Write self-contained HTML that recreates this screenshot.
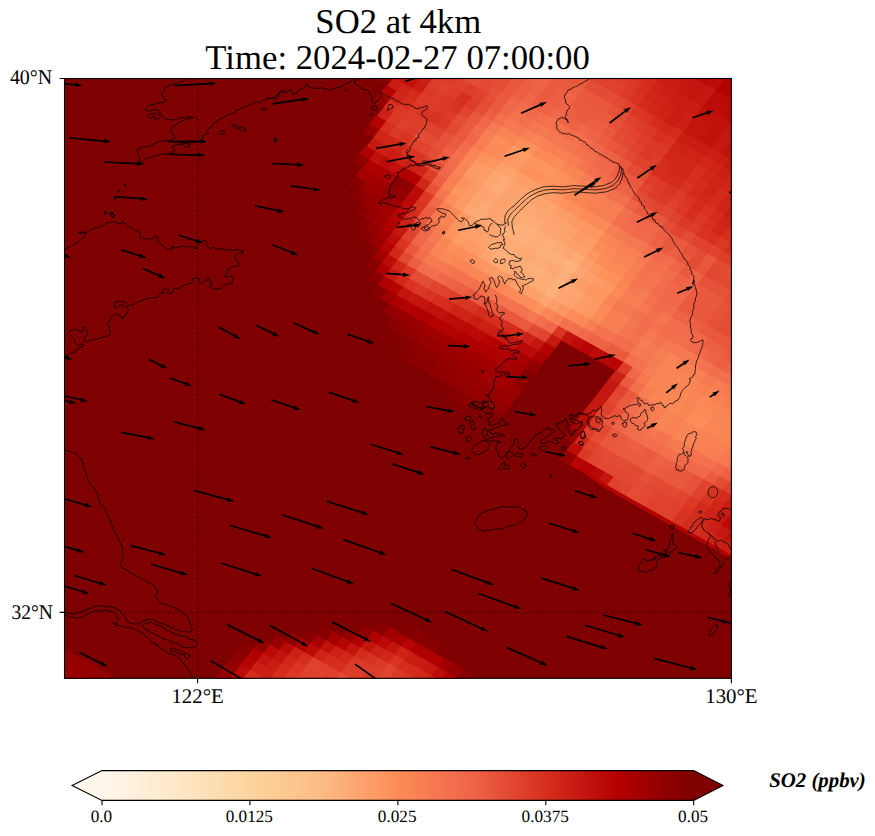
<!DOCTYPE html>
<html><head><meta charset="utf-8"><title>SO2 at 4km</title>
<style>
html,body{margin:0;padding:0;background:#fff;}
body{width:875px;height:836px;overflow:hidden;font-family:"Liberation Serif",serif;}
svg{display:block;}
text{font-family:"Liberation Serif",serif;fill:#000;text-rendering:geometricPrecision;}
</style></head><body>
<svg width="875" height="836" viewBox="0 0 875 836">
<rect width="875" height="836" fill="#fff"/>
<text x="398.3" y="33.2" font-size="34.72" text-anchor="middle">SO2 at 4km</text>
<text x="397.6" y="69.1" font-size="34.72" text-anchor="middle">Time: 2024-02-27 07:00:00</text>
<defs><clipPath id="axclip"><rect x="64.5" y="78.5" width="666.9" height="599.8"/></clipPath></defs>
<rect x="64.5" y="78.5" width="666.9" height="599.8" fill="#7f0000"/>
<g clip-path="url(#axclip)">
<path fill="#fdb27b" stroke="#fdb27b" stroke-width="1.6" d="M543.7 293.6L552.9 298.8L559.5 290.5L550.2 285.3ZM550.2 285.3L559.5 290.5L566.0 282.1L556.7 276.9ZM563.3 268.6L572.5 273.7L579.0 265.4L569.8 260.2Z"/>
<path fill="#fdaf79" stroke="#fdaf79" stroke-width="1.6" d="M498.5 232.3L507.8 237.5L514.3 229.1L505.1 223.9ZM494.7 254.2L504.0 259.4L510.5 251.0L501.3 245.8ZM507.8 237.5L517.0 242.7L523.6 234.3L514.3 229.1ZM514.3 229.1L523.6 234.3L530.1 226.0L520.8 220.8ZM504.0 259.4L513.2 264.5L519.8 256.2L510.5 251.0ZM517.0 242.7L526.3 247.8L532.8 239.5L523.6 234.3ZM523.6 234.3L532.8 239.5L539.3 231.1L530.1 226.0ZM522.5 269.7L531.7 274.9L538.3 266.6L529.0 261.4ZM535.5 253.0L544.8 258.2L551.3 249.8L542.1 244.7ZM542.1 244.7L551.3 249.8L557.8 241.5L548.6 236.3ZM531.7 274.9L541.0 280.1L547.5 271.7L538.3 266.6ZM544.8 258.2L554.0 263.4L560.6 255.0L551.3 249.8ZM554.0 263.4L563.3 268.6L569.8 260.2L560.6 255.0ZM556.7 276.9L566.0 282.1L572.5 273.7L563.3 268.6Z"/>
<path fill="#fdab75" stroke="#fdab75" stroke-width="1.6" d="M470.8 216.8L480.0 221.9L486.6 213.6L477.3 208.4ZM477.3 208.4L486.6 213.6L493.1 205.2L483.8 200.0ZM490.4 191.7L499.6 196.9L506.1 188.5L496.9 183.3ZM496.9 183.3L506.1 188.5L512.7 180.2L503.4 175.0ZM485.5 249.0L494.7 254.2L501.3 245.8L492.0 240.7ZM505.1 223.9L514.3 229.1L520.8 220.8L511.6 215.6ZM511.6 215.6L520.8 220.8L527.4 212.4L518.1 207.2ZM488.2 262.5L497.5 267.7L504.0 259.4L494.7 254.2ZM501.3 245.8L510.5 251.0L517.0 242.7L507.8 237.5ZM520.8 220.8L530.1 226.0L536.6 217.6L527.4 212.4ZM497.5 267.7L506.7 272.9L513.2 264.5L504.0 259.4ZM510.5 251.0L519.8 256.2L526.3 247.8L517.0 242.7ZM530.1 226.0L539.3 231.1L545.9 222.8L536.6 217.6ZM513.2 264.5L522.5 269.7L529.0 261.4L519.8 256.2ZM526.3 247.8L535.5 253.0L542.1 244.7L532.8 239.5ZM532.8 239.5L542.1 244.7L548.6 236.3L539.3 231.1ZM516.0 278.1L525.2 283.3L531.7 274.9L522.5 269.7ZM529.0 261.4L538.3 266.6L544.8 258.2L535.5 253.0ZM525.2 283.3L534.4 288.4L541.0 280.1L531.7 274.9ZM538.3 266.6L547.5 271.7L554.0 263.4L544.8 258.2ZM551.3 249.8L560.6 255.0L567.1 246.7L557.8 241.5ZM534.4 288.4L543.7 293.6L550.2 285.3L541.0 280.1ZM541.0 280.1L550.2 285.3L556.7 276.9L547.5 271.7ZM569.8 260.2L579.0 265.4L585.6 257.0L576.3 251.9Z"/>
<path fill="#fda671" stroke="#fda671" stroke-width="1.6" d="M461.5 211.6L470.8 216.8L477.3 208.4L468.1 203.2ZM481.1 186.5L490.4 191.7L496.9 183.3L487.7 178.2ZM487.7 178.2L496.9 183.3L503.4 175.0L494.2 169.8ZM483.8 200.0L493.1 205.2L499.6 196.9L490.4 191.7ZM480.0 221.9L489.3 227.1L495.8 218.8L486.6 213.6ZM489.3 227.1L498.5 232.3L505.1 223.9L495.8 218.8ZM495.8 218.8L505.1 223.9L511.6 215.6L502.3 210.4ZM492.0 240.7L501.3 245.8L507.8 237.5L498.5 232.3ZM518.1 207.2L527.4 212.4L533.9 204.1L524.6 198.9ZM524.6 198.9L533.9 204.1L540.4 195.7L531.2 190.5ZM527.4 212.4L536.6 217.6L543.1 209.2L533.9 204.1ZM536.6 217.6L545.9 222.8L552.4 214.4L543.1 209.2ZM506.7 272.9L516.0 278.1L522.5 269.7L513.2 264.5ZM519.8 256.2L529.0 261.4L535.5 253.0L526.3 247.8ZM539.3 231.1L548.6 236.3L555.1 228.0L545.9 222.8ZM548.6 236.3L557.8 241.5L564.4 233.1L555.1 228.0ZM547.5 271.7L556.7 276.9L563.3 268.6L554.0 263.4ZM560.6 255.0L569.8 260.2L576.3 251.9L567.1 246.7ZM537.2 302.0L546.4 307.2L552.9 298.8L543.7 293.6ZM552.9 298.8L562.2 304.0L568.7 295.6L559.5 290.5ZM559.5 290.5L568.7 295.6L575.2 287.3L566.0 282.1ZM572.5 273.7L581.8 278.9L588.3 270.6L579.0 265.4Z"/>
<path fill="#fca36e" stroke="#fca36e" stroke-width="1.6" d="M468.1 203.2L477.3 208.4L483.8 200.0L474.6 194.9ZM474.6 194.9L483.8 200.0L490.4 191.7L481.1 186.5ZM464.3 225.1L473.5 230.3L480.0 221.9L470.8 216.8ZM503.4 175.0L512.7 180.2L519.2 171.8L510.0 166.6ZM486.6 213.6L495.8 218.8L502.3 210.4L493.1 205.2ZM493.1 205.2L502.3 210.4L508.9 202.1L499.6 196.9ZM499.6 196.9L508.9 202.1L515.4 193.7L506.1 188.5ZM506.1 188.5L515.4 193.7L521.9 185.4L512.7 180.2ZM476.2 243.8L485.5 249.0L492.0 240.7L482.8 235.5ZM482.8 235.5L492.0 240.7L498.5 232.3L489.3 227.1ZM502.3 210.4L511.6 215.6L518.1 207.2L508.9 202.1ZM508.9 202.1L518.1 207.2L524.6 198.9L515.4 193.7ZM515.4 193.7L524.6 198.9L531.2 190.5L521.9 185.4ZM479.0 257.4L488.2 262.5L494.7 254.2L485.5 249.0ZM533.9 204.1L543.1 209.2L549.7 200.9L540.4 195.7ZM543.1 209.2L552.4 214.4L558.9 206.1L549.7 200.9ZM545.9 222.8L555.1 228.0L561.6 219.6L552.4 214.4ZM555.1 228.0L564.4 233.1L570.9 224.8L561.6 219.6ZM557.8 241.5L567.1 246.7L573.6 238.3L564.4 233.1ZM566.0 282.1L575.2 287.3L581.8 278.9L572.5 273.7ZM562.2 304.0L571.4 309.2L578.0 300.8L568.7 295.6ZM568.7 295.6L578.0 300.8L584.5 292.5L575.2 287.3Z"/>
<path fill="#fc9f6a" stroke="#fc9f6a" stroke-width="1.6" d="M494.2 169.8L503.4 175.0L510.0 166.6L500.7 161.5ZM457.7 233.5L467.0 238.6L473.5 230.3L464.3 225.1ZM467.0 238.6L476.2 243.8L482.8 235.5L473.5 230.3ZM473.5 230.3L482.8 235.5L489.3 227.1L480.0 221.9ZM509.4 286.4L518.7 291.6L525.2 283.3L516.0 278.1ZM518.7 291.6L527.9 296.8L534.4 288.4L525.2 283.3ZM564.4 233.1L573.6 238.3L580.1 230.0L570.9 224.8ZM527.9 296.8L537.2 302.0L543.7 293.6L534.4 288.4ZM567.1 246.7L576.3 251.9L582.9 243.5L573.6 238.3ZM576.3 251.9L585.6 257.0L592.1 248.7L582.9 243.5ZM579.0 265.4L588.3 270.6L594.8 262.2L585.6 257.0ZM581.8 278.9L591.0 284.1L597.5 275.8L588.3 270.6Z"/>
<path fill="#fc9c67" stroke="#fc9c67" stroke-width="1.6" d="M471.9 181.3L481.1 186.5L487.7 178.2L478.4 173.0ZM478.4 173.0L487.7 178.2L494.2 169.8L484.9 164.6ZM451.2 241.8L460.5 247.0L467.0 238.6L457.7 233.5ZM516.5 158.3L525.7 163.5L532.3 155.1L523.0 149.9ZM512.7 180.2L521.9 185.4L528.4 177.0L519.2 171.8ZM469.7 252.2L479.0 257.4L485.5 249.0L476.2 243.8ZM521.9 185.4L531.2 190.5L537.7 182.2L528.4 177.0ZM531.2 190.5L540.4 195.7L546.9 187.4L537.7 182.2ZM540.4 195.7L549.7 200.9L556.2 192.5L546.9 187.4ZM490.9 276.1L500.2 281.3L506.7 272.9L497.5 267.7ZM552.4 214.4L561.6 219.6L568.2 211.3L558.9 206.1ZM561.6 219.6L570.9 224.8L577.4 216.4L568.2 211.3ZM582.9 243.5L592.1 248.7L598.6 240.3L589.4 235.2ZM546.4 307.2L555.7 312.3L562.2 304.0L552.9 298.8ZM575.2 287.3L584.5 292.5L591.0 284.1L581.8 278.9ZM571.4 309.2L580.7 314.3L587.2 306.0L578.0 300.8ZM578.0 300.8L587.2 306.0L593.7 297.6L584.5 292.5ZM591.0 284.1L600.3 289.3L606.8 280.9L597.5 275.8Z"/>
<path fill="#fc9863" stroke="#fc9863" stroke-width="1.6" d="M462.6 176.2L471.9 181.3L478.4 173.0L469.2 167.8ZM469.2 167.8L478.4 173.0L484.9 164.6L475.7 159.4ZM452.3 206.4L461.5 211.6L468.1 203.2L458.8 198.0ZM458.8 198.0L468.1 203.2L474.6 194.9L465.4 189.7ZM465.4 189.7L474.6 194.9L481.1 186.5L471.9 181.3ZM455.0 219.9L464.3 225.1L470.8 216.8L461.5 211.6ZM507.2 153.1L516.5 158.3L523.0 149.9L513.8 144.8ZM510.0 166.6L519.2 171.8L525.7 163.5L516.5 158.3ZM460.5 247.0L469.7 252.2L476.2 243.8L467.0 238.6ZM481.7 270.9L490.9 276.1L497.5 267.7L488.2 262.5ZM549.7 200.9L558.9 206.1L565.4 197.7L556.2 192.5ZM500.2 281.3L509.4 286.4L516.0 278.1L506.7 272.9ZM570.9 224.8L580.1 230.0L586.7 221.6L577.4 216.4ZM573.6 238.3L582.9 243.5L589.4 235.2L580.1 230.0ZM588.3 270.6L597.5 275.8L604.1 267.4L594.8 262.2ZM580.7 314.3L589.9 319.5L596.5 311.2L587.2 306.0ZM587.2 306.0L596.5 311.2L603.0 302.8L593.7 297.6ZM600.3 289.3L609.5 294.5L616.0 286.1L606.8 280.9Z"/>
<path fill="#fc9560" stroke="#fc9560" stroke-width="1.6" d="M449.6 192.9L458.8 198.0L465.4 189.7L456.1 184.5ZM484.9 164.6L494.2 169.8L500.7 161.5L491.5 156.3ZM448.5 228.3L457.7 233.5L464.3 225.1L455.0 219.9ZM500.7 161.5L510.0 166.6L516.5 158.3L507.2 153.1ZM525.7 163.5L535.0 168.6L541.5 160.3L532.3 155.1ZM535.0 168.6L544.2 173.8L550.7 165.5L541.5 160.3ZM472.4 265.7L481.7 270.9L488.2 262.5L479.0 257.4ZM537.7 182.2L546.9 187.4L553.5 179.0L544.2 173.8ZM544.2 173.8L553.5 179.0L560.0 170.7L550.7 165.5ZM580.1 230.0L589.4 235.2L595.9 226.8L586.7 221.6ZM589.4 235.2L598.6 240.3L605.2 232.0L595.9 226.8ZM585.6 257.0L594.8 262.2L601.3 253.9L592.1 248.7ZM555.7 312.3L564.9 317.5L571.4 309.2L562.2 304.0ZM584.5 292.5L593.7 297.6L600.3 289.3L591.0 284.1ZM593.7 297.6L603.0 302.8L609.5 294.5L600.3 289.3Z"/>
<path fill="#fc915c" stroke="#fc915c" stroke-width="1.6" d="M456.1 184.5L465.4 189.7L471.9 181.3L462.6 176.2ZM475.7 159.4L484.9 164.6L491.5 156.3L482.2 151.1ZM442.0 236.6L451.2 241.8L457.7 233.5L448.5 228.3ZM444.7 250.2L453.9 255.3L460.5 247.0L451.2 241.8ZM523.0 149.9L532.3 155.1L538.8 146.8L529.5 141.6ZM519.2 171.8L528.4 177.0L535.0 168.6L525.7 163.5ZM463.2 260.5L472.4 265.7L479.0 257.4L469.7 252.2ZM528.4 177.0L537.7 182.2L544.2 173.8L535.0 168.6ZM546.9 187.4L556.2 192.5L562.7 184.2L553.5 179.0ZM553.5 179.0L562.7 184.2L569.2 175.8L560.0 170.7ZM558.9 206.1L568.2 211.3L574.7 202.9L565.4 197.7ZM568.2 211.3L577.4 216.4L583.9 208.1L574.7 202.9ZM530.6 310.3L539.9 315.5L546.4 307.2L537.2 302.0ZM597.5 275.8L606.8 280.9L613.3 272.6L604.1 267.4ZM606.8 280.9L616.0 286.1L622.6 277.8L613.3 272.6Z"/>
<path fill="#fc8c59" stroke="#fc8c59" stroke-width="1.6" d="M443.1 201.2L452.3 206.4L458.8 198.0L449.6 192.9ZM488.7 142.7L498.0 147.9L504.5 139.6L495.3 134.4ZM491.5 156.3L500.7 161.5L507.2 153.1L498.0 147.9ZM498.0 147.9L507.2 153.1L513.8 144.8L504.5 139.6ZM513.8 144.8L523.0 149.9L529.5 141.6L520.3 136.4ZM453.9 255.3L463.2 260.5L469.7 252.2L460.5 247.0ZM550.7 165.5L560.0 170.7L566.5 162.3L557.3 157.1ZM556.2 192.5L565.4 197.7L572.0 189.4L562.7 184.2ZM562.7 184.2L572.0 189.4L578.5 181.0L569.2 175.8ZM512.1 300.0L521.4 305.1L527.9 296.8L518.7 291.6ZM577.4 216.4L586.7 221.6L593.2 213.3L583.9 208.1ZM521.4 305.1L530.6 310.3L537.2 302.0L527.9 296.8ZM592.1 248.7L601.3 253.9L607.9 245.5L598.6 240.3ZM594.8 262.2L604.1 267.4L610.6 259.0L601.3 253.9ZM564.9 317.5L574.2 322.7L580.7 314.3L571.4 309.2ZM684.0 420.3L693.3 425.5L699.8 417.1L690.6 411.9ZM693.3 425.5L702.5 430.7L709.1 422.3L699.8 417.1Z"/>
<path fill="#fb8a58" stroke="#fb8a58" stroke-width="1.6" d="M482.2 151.1L491.5 156.3L498.0 147.9L488.7 142.7ZM445.8 214.7L455.0 219.9L461.5 211.6L452.3 206.4ZM438.2 258.5L447.4 263.7L453.9 255.3L444.7 250.2ZM532.3 155.1L541.5 160.3L548.0 151.9L538.8 146.8ZM541.5 160.3L550.7 165.5L557.3 157.1L548.0 151.9ZM484.4 284.4L493.7 289.6L500.2 281.3L490.9 276.1ZM502.9 294.8L512.1 300.0L518.7 291.6L509.4 286.4ZM586.7 221.6L595.9 226.8L602.4 218.4L593.2 213.3ZM595.9 226.8L605.2 232.0L611.7 223.6L602.4 218.4ZM601.3 253.9L610.6 259.0L617.1 250.7L607.9 245.5ZM604.1 267.4L613.3 272.6L619.8 264.2L610.6 259.0ZM574.2 322.7L583.4 327.9L589.9 319.5L580.7 314.3ZM613.3 272.6L622.6 277.8L629.1 269.4L619.8 264.2ZM589.9 319.5L599.2 324.7L605.7 316.4L596.5 311.2ZM596.5 311.2L605.7 316.4L612.2 308.0L603.0 302.8ZM609.5 294.5L618.8 299.7L625.3 291.3L616.0 286.1ZM656.3 404.8L665.6 409.9L672.1 401.6L662.8 396.4ZM665.6 409.9L674.8 415.1L681.3 406.8L672.1 401.6ZM690.6 411.9L699.8 417.1L706.3 408.8L697.1 403.6ZM697.1 403.6L706.3 408.8L712.9 400.4L703.6 395.2ZM699.8 417.1L709.1 422.3L715.6 413.9L706.3 408.8Z"/>
<path fill="#fa8656" stroke="#fa8656" stroke-width="1.6" d="M459.9 162.6L469.2 167.8L475.7 159.4L466.4 154.3ZM435.4 245.0L444.7 250.2L451.2 241.8L442.0 236.6ZM465.9 274.1L475.2 279.2L481.7 270.9L472.4 265.7ZM475.2 279.2L484.4 284.4L490.9 276.1L481.7 270.9ZM560.0 170.7L569.2 175.8L575.8 167.5L566.5 162.3ZM493.7 289.6L502.9 294.8L509.4 286.4L500.2 281.3ZM565.4 197.7L574.7 202.9L581.2 194.6L572.0 189.4ZM572.0 189.4L581.2 194.6L587.7 186.2L578.5 181.0ZM574.7 202.9L583.9 208.1L590.5 199.7L581.2 194.6ZM539.9 315.5L549.1 320.7L555.7 312.3L546.4 307.2ZM598.6 240.3L607.9 245.5L614.4 237.2L605.2 232.0ZM603.0 302.8L612.2 308.0L618.8 299.7L609.5 294.5ZM616.0 286.1L625.3 291.3L631.8 282.9L622.6 277.8ZM647.1 399.6L656.3 404.8L662.8 396.4L653.6 391.2ZM662.8 396.4L672.1 401.6L678.6 393.2L669.4 388.0ZM669.4 388.0L678.6 393.2L685.1 384.9L675.9 379.7ZM672.1 401.6L681.3 406.8L687.9 398.4L678.6 393.2ZM678.6 393.2L687.9 398.4L694.4 390.1L685.1 384.9ZM674.8 415.1L684.0 420.3L690.6 411.9L681.3 406.8ZM677.5 428.6L686.8 433.8L693.3 425.5L684.0 420.3ZM706.3 408.8L715.6 413.9L722.1 405.6L712.9 400.4ZM702.5 430.7L711.8 435.8L718.3 427.5L709.1 422.3ZM711.8 435.8L721.0 441.0L727.6 432.7L718.3 427.5ZM721.0 441.0L730.3 446.2L736.8 437.8L727.6 432.7Z"/>
<path fill="#f98455" stroke="#f98455" stroke-width="1.6" d="M453.4 171.0L462.6 176.2L469.2 167.8L459.9 162.6ZM466.4 154.3L475.7 159.4L482.2 151.1L473.0 145.9ZM495.3 134.4L504.5 139.6L511.0 131.2L501.8 126.0ZM439.2 223.1L448.5 228.3L455.0 219.9L445.8 214.7ZM504.5 139.6L513.8 144.8L520.3 136.4L511.0 131.2ZM428.9 253.3L438.2 258.5L444.7 250.2L435.4 245.0ZM529.5 141.6L538.8 146.8L545.3 138.4L536.1 133.2ZM447.4 263.7L456.7 268.9L463.2 260.5L453.9 255.3ZM456.7 268.9L465.9 274.1L472.4 265.7L463.2 260.5ZM569.2 175.8L578.5 181.0L585.0 172.7L575.8 167.5ZM581.2 194.6L590.5 199.7L597.0 191.4L587.7 186.2ZM607.9 245.5L617.1 250.7L623.6 242.3L614.4 237.2ZM610.6 259.0L619.8 264.2L626.4 255.9L617.1 250.7ZM619.8 264.2L629.1 269.4L635.6 261.1L626.4 255.9ZM644.3 386.0L653.6 391.2L660.1 382.9L650.9 377.7ZM650.9 377.7L660.1 382.9L666.6 374.5L657.4 369.3ZM657.4 369.3L666.6 374.5L673.2 366.2L663.9 361.0ZM663.9 361.0L673.2 366.2L679.7 357.8L670.4 352.6ZM653.6 391.2L662.8 396.4L669.4 388.0L660.1 382.9ZM660.1 382.9L669.4 388.0L675.9 379.7L666.6 374.5ZM666.6 374.5L675.9 379.7L682.4 371.3L673.2 366.2ZM675.9 379.7L685.1 384.9L691.7 376.5L682.4 371.3ZM652.5 426.6L661.7 431.8L668.3 423.5L659.0 418.3ZM659.0 418.3L668.3 423.5L674.8 415.1L665.6 409.9ZM685.1 384.9L694.4 390.1L700.9 381.7L691.7 376.5ZM681.3 406.8L690.6 411.9L697.1 403.6L687.9 398.4ZM687.9 398.4L697.1 403.6L703.6 395.2L694.4 390.1ZM671.0 437.0L680.2 442.2L686.8 433.8L677.5 428.6ZM703.6 395.2L712.9 400.4L719.4 392.1L710.2 386.9ZM680.2 442.2L689.5 447.4L696.0 439.0L686.8 433.8ZM686.8 433.8L696.0 439.0L702.5 430.7L693.3 425.5ZM709.1 422.3L718.3 427.5L724.8 419.1L715.6 413.9ZM715.6 413.9L724.8 419.1L731.4 410.8L722.1 405.6ZM718.3 427.5L727.6 432.7L734.1 424.3L724.8 419.1ZM724.8 419.1L734.1 424.3L740.6 416.0L731.4 410.8ZM727.6 432.7L736.8 437.8L743.3 429.5L734.1 424.3ZM734.1 424.3L743.3 429.5L749.9 421.1L740.6 416.0Z"/>
<path fill="#f88053" stroke="#f88053" stroke-width="1.6" d="M440.3 187.7L449.6 192.9L456.1 184.5L446.9 179.3ZM446.9 179.3L456.1 184.5L462.6 176.2L453.4 171.0ZM479.5 137.6L488.7 142.7L495.3 134.4L486.0 129.2ZM436.5 209.6L445.8 214.7L452.3 206.4L443.1 201.2ZM520.3 136.4L529.5 141.6L536.1 133.2L526.8 128.0ZM538.8 146.8L548.0 151.9L554.6 143.6L545.3 138.4ZM548.0 151.9L557.3 157.1L563.8 148.8L554.6 143.6ZM557.3 157.1L566.5 162.3L573.0 153.9L563.8 148.8ZM583.9 208.1L593.2 213.3L599.7 204.9L590.5 199.7ZM590.5 199.7L599.7 204.9L606.2 196.6L597.0 191.4ZM549.1 320.7L558.4 325.9L564.9 317.5L555.7 312.3ZM617.1 250.7L626.4 255.9L632.9 247.5L623.6 242.3ZM626.4 255.9L635.6 261.1L642.1 252.7L632.9 247.5ZM622.6 277.8L631.8 282.9L638.3 274.6L629.1 269.4ZM605.7 316.4L615.0 321.5L621.5 313.2L612.2 308.0ZM618.8 299.7L628.0 304.8L634.5 296.5L625.3 291.3ZM615.0 321.5L624.2 326.7L630.7 318.4L621.5 313.2ZM628.0 304.8L637.3 310.0L643.8 301.7L634.5 296.5ZM673.2 366.2L682.4 371.3L688.9 363.0L679.7 357.8ZM682.4 371.3L691.7 376.5L698.2 368.2L688.9 363.0ZM691.7 376.5L700.9 381.7L707.4 373.3L698.2 368.2ZM661.7 431.8L671.0 437.0L677.5 428.6L668.3 423.5ZM668.3 423.5L677.5 428.6L684.0 420.3L674.8 415.1ZM694.4 390.1L703.6 395.2L710.2 386.9L700.9 381.7ZM712.9 400.4L722.1 405.6L728.6 397.2L719.4 392.1ZM689.5 447.4L698.7 452.5L705.3 444.2L696.0 439.0ZM696.0 439.0L705.3 444.2L711.8 435.8L702.5 430.7ZM698.7 452.5L708.0 457.7L714.5 449.4L705.3 444.2ZM705.3 444.2L714.5 449.4L721.0 441.0L711.8 435.8ZM714.5 449.4L723.8 454.6L730.3 446.2L721.0 441.0ZM730.3 446.2L739.5 451.4L746.1 443.0L736.8 437.8Z"/>
<path fill="#f77d52" stroke="#f77d52" stroke-width="1.6" d="M473.0 145.9L482.2 151.1L488.7 142.7L479.5 137.6ZM432.7 231.5L442.0 236.6L448.5 228.3L439.2 223.1ZM566.5 162.3L575.8 167.5L582.3 159.1L573.0 153.9ZM578.5 181.0L587.7 186.2L594.3 177.8L585.0 172.7ZM593.2 213.3L602.4 218.4L609.0 210.1L599.7 204.9ZM599.7 204.9L609.0 210.1L615.5 201.7L606.2 196.6ZM602.4 218.4L611.7 223.6L618.2 215.3L609.0 210.1ZM609.0 210.1L618.2 215.3L624.7 206.9L615.5 201.7ZM605.2 232.0L614.4 237.2L620.9 228.8L611.7 223.6ZM583.4 327.9L592.7 333.1L599.2 324.7L589.9 319.5ZM629.1 269.4L638.3 274.6L644.9 266.2L635.6 261.1ZM599.2 324.7L608.4 329.9L615.0 321.5L605.7 316.4ZM608.4 329.9L617.7 335.1L624.2 326.7L615.0 321.5ZM634.5 296.5L643.8 301.7L650.3 293.3L641.1 288.1ZM636.2 345.4L645.4 350.6L651.9 342.3L642.7 337.1ZM641.6 372.5L650.9 377.7L657.4 369.3L648.1 364.1ZM648.1 364.1L657.4 369.3L663.9 361.0L654.7 355.8ZM654.7 355.8L663.9 361.0L670.4 352.6L661.2 347.4ZM637.8 394.4L647.1 399.6L653.6 391.2L644.3 386.0ZM643.3 421.5L652.5 426.6L659.0 418.3L649.8 413.1ZM649.8 413.1L659.0 418.3L665.6 409.9L656.3 404.8ZM710.2 386.9L719.4 392.1L725.9 383.7L716.7 378.5ZM722.1 405.6L731.4 410.8L737.9 402.4L728.6 397.2ZM731.4 410.8L740.6 416.0L747.1 407.6L737.9 402.4ZM708.0 457.7L717.2 462.9L723.8 454.6L714.5 449.4Z"/>
<path fill="#f67a51" stroke="#f67a51" stroke-width="1.6" d="M486.0 129.2L495.3 134.4L501.8 126.0L492.5 120.9ZM430.0 217.9L439.2 223.1L445.8 214.7L436.5 209.6ZM501.8 126.0L511.0 131.2L517.6 122.9L508.3 117.7ZM426.2 239.8L435.4 245.0L442.0 236.6L432.7 231.5ZM511.0 131.2L520.3 136.4L526.8 128.0L517.6 122.9ZM422.4 261.7L431.6 266.9L438.2 258.5L428.9 253.3ZM431.6 266.9L440.9 272.1L447.4 263.7L438.2 258.5ZM536.1 133.2L545.3 138.4L551.8 130.1L542.6 124.9ZM587.7 186.2L597.0 191.4L603.5 183.0L594.3 177.8ZM614.4 237.2L623.6 242.3L630.2 234.0L620.9 228.8ZM635.6 261.1L644.9 266.2L651.4 257.9L642.1 252.7ZM612.2 308.0L621.5 313.2L628.0 304.8L618.8 299.7ZM625.3 291.3L634.5 296.5L641.1 288.1L631.8 282.9ZM621.5 313.2L630.7 318.4L637.3 310.0L628.0 304.8ZM629.6 353.8L638.9 359.0L645.4 350.6L636.2 345.4ZM642.7 337.1L651.9 342.3L658.5 333.9L649.2 328.7ZM661.2 347.4L670.4 352.6L677.0 344.3L667.7 339.1ZM670.4 352.6L679.7 357.8L686.2 349.5L677.0 344.3ZM679.7 357.8L688.9 363.0L695.5 354.6L686.2 349.5ZM700.9 381.7L710.2 386.9L716.7 378.5L707.4 373.3ZM664.5 445.4L673.7 450.5L680.2 442.2L671.0 437.0ZM673.7 450.5L683.0 455.7L689.5 447.4L680.2 442.2ZM719.4 392.1L728.6 397.2L735.2 388.9L725.9 383.7ZM723.8 454.6L733.0 459.7L739.5 451.4L730.3 446.2Z"/>
<path fill="#f57750" stroke="#f57750" stroke-width="1.6" d="M433.8 196.0L443.1 201.2L449.6 192.9L440.3 187.7ZM526.8 128.0L536.1 133.2L542.6 124.9L533.3 119.7ZM440.9 272.1L450.1 277.2L456.7 268.9L447.4 263.7ZM545.3 138.4L554.6 143.6L561.1 135.2L551.8 130.1ZM554.6 143.6L563.8 148.8L570.3 140.4L561.1 135.2ZM563.8 148.8L573.0 153.9L579.6 145.6L570.3 140.4ZM575.8 167.5L585.0 172.7L591.5 164.3L582.3 159.1ZM597.0 191.4L606.2 196.6L612.8 188.2L603.5 183.0ZM524.1 318.7L533.4 323.9L539.9 315.5L530.6 310.3ZM623.6 242.3L632.9 247.5L639.4 239.2L630.2 234.0ZM632.9 247.5L642.1 252.7L648.7 244.4L639.4 239.2ZM631.8 282.9L641.1 288.1L647.6 279.8L638.3 274.6ZM641.1 288.1L650.3 293.3L656.8 285.0L647.6 279.8ZM647.6 279.8L656.8 285.0L663.4 276.6L654.1 271.4ZM617.7 335.1L626.9 340.3L633.4 331.9L624.2 326.7ZM624.2 326.7L633.4 331.9L640.0 323.5L630.7 318.4ZM637.3 310.0L646.5 315.2L653.0 306.8L643.8 301.7ZM655.7 320.4L665.0 325.6L671.5 317.2L662.3 312.0ZM638.9 359.0L648.1 364.1L654.7 355.8L645.4 350.6ZM645.4 350.6L654.7 355.8L661.2 347.4L651.9 342.3ZM635.1 380.9L644.3 386.0L650.9 377.7L641.6 372.5ZM634.0 416.3L643.3 421.5L649.8 413.1L640.5 407.9ZM640.5 407.9L649.8 413.1L656.3 404.8L647.1 399.6ZM688.9 363.0L698.2 368.2L704.7 359.8L695.5 354.6ZM646.0 435.0L655.2 440.2L661.7 431.8L652.5 426.6ZM728.6 397.2L737.9 402.4L744.4 394.1L735.2 388.9ZM717.2 462.9L726.5 468.1L733.0 459.7L723.8 454.6Z"/>
<path fill="#f4734e" stroke="#f4734e" stroke-width="1.6" d="M423.5 226.3L432.7 231.5L439.2 223.1L430.0 217.9ZM508.3 117.7L517.6 122.9L524.1 114.5L514.8 109.3ZM419.7 248.2L428.9 253.3L435.4 245.0L426.2 239.8ZM542.6 124.9L551.8 130.1L558.4 121.7L549.1 116.5ZM450.1 277.2L459.4 282.4L465.9 274.1L456.7 268.9ZM459.4 282.4L468.6 287.6L475.2 279.2L465.9 274.1ZM573.0 153.9L582.3 159.1L588.8 150.8L579.6 145.6ZM496.4 303.1L505.6 308.3L512.1 300.0L502.9 294.8ZM505.6 308.3L514.9 313.5L521.4 305.1L512.1 300.0ZM514.9 313.5L524.1 318.7L530.6 310.3L521.4 305.1ZM558.4 325.9L567.6 331.1L574.2 322.7L564.9 317.5ZM592.7 333.1L601.9 338.2L608.4 329.9L599.2 324.7ZM638.3 274.6L647.6 279.8L654.1 271.4L644.9 266.2ZM601.9 338.2L611.1 343.4L617.7 335.1L608.4 329.9ZM654.1 271.4L663.4 276.6L669.9 268.2L660.6 263.1ZM630.7 318.4L640.0 323.5L646.5 315.2L637.3 310.0ZM643.8 301.7L653.0 306.8L659.6 298.5L650.3 293.3ZM626.9 340.3L636.2 345.4L642.7 337.1L633.4 331.9ZM649.2 328.7L658.5 333.9L665.0 325.6L655.7 320.4ZM632.4 367.3L641.6 372.5L648.1 364.1L638.9 359.0ZM651.9 342.3L661.2 347.4L667.7 339.1L658.5 333.9ZM698.2 368.2L707.4 373.3L714.0 365.0L704.7 359.8ZM655.2 440.2L664.5 445.4L671.0 437.0L661.7 431.8ZM683.0 455.7L692.2 460.9L698.7 452.5L689.5 447.4ZM692.2 460.9L701.5 466.1L708.0 457.7L698.7 452.5ZM733.0 459.7L742.3 464.9L748.8 456.6L739.5 451.4Z"/>
<path fill="#f2704c" stroke="#f2704c" stroke-width="1.6" d="M450.7 157.4L459.9 162.6L466.4 154.3L457.2 149.1ZM492.5 120.9L501.8 126.0L508.3 117.7L499.1 112.5ZM517.6 122.9L526.8 128.0L533.3 119.7L524.1 114.5ZM533.3 119.7L542.6 124.9L549.1 116.5L539.9 111.3ZM425.1 275.2L434.4 280.4L440.9 272.1L431.6 266.9ZM551.8 130.1L561.1 135.2L567.6 126.9L558.4 121.7ZM570.3 140.4L579.6 145.6L586.1 137.2L576.9 132.1ZM468.6 287.6L477.9 292.8L484.4 284.4L475.2 279.2ZM477.9 292.8L487.1 298.0L493.7 289.6L484.4 284.4ZM582.3 159.1L591.5 164.3L598.1 156.0L588.8 150.8ZM487.1 298.0L496.4 303.1L502.9 294.8L493.7 289.6ZM585.0 172.7L594.3 177.8L600.8 169.5L591.5 164.3ZM606.2 196.6L615.5 201.7L622.0 193.4L612.8 188.2ZM615.5 201.7L624.7 206.9L631.3 198.6L622.0 193.4ZM611.7 223.6L620.9 228.8L627.4 220.5L618.2 215.3ZM618.2 215.3L627.4 220.5L634.0 212.1L624.7 206.9ZM567.6 331.1L576.9 336.2L583.4 327.9L574.2 322.7ZM642.1 252.7L651.4 257.9L657.9 249.5L648.7 244.4ZM644.9 266.2L654.1 271.4L660.6 263.1L651.4 257.9ZM633.4 331.9L642.7 337.1L649.2 328.7L640.0 323.5ZM646.5 315.2L655.7 320.4L662.3 312.0L653.0 306.8ZM623.1 362.1L632.4 367.3L638.9 359.0L629.6 353.8ZM628.6 389.2L637.8 394.4L644.3 386.0L635.1 380.9ZM667.7 339.1L677.0 344.3L683.5 335.9L674.2 330.7ZM677.0 344.3L686.2 349.5L692.7 341.1L683.5 335.9ZM636.7 429.8L646.0 435.0L652.5 426.6L643.3 421.5ZM639.4 443.3L648.7 448.5L655.2 440.2L646.0 435.0ZM657.9 453.7L667.2 458.9L673.7 450.5L664.5 445.4ZM716.7 378.5L725.9 383.7L732.4 375.4L723.2 370.2ZM667.2 458.9L676.4 464.1L683.0 455.7L673.7 450.5ZM725.9 383.7L735.2 388.9L741.7 380.5L732.4 375.4ZM701.5 466.1L710.7 471.3L717.2 462.9L708.0 457.7ZM726.5 468.1L735.7 473.3L742.3 464.9L733.0 459.7Z"/>
<path fill="#f26d4b" stroke="#f26d4b" stroke-width="1.6" d="M444.1 165.8L453.4 171.0L459.9 162.6L450.7 157.4ZM457.2 149.1L466.4 154.3L473.0 145.9L463.7 140.7ZM470.2 132.4L479.5 137.6L486.0 129.2L476.8 124.0ZM514.8 109.3L524.1 114.5L530.6 106.2L521.4 101.0ZM413.1 256.5L422.4 261.7L428.9 253.3L419.7 248.2ZM415.9 270.0L425.1 275.2L431.6 266.9L422.4 261.7ZM561.1 135.2L570.3 140.4L576.9 132.1L567.6 126.9ZM579.6 145.6L588.8 150.8L595.3 142.4L586.1 137.2ZM594.3 177.8L603.5 183.0L610.0 174.7L600.8 169.5ZM533.4 323.9L542.6 329.0L549.1 320.7L539.9 315.5ZM620.9 228.8L630.2 234.0L636.7 225.6L627.4 220.5ZM660.6 263.1L669.9 268.2L676.4 259.9L667.2 254.7ZM611.1 343.4L620.4 348.6L626.9 340.3L617.7 335.1ZM650.3 293.3L659.6 298.5L666.1 290.1L656.8 285.0ZM656.8 285.0L666.1 290.1L672.6 281.8L663.4 276.6ZM663.4 276.6L672.6 281.8L679.1 273.4L669.9 268.2ZM620.4 348.6L629.6 353.8L636.2 345.4L626.9 340.3ZM640.0 323.5L649.2 328.7L655.7 320.4L646.5 315.2ZM662.3 312.0L671.5 317.2L678.0 308.9L668.8 303.7ZM658.5 333.9L667.7 339.1L674.2 330.7L665.0 325.6ZM665.0 325.6L674.2 330.7L680.8 322.4L671.5 317.2ZM674.2 330.7L683.5 335.9L690.0 327.6L680.8 322.4ZM624.8 411.1L634.0 416.3L640.5 407.9L631.3 402.7ZM631.3 402.7L640.5 407.9L647.1 399.6L637.8 394.4ZM627.5 424.6L636.7 429.8L643.3 421.5L634.0 416.3ZM630.2 438.2L639.4 443.3L646.0 435.0L636.7 429.8ZM648.7 448.5L657.9 453.7L664.5 445.4L655.2 440.2ZM707.4 373.3L716.7 378.5L723.2 370.2L714.0 365.0ZM735.2 388.9L744.4 394.1L750.9 385.7L741.7 380.5Z"/>
<path fill="#f0694a" stroke="#f0694a" stroke-width="1.6" d="M499.1 112.5L508.3 117.7L514.8 109.3L505.6 104.1ZM417.0 234.6L426.2 239.8L432.7 231.5L423.5 226.3ZM524.1 114.5L533.3 119.7L539.9 111.3L530.6 106.2ZM549.1 116.5L558.4 121.7L564.9 113.3L555.6 108.2ZM434.4 280.4L443.6 285.6L450.1 277.2L440.9 272.1ZM588.8 150.8L598.1 156.0L604.6 147.6L595.3 142.4ZM591.5 164.3L600.8 169.5L607.3 161.1L598.1 156.0ZM603.5 183.0L612.8 188.2L619.3 179.9L610.0 174.7ZM627.4 220.5L636.7 225.6L643.2 217.3L634.0 212.1ZM639.4 239.2L648.7 244.4L655.2 236.0L645.9 230.8ZM576.9 336.2L586.1 341.4L592.7 333.1L583.4 327.9ZM653.0 306.8L662.3 312.0L668.8 303.7L659.6 298.5ZM683.5 335.9L692.7 341.1L699.3 332.7L690.0 327.6ZM621.0 433.0L630.2 438.2L636.7 429.8L627.5 424.6ZM686.2 349.5L695.5 354.6L702.0 346.3L692.7 341.1ZM676.4 464.1L685.7 469.2L692.2 460.9L683.0 455.7ZM685.7 469.2L694.9 474.4L701.5 466.1L692.2 460.9ZM694.9 474.4L704.2 479.6L710.7 471.3L701.5 466.1Z"/>
<path fill="#f06749" stroke="#f06749" stroke-width="1.6" d="M437.6 174.1L446.9 179.3L453.4 171.0L444.1 165.8ZM463.7 140.7L473.0 145.9L479.5 137.6L470.2 132.4ZM476.8 124.0L486.0 129.2L492.5 120.9L483.3 115.7ZM427.3 204.4L436.5 209.6L443.1 201.2L433.8 196.0ZM505.6 104.1L514.8 109.3L521.4 101.0L512.1 95.8ZM410.4 243.0L419.7 248.2L426.2 239.8L417.0 234.6ZM521.4 101.0L530.6 106.2L537.1 97.8L527.9 92.6ZM576.9 132.1L586.1 137.2L592.6 128.9L583.4 123.7ZM600.8 169.5L610.0 174.7L616.6 166.3L607.3 161.1ZM542.6 329.0L551.9 334.2L558.4 325.9L549.1 320.7ZM630.2 234.0L639.4 239.2L645.9 230.8L636.7 225.6ZM636.7 225.6L645.9 230.8L652.5 222.5L643.2 217.3ZM645.9 230.8L655.2 236.0L661.7 227.6L652.5 222.5ZM651.4 257.9L660.6 263.1L667.2 254.7L657.9 249.5ZM659.6 298.5L668.8 303.7L675.3 295.3L666.1 290.1ZM666.1 290.1L675.3 295.3L681.9 287.0L672.6 281.8ZM668.8 303.7L678.0 308.9L684.6 300.5L675.3 295.3ZM675.3 295.3L684.6 300.5L691.1 292.1L681.9 287.0ZM681.9 287.0L691.1 292.1L697.6 283.8L688.4 278.6ZM625.8 375.7L635.1 380.9L641.6 372.5L632.4 367.3ZM618.2 419.4L627.5 424.6L634.0 416.3L624.8 411.1ZM692.7 341.1L702.0 346.3L708.5 337.9L699.3 332.7ZM695.5 354.6L704.7 359.8L711.2 351.5L702.0 346.3ZM710.7 471.3L720.0 476.4L726.5 468.1L717.2 462.9Z"/>
<path fill="#ee6246" stroke="#ee6246" stroke-width="1.6" d="M525.2 79.1L534.4 84.3L540.9 75.9L531.7 70.7ZM531.7 70.7L540.9 75.9L547.5 67.6L538.2 62.4ZM527.9 92.6L537.1 97.8L543.7 89.5L534.4 84.3ZM534.4 84.3L543.7 89.5L550.2 81.1L540.9 75.9ZM540.9 75.9L550.2 81.1L556.7 72.7L547.5 67.6ZM539.9 111.3L549.1 116.5L555.6 108.2L546.4 103.0ZM555.6 108.2L564.9 113.3L571.4 105.0L562.2 99.8ZM562.2 99.8L571.4 105.0L577.9 96.6L568.7 91.5ZM558.4 121.7L567.6 126.9L574.1 118.5L564.9 113.3ZM443.6 285.6L452.9 290.8L459.4 282.4L450.1 277.2ZM567.6 126.9L576.9 132.1L583.4 123.7L574.1 118.5ZM586.1 137.2L595.3 142.4L601.9 134.1L592.6 128.9ZM598.1 156.0L607.3 161.1L613.8 152.8L604.6 147.6ZM612.8 188.2L622.0 193.4L628.5 185.0L619.3 179.9ZM622.0 193.4L631.3 198.6L637.8 190.2L628.5 185.0ZM624.7 206.9L634.0 212.1L640.5 203.8L631.3 198.6ZM648.7 244.4L657.9 249.5L664.4 241.2L655.2 236.0ZM586.1 341.4L595.4 346.6L601.9 338.2L592.7 333.1ZM595.4 346.6L604.6 351.8L611.1 343.4L601.9 338.2ZM669.9 268.2L679.1 273.4L685.7 265.1L676.4 259.9ZM672.6 281.8L681.9 287.0L688.4 278.6L679.1 273.4ZM688.4 278.6L697.6 283.8L704.2 275.4L694.9 270.3ZM671.5 317.2L680.8 322.4L687.3 314.0L678.0 308.9ZM680.8 322.4L690.0 327.6L696.5 319.2L687.3 314.0ZM611.7 427.8L621.0 433.0L627.5 424.6L618.2 419.4ZM704.7 359.8L714.0 365.0L720.5 356.6L711.2 351.5ZM651.4 462.1L660.7 467.2L667.2 458.9L657.9 453.7ZM723.2 370.2L732.4 375.4L739.0 367.0L729.7 361.8ZM732.4 375.4L741.7 380.5L748.2 372.2L739.0 367.0Z"/>
<path fill="#ec5f43" stroke="#ec5f43" stroke-width="1.6" d="M441.4 152.3L450.7 157.4L457.2 149.1L447.9 143.9ZM431.1 182.5L440.3 187.7L446.9 179.3L437.6 174.1ZM483.3 115.7L492.5 120.9L499.1 112.5L489.8 107.3ZM420.8 212.7L430.0 217.9L436.5 209.6L427.3 204.4ZM512.1 95.8L521.4 101.0L527.9 92.6L518.6 87.4ZM518.6 87.4L527.9 92.6L534.4 84.3L525.2 79.1ZM406.6 264.9L415.9 270.0L422.4 261.7L413.1 256.5ZM530.6 106.2L539.9 111.3L546.4 103.0L537.1 97.8ZM546.4 103.0L555.6 108.2L562.2 99.8L552.9 94.6ZM552.9 94.6L562.2 99.8L568.7 91.5L559.4 86.3ZM568.7 91.5L577.9 96.6L584.5 88.3L575.2 83.1ZM564.9 113.3L574.1 118.5L580.7 110.2L571.4 105.0ZM452.9 290.8L462.1 295.9L468.6 287.6L459.4 282.4ZM583.4 123.7L592.6 128.9L599.2 120.5L589.9 115.4ZM592.6 128.9L601.9 134.1L608.4 125.7L599.2 120.5ZM595.3 142.4L604.6 147.6L611.1 139.3L601.9 134.1ZM607.3 161.1L616.6 166.3L623.1 158.0L613.8 152.8ZM610.0 174.7L619.3 179.9L625.8 171.5L616.6 166.3ZM655.2 236.0L664.4 241.2L671.0 232.8L661.7 227.6ZM667.2 254.7L676.4 259.9L682.9 251.5L673.7 246.4ZM690.0 327.6L699.3 332.7L705.8 324.4L696.5 319.2ZM623.7 446.5L632.9 451.7L639.4 443.3L630.2 438.2ZM702.0 346.3L711.2 351.5L717.8 343.1L708.5 337.9ZM632.9 451.7L642.2 456.9L648.7 448.5L639.4 443.3ZM711.2 351.5L720.5 356.6L727.0 348.3L717.8 343.1ZM714.0 365.0L723.2 370.2L729.7 361.8L720.5 356.6ZM644.9 470.4L654.1 475.6L660.7 467.2L651.4 462.1ZM729.7 361.8L739.0 367.0L745.5 358.7L736.3 353.5ZM660.7 467.2L669.9 472.4L676.4 464.1L667.2 458.9ZM720.0 476.4L729.2 481.6L735.7 473.3L726.5 468.1Z"/>
<path fill="#ea5a3f" stroke="#ea5a3f" stroke-width="1.6" d="M434.9 160.6L444.1 165.8L450.7 157.4L441.4 152.3ZM447.9 143.9L457.2 149.1L463.7 140.7L454.5 135.6ZM461.0 127.2L470.2 132.4L476.8 124.0L467.5 118.8ZM489.8 107.3L499.1 112.5L505.6 104.1L496.3 99.0ZM496.3 99.0L505.6 104.1L512.1 95.8L502.9 90.6ZM537.1 97.8L546.4 103.0L552.9 94.6L543.7 89.5ZM543.7 89.5L552.9 94.6L559.4 86.3L550.2 81.1ZM550.2 81.1L559.4 86.3L566.0 77.9L556.7 72.7ZM559.4 86.3L568.7 91.5L575.2 83.1L566.0 77.9ZM571.4 105.0L580.7 110.2L587.2 101.8L577.9 96.6ZM574.1 118.5L583.4 123.7L589.9 115.4L580.7 110.2ZM580.7 110.2L589.9 115.4L596.4 107.0L587.2 101.8ZM589.9 115.4L599.2 120.5L605.7 112.2L596.4 107.0ZM462.1 295.9L471.4 301.1L477.9 292.8L468.6 287.6ZM599.2 120.5L608.4 125.7L614.9 117.4L605.7 112.2ZM471.4 301.1L480.6 306.3L487.1 298.0L477.9 292.8ZM489.8 311.5L499.1 316.7L505.6 308.3L496.4 303.1ZM517.6 327.0L526.8 332.2L533.4 323.9L524.1 318.7ZM634.0 212.1L643.2 217.3L649.7 208.9L640.5 203.8ZM657.9 249.5L667.2 254.7L673.7 246.4L664.4 241.2ZM673.7 246.4L682.9 251.5L689.5 243.2L680.2 238.0ZM604.6 351.8L613.9 357.0L620.4 348.6L611.1 343.4ZM613.9 357.0L623.1 362.1L629.6 353.8L620.4 348.6ZM679.1 273.4L688.4 278.6L694.9 270.3L685.7 265.1ZM619.3 384.0L628.6 389.2L635.1 380.9L625.8 375.7ZM678.0 308.9L687.3 314.0L693.8 305.7L684.6 300.5ZM684.6 300.5L693.8 305.7L700.3 297.3L691.1 292.1ZM691.1 292.1L700.3 297.3L706.9 289.0L697.6 283.8ZM615.5 405.9L624.8 411.1L631.3 402.7L622.0 397.6ZM622.0 397.6L631.3 402.7L637.8 394.4L628.6 389.2ZM687.3 314.0L696.5 319.2L703.1 310.9L693.8 305.7ZM700.3 297.3L709.6 302.5L716.1 294.2L706.9 289.0ZM607.9 449.7L617.1 454.9L623.7 446.5L614.4 441.3ZM614.4 441.3L623.7 446.5L630.2 438.2L621.0 433.0ZM699.3 332.7L708.5 337.9L715.0 329.6L705.8 324.4ZM617.1 454.9L626.4 460.0L632.9 451.7L623.7 446.5ZM626.4 460.0L635.6 465.2L642.2 456.9L632.9 451.7ZM635.6 465.2L644.9 470.4L651.4 462.1L642.2 456.9ZM642.2 456.9L651.4 462.1L657.9 453.7L648.7 448.5ZM720.5 356.6L729.7 361.8L736.3 353.5L727.0 348.3ZM654.1 475.6L663.4 480.8L669.9 472.4L660.7 467.2ZM704.2 479.6L713.4 484.8L720.0 476.4L710.7 471.3Z"/>
<path fill="#e9573d" stroke="#e9573d" stroke-width="1.6" d="M454.5 135.6L463.7 140.7L470.2 132.4L461.0 127.2ZM467.5 118.8L476.8 124.0L483.3 115.7L474.0 110.5ZM502.9 90.6L512.1 95.8L518.6 87.4L509.4 82.3ZM509.4 82.3L518.6 87.4L525.2 79.1L515.9 73.9ZM515.9 73.9L525.2 79.1L531.7 70.7L522.4 65.6ZM414.2 221.1L423.5 226.3L430.0 217.9L420.8 212.7ZM403.9 251.3L413.1 256.5L419.7 248.2L410.4 243.0ZM566.0 77.9L575.2 83.1L581.7 74.8L572.5 69.6ZM575.2 83.1L584.5 88.3L591.0 79.9L581.7 74.8ZM577.9 96.6L587.2 101.8L593.7 93.5L584.5 88.3ZM587.2 101.8L596.4 107.0L603.0 98.7L593.7 93.5ZM596.4 107.0L605.7 112.2L612.2 103.8L603.0 98.7ZM601.9 134.1L611.1 139.3L617.6 130.9L608.4 125.7ZM480.6 306.3L489.8 311.5L496.4 303.1L487.1 298.0ZM604.6 147.6L613.8 152.8L620.4 144.4L611.1 139.3ZM499.1 316.7L508.3 321.9L514.9 313.5L505.6 308.3ZM616.6 166.3L625.8 171.5L632.3 163.1L623.1 158.0ZM508.3 321.9L517.6 327.0L524.1 318.7L514.9 313.5ZM619.3 179.9L628.5 185.0L635.1 176.7L625.8 171.5ZM628.5 185.0L637.8 190.2L644.3 181.9L635.1 176.7ZM643.2 217.3L652.5 222.5L659.0 214.1L649.7 208.9ZM652.5 222.5L661.7 227.6L668.2 219.3L659.0 214.1ZM664.4 241.2L673.7 246.4L680.2 238.0L671.0 232.8ZM676.4 259.9L685.7 265.1L692.2 256.7L682.9 251.5ZM694.9 270.3L704.2 275.4L710.7 267.1L701.4 261.9ZM701.4 261.9L710.7 267.1L717.2 258.7L708.0 253.6ZM602.5 422.6L611.7 427.8L618.2 419.4L609.0 414.3ZM693.8 305.7L703.1 310.9L709.6 302.5L700.3 297.3ZM598.7 444.5L607.9 449.7L614.4 441.3L605.2 436.2ZM605.2 436.2L614.4 441.3L621.0 433.0L611.7 427.8ZM696.5 319.2L705.8 324.4L712.3 316.0L703.1 310.9ZM703.1 310.9L712.3 316.0L718.8 307.7L709.6 302.5ZM709.6 302.5L718.8 307.7L725.4 299.3L716.1 294.2ZM708.5 337.9L717.8 343.1L724.3 334.8L715.0 329.6ZM717.8 343.1L727.0 348.3L733.5 339.9L724.3 334.8ZM663.4 480.8L672.6 486.0L679.2 477.6L669.9 472.4ZM669.9 472.4L679.2 477.6L685.7 469.2L676.4 464.1ZM672.6 486.0L681.9 491.1L688.4 482.8L679.2 477.6ZM679.2 477.6L688.4 482.8L694.9 474.4L685.7 469.2ZM729.2 481.6L738.4 486.8L745.0 478.4L735.7 473.3Z"/>
<path fill="#e65239" stroke="#e65239" stroke-width="1.6" d="M465.9 69.9L475.1 75.1L481.7 66.7L472.4 61.5ZM475.1 75.1L484.4 80.3L490.9 71.9L481.7 66.7ZM432.2 147.1L441.4 152.3L447.9 143.9L438.7 138.7ZM438.7 138.7L447.9 143.9L454.5 135.6L445.2 130.4ZM490.9 71.9L500.1 77.1L506.7 68.7L497.4 63.5ZM487.1 93.8L496.3 99.0L502.9 90.6L493.6 85.4ZM506.7 68.7L515.9 73.9L522.4 65.6L513.2 60.4ZM424.6 190.8L433.8 196.0L440.3 187.7L431.1 182.5ZM556.7 72.7L566.0 77.9L572.5 69.6L563.2 64.4ZM605.7 112.2L614.9 117.4L621.5 109.0L612.2 103.8ZM608.4 125.7L617.6 130.9L624.2 122.5L614.9 117.4ZM613.8 152.8L623.1 158.0L629.6 149.6L620.4 144.4ZM682.9 251.5L692.2 256.7L698.7 248.4L689.5 243.2ZM697.6 283.8L706.9 289.0L713.4 280.6L704.2 275.4ZM609.0 414.3L618.2 419.4L624.8 411.1L615.5 405.9ZM706.9 289.0L716.1 294.2L722.6 285.8L713.4 280.6ZM716.1 294.2L725.4 299.3L731.9 291.0L722.6 285.8ZM705.8 324.4L715.0 329.6L721.6 321.2L712.3 316.0ZM712.3 316.0L721.6 321.2L728.1 312.9L718.8 307.7ZM718.8 307.7L728.1 312.9L734.6 304.5L725.4 299.3ZM728.1 312.9L737.3 318.0L743.9 309.7L734.6 304.5ZM727.0 348.3L736.3 353.5L742.8 345.1L733.5 339.9ZM638.4 478.8L647.6 483.9L654.1 475.6L644.9 470.4ZM681.9 491.1L691.1 496.3L697.7 488.0L688.4 482.8ZM688.4 482.8L697.7 488.0L704.2 479.6L694.9 474.4Z"/>
<path fill="#e44d35" stroke="#e44d35" stroke-width="1.6" d="M413.7 136.7L422.9 141.9L429.4 133.5L420.2 128.4ZM459.4 78.2L468.6 83.4L475.1 75.1L465.9 69.9ZM422.9 141.9L432.2 147.1L438.7 138.7L429.4 133.5ZM468.6 83.4L477.9 88.6L484.4 80.3L475.1 75.1ZM425.6 155.4L434.9 160.6L441.4 152.3L432.2 147.1ZM451.7 122.0L461.0 127.2L467.5 118.8L458.3 113.7ZM484.4 80.3L493.6 85.4L500.1 77.1L490.9 71.9ZM428.4 169.0L437.6 174.1L444.1 165.8L434.9 160.6ZM474.0 110.5L483.3 115.7L489.8 107.3L480.6 102.1ZM480.6 102.1L489.8 107.3L496.3 99.0L487.1 93.8ZM493.6 85.4L502.9 90.6L509.4 82.3L500.1 77.1ZM500.1 77.1L509.4 82.3L515.9 73.9L506.7 68.7ZM409.3 278.4L418.6 283.6L425.1 275.2L415.9 270.0ZM572.5 69.6L581.7 74.8L588.3 66.4L579.0 61.2ZM418.6 283.6L427.8 288.8L434.4 280.4L425.1 275.2ZM581.7 74.8L591.0 79.9L597.5 71.6L588.3 66.4ZM584.5 88.3L593.7 93.5L600.2 85.1L591.0 79.9ZM593.7 93.5L603.0 98.7L609.5 90.3L600.2 85.1ZM603.0 98.7L612.2 103.8L618.7 95.5L609.5 90.3ZM614.9 117.4L624.2 122.5L630.7 114.2L621.5 109.0ZM611.1 139.3L620.4 144.4L626.9 136.1L617.6 130.9ZM625.8 171.5L635.1 176.7L641.6 168.3L632.3 163.1ZM635.1 176.7L644.3 181.9L650.8 173.5L641.6 168.3ZM631.3 198.6L640.5 203.8L647.0 195.4L637.8 190.2ZM661.7 227.6L671.0 232.8L677.5 224.5L668.2 219.3ZM334.3 680.7L343.6 685.9L350.1 677.5L340.9 672.4ZM680.2 238.0L689.5 243.2L696.0 234.8L686.7 229.7ZM685.7 265.1L694.9 270.3L701.4 261.9L692.2 256.7ZM692.2 256.7L701.4 261.9L708.0 253.6L698.7 248.4ZM589.4 439.3L598.7 444.5L605.2 436.2L595.9 431.0ZM719.9 272.3L729.2 277.4L735.7 269.1L726.5 263.9ZM729.2 277.4L738.4 282.6L744.9 274.3L735.7 269.1ZM601.4 458.0L610.6 463.2L617.1 454.9L607.9 449.7ZM725.4 299.3L734.6 304.5L741.1 296.2L731.9 291.0ZM610.6 463.2L619.9 468.4L626.4 460.0L617.1 454.9ZM715.0 329.6L724.3 334.8L730.8 326.4L721.6 321.2ZM721.6 321.2L730.8 326.4L737.3 318.0L728.1 312.9ZM734.6 304.5L743.9 309.7L750.4 301.3L741.1 296.2ZM619.9 468.4L629.1 473.6L635.6 465.2L626.4 460.0ZM724.3 334.8L733.5 339.9L740.1 331.6L730.8 326.4ZM730.8 326.4L740.1 331.6L746.6 323.2L737.3 318.0ZM618.8 503.8L628.0 509.0L634.6 500.7L625.3 495.5ZM625.3 495.5L634.6 500.7L641.1 492.3L631.8 487.1ZM631.8 487.1L641.1 492.3L647.6 483.9L638.4 478.8ZM647.6 483.9L656.9 489.1L663.4 480.8L654.1 475.6ZM713.4 484.8L722.7 490.0L729.2 481.6L720.0 476.4Z"/>
<path fill="#e24933" stroke="#e24933" stroke-width="1.6" d="M445.2 130.4L454.5 135.6L461.0 127.2L451.7 122.0ZM477.9 88.6L487.1 93.8L493.6 85.4L484.4 80.3ZM407.7 229.4L417.0 234.6L423.5 226.3L414.2 221.1ZM397.4 259.7L406.6 264.9L413.1 256.5L403.9 251.3ZM612.2 103.8L621.5 109.0L628.0 100.7L618.7 95.5ZM617.6 130.9L626.9 136.1L633.4 127.7L624.2 122.5ZM620.4 144.4L629.6 149.6L636.1 141.3L626.9 136.1ZM623.1 158.0L632.3 163.1L638.9 154.8L629.6 149.6ZM526.8 332.2L536.1 337.4L542.6 329.0L533.4 323.9ZM640.5 203.8L649.7 208.9L656.3 200.6L647.0 195.4ZM659.0 214.1L668.2 219.3L674.8 210.9L665.5 205.8ZM606.3 400.7L615.5 405.9L622.0 397.6L612.8 392.4ZM704.2 275.4L713.4 280.6L719.9 272.3L710.7 267.1ZM710.7 267.1L719.9 272.3L726.5 263.9L717.2 258.7ZM595.9 431.0L605.2 436.2L611.7 427.8L602.5 422.6ZM713.4 280.6L722.6 285.8L729.2 277.4L719.9 272.3ZM592.1 452.9L601.4 458.0L607.9 449.7L598.7 444.5ZM722.6 285.8L731.9 291.0L738.4 282.6L729.2 277.4ZM594.8 466.4L604.1 471.6L610.6 463.2L601.4 458.0ZM604.1 471.6L613.3 476.8L619.9 468.4L610.6 463.2ZM613.3 476.8L622.6 481.9L629.1 473.6L619.9 468.4ZM609.5 498.6L618.8 503.8L625.3 495.5L616.1 490.3ZM622.6 481.9L631.8 487.1L638.4 478.8L629.1 473.6ZM629.1 473.6L638.4 478.8L644.9 470.4L635.6 465.2ZM733.5 339.9L742.8 345.1L749.3 336.8L740.1 331.6ZM628.0 509.0L637.3 514.2L643.8 505.8L634.6 500.7ZM634.6 500.7L643.8 505.8L650.3 497.5L641.1 492.3ZM641.1 492.3L650.3 497.5L656.9 489.1L647.6 483.9ZM656.9 489.1L666.1 494.3L672.6 486.0L663.4 480.8ZM666.1 494.3L675.4 499.5L681.9 491.1L672.6 486.0Z"/>
<path fill="#e0442f" stroke="#e0442f" stroke-width="1.6" d="M420.2 128.4L429.4 133.5L436.0 125.2L426.7 120.0ZM416.4 150.2L425.6 155.4L432.2 147.1L422.9 141.9ZM429.4 133.5L438.7 138.7L445.2 130.4L436.0 125.2ZM458.3 113.7L467.5 118.8L474.0 110.5L464.8 105.3ZM427.8 288.8L437.1 293.9L443.6 285.6L434.4 280.4ZM591.0 79.9L600.2 85.1L606.8 76.8L597.5 71.6ZM626.9 136.1L636.1 141.3L642.7 132.9L633.4 127.7ZM637.8 190.2L647.0 195.4L653.6 187.0L644.3 181.9ZM536.1 337.4L545.3 342.6L551.9 334.2L542.6 329.0ZM649.7 208.9L659.0 214.1L665.5 205.8L656.3 200.6ZM671.0 232.8L680.2 238.0L686.7 229.7L677.5 224.5ZM689.5 243.2L698.7 248.4L705.2 240.0L696.0 234.8ZM375.1 679.6L384.4 684.7L390.9 676.4L381.7 671.2ZM381.7 671.2L390.9 676.4L397.4 668.0L388.2 662.8ZM708.0 253.6L717.2 258.7L723.7 250.4L714.5 245.2ZM593.2 417.4L602.5 422.6L609.0 414.3L599.7 409.1ZM612.8 392.4L622.0 397.6L628.6 389.2L619.3 384.0ZM585.6 461.2L594.8 466.4L601.4 458.0L592.1 452.9ZM731.9 291.0L741.1 296.2L747.7 287.8L738.4 282.6ZM616.1 490.3L625.3 495.5L631.8 487.1L622.6 481.9ZM650.3 497.5L659.6 502.7L666.1 494.3L656.9 489.1ZM659.6 502.7L668.8 507.8L675.4 499.5L666.1 494.3ZM675.4 499.5L684.6 504.7L691.1 496.3L681.9 491.1ZM697.7 488.0L706.9 493.1L713.4 484.8L704.2 479.6Z"/>
<path fill="#df412c" stroke="#df412c" stroke-width="1.6" d="M395.2 126.4L404.4 131.5L411.0 123.2L401.7 118.0ZM437.1 89.8L446.3 94.9L452.8 86.6L443.6 81.4ZM407.1 145.1L416.4 150.2L422.9 141.9L413.7 136.7ZM452.8 86.6L462.1 91.8L468.6 83.4L459.4 78.2ZM471.3 97.0L480.6 102.1L487.1 93.8L477.9 88.6ZM401.2 237.8L410.4 243.0L417.0 234.6L407.7 229.4ZM597.5 71.6L606.8 76.8L613.3 68.4L604.0 63.2ZM437.1 293.9L446.3 299.1L452.9 290.8L443.6 285.6ZM600.2 85.1L609.5 90.3L616.0 81.9L606.8 76.8ZM606.8 76.8L616.0 81.9L622.5 73.6L613.3 68.4ZM609.5 90.3L618.7 95.5L625.3 87.1L616.0 81.9ZM621.5 109.0L630.7 114.2L637.2 105.8L628.0 100.7ZM624.2 122.5L633.4 127.7L639.9 119.4L630.7 114.2ZM629.6 149.6L638.9 154.8L645.4 146.4L636.1 141.3ZM632.3 163.1L641.6 168.3L648.1 160.0L638.9 154.8ZM641.6 168.3L650.8 173.5L657.4 165.2L648.1 160.0ZM293.5 681.9L302.8 687.1L309.3 678.7L300.1 673.5ZM300.1 673.5L309.3 678.7L315.8 670.4L306.6 665.2ZM306.6 665.2L315.8 670.4L322.4 662.0L313.1 656.8ZM665.5 205.8L674.8 210.9L681.3 202.6L672.0 197.4ZM309.3 678.7L318.6 683.9L325.1 675.5L315.8 670.4ZM315.8 670.4L325.1 675.5L331.6 667.2L322.4 662.0ZM668.2 219.3L677.5 224.5L684.0 216.1L674.8 210.9ZM325.1 675.5L334.3 680.7L340.9 672.4L331.6 667.2ZM343.6 685.9L352.8 691.1L359.4 682.7L350.1 677.5ZM698.7 248.4L708.0 253.6L714.5 245.2L705.2 240.0ZM599.7 409.1L609.0 414.3L615.5 405.9L606.3 400.7ZM582.9 447.7L592.1 452.9L598.7 444.5L589.4 439.3ZM726.5 263.9L735.7 269.1L742.2 260.7L733.0 255.6ZM606.8 485.1L616.1 490.3L622.6 481.9L613.3 476.8ZM612.3 512.2L621.5 517.4L628.0 509.0L618.8 503.8ZM637.3 514.2L646.5 519.4L653.1 511.0L643.8 505.8ZM643.8 505.8L653.1 511.0L659.6 502.7L650.3 497.5ZM646.5 519.4L655.8 524.5L662.3 516.2L653.1 511.0ZM653.1 511.0L662.3 516.2L668.8 507.8L659.6 502.7ZM655.8 524.5L665.0 529.7L671.6 521.4L662.3 516.2ZM662.3 516.2L671.6 521.4L678.1 513.0L668.8 507.8ZM668.8 507.8L678.1 513.0L684.6 504.7L675.4 499.5ZM691.1 496.3L700.4 501.5L706.9 493.1L697.7 488.0ZM722.7 490.0L731.9 495.2L738.4 486.8L729.2 481.6Z"/>
<path fill="#dc3c28" stroke="#dc3c28" stroke-width="1.6" d="M401.7 118.0L411.0 123.2L417.5 114.8L408.2 109.6ZM414.8 101.3L424.0 106.5L430.5 98.1L421.3 92.9ZM427.8 84.6L437.1 89.8L443.6 81.4L434.3 76.2ZM404.4 131.5L413.7 136.7L420.2 128.4L411.0 123.2ZM411.0 123.2L420.2 128.4L426.7 120.0L417.5 114.8ZM424.0 106.5L433.3 111.7L439.8 103.3L430.5 98.1ZM430.5 98.1L439.8 103.3L446.3 94.9L437.1 89.8ZM443.6 81.4L452.8 86.6L459.4 78.2L450.1 73.1ZM450.1 73.1L459.4 78.2L465.9 69.9L456.6 64.7ZM446.3 94.9L455.6 100.1L462.1 91.8L452.8 86.6ZM442.5 116.8L451.7 122.0L458.3 113.7L449.0 108.5ZM462.1 91.8L471.3 97.0L477.9 88.6L468.6 83.4ZM419.1 163.8L428.4 169.0L434.9 160.6L425.6 155.4ZM464.8 105.3L474.0 110.5L480.6 102.1L471.3 97.0ZM421.8 177.3L431.1 182.5L437.6 174.1L428.4 169.0ZM446.3 299.1L455.6 304.3L462.1 295.9L452.9 290.8ZM616.0 81.9L625.3 87.1L631.8 78.8L622.5 73.6ZM618.7 95.5L628.0 100.7L634.5 92.3L625.3 87.1ZM633.4 127.7L642.7 132.9L649.2 124.6L639.9 119.4ZM636.1 141.3L645.4 146.4L651.9 138.1L642.7 132.9ZM648.1 160.0L657.4 165.2L663.9 156.8L654.6 151.6ZM644.3 181.9L653.6 187.0L660.1 178.7L650.8 173.5ZM647.0 195.4L656.3 200.6L662.8 192.2L653.6 187.0ZM672.0 197.4L681.3 202.6L687.8 194.2L678.6 189.1ZM340.9 672.4L350.1 677.5L356.6 669.2L347.4 664.0ZM686.7 229.7L696.0 234.8L702.5 226.5L693.3 221.3ZM350.1 677.5L359.4 682.7L365.9 674.4L356.6 669.2ZM356.6 669.2L365.9 674.4L372.4 666.0L363.2 660.8ZM365.9 674.4L375.1 679.6L381.7 671.2L372.4 666.0ZM616.6 370.5L625.8 375.7L632.4 367.3L623.1 362.1ZM580.2 434.1L589.4 439.3L595.9 431.0L586.7 425.8ZM717.2 258.7L726.5 263.9L733.0 255.6L723.7 250.4ZM621.5 517.4L630.8 522.5L637.3 514.2L628.0 509.0Z"/>
<path fill="#db3926" stroke="#db3926" stroke-width="1.6" d="M385.9 121.2L395.2 126.4L401.7 118.0L392.5 112.8ZM392.5 112.8L401.7 118.0L408.2 109.6L399.0 104.5ZM388.7 134.7L397.9 139.9L404.4 131.5L395.2 126.4ZM408.2 109.6L417.5 114.8L424.0 106.5L414.8 101.3ZM421.3 92.9L430.5 98.1L437.1 89.8L427.8 84.6ZM434.3 76.2L443.6 81.4L450.1 73.1L440.9 67.9ZM433.3 111.7L442.5 116.8L449.0 108.5L439.8 103.3ZM439.8 103.3L449.0 108.5L455.6 100.1L446.3 94.9ZM436.0 125.2L445.2 130.4L451.7 122.0L442.5 116.8ZM418.0 199.2L427.3 204.4L433.8 196.0L424.6 190.8ZM400.1 273.2L409.3 278.4L415.9 270.0L406.6 264.9ZM412.1 291.9L421.3 297.1L427.8 288.8L418.6 283.6ZM613.3 68.4L622.5 73.6L629.1 65.2L619.8 60.1ZM622.5 73.6L631.8 78.8L638.3 70.4L629.1 65.2ZM625.3 87.1L634.5 92.3L641.0 84.0L631.8 78.8ZM630.7 114.2L639.9 119.4L646.5 111.0L637.2 105.8ZM642.7 132.9L651.9 138.1L658.4 129.7L649.2 124.6ZM638.9 154.8L648.1 160.0L654.6 151.6L645.4 146.4ZM645.4 146.4L654.6 151.6L661.2 143.3L651.9 138.1ZM654.6 151.6L663.9 156.8L670.4 148.5L661.2 143.3ZM653.6 187.0L662.8 192.2L669.3 183.9L660.1 178.7ZM284.3 676.7L293.5 681.9L300.1 673.5L290.8 668.3ZM656.3 200.6L665.5 205.8L672.0 197.4L662.8 192.2ZM302.8 687.1L312.0 692.2L318.6 683.9L309.3 678.7ZM674.8 210.9L684.0 216.1L690.5 207.8L681.3 202.6ZM318.6 683.9L327.8 689.1L334.3 680.7L325.1 675.5ZM677.5 224.5L686.7 229.7L693.3 221.3L684.0 216.1ZM327.8 689.1L337.1 694.2L343.6 685.9L334.3 680.7ZM347.4 664.0L356.6 669.2L363.2 660.8L353.9 655.7ZM693.3 221.3L702.5 226.5L709.0 218.1L699.8 212.9ZM372.4 666.0L381.7 671.2L388.2 662.8L378.9 657.7ZM368.6 687.9L377.9 693.1L384.4 684.7L375.1 679.6ZM714.5 245.2L723.7 250.4L730.3 242.0L721.0 236.8ZM384.4 684.7L393.6 689.9L400.2 681.6L390.9 676.4ZM390.9 676.4L400.2 681.6L406.7 673.2L397.4 668.0ZM586.7 425.8L595.9 431.0L602.5 422.6L593.2 417.4ZM400.2 681.6L409.4 686.7L415.9 678.4L406.7 673.2ZM576.4 456.0L585.6 461.2L592.1 452.9L582.9 447.7ZM409.4 686.7L418.6 691.9L425.2 683.6L415.9 678.4ZM605.7 520.5L615.0 525.7L621.5 517.4L612.3 512.2ZM684.6 504.7L693.8 509.8L700.4 501.5L691.1 496.3Z"/>
<path fill="#d93422" stroke="#d93422" stroke-width="1.6" d="M397.9 139.9L407.1 145.1L413.7 136.7L404.4 131.5ZM417.5 114.8L426.7 120.0L433.3 111.7L424.0 106.5ZM400.6 153.4L409.9 158.6L416.4 150.2L407.1 145.1ZM426.7 120.0L436.0 125.2L442.5 116.8L433.3 111.7ZM409.9 158.6L419.1 163.8L425.6 155.4L416.4 150.2ZM449.0 108.5L458.3 113.7L464.8 105.3L455.6 100.1ZM411.5 207.6L420.8 212.7L427.3 204.4L418.0 199.2ZM394.7 246.1L403.9 251.3L410.4 243.0L401.2 237.8ZM402.8 286.8L412.1 291.9L418.6 283.6L409.3 278.4ZM421.3 297.1L430.6 302.3L437.1 293.9L427.8 288.8ZM455.6 304.3L464.8 309.5L471.4 301.1L462.1 295.9ZM631.8 78.8L641.0 84.0L647.6 75.6L638.3 70.4ZM464.8 309.5L474.1 314.7L480.6 306.3L471.4 301.1ZM628.0 100.7L637.2 105.8L643.8 97.5L634.5 92.3ZM639.9 119.4L649.2 124.6L655.7 116.2L646.5 111.0ZM661.2 143.3L670.4 148.5L676.9 140.1L667.7 134.9ZM262.0 688.2L271.2 693.4L277.8 685.0L268.5 679.9ZM277.8 685.0L287.0 690.2L293.5 681.9L284.3 676.7ZM290.8 668.3L300.1 673.5L306.6 665.2L297.3 660.0ZM551.9 334.2L561.1 339.4L567.6 331.1L558.4 325.9ZM662.8 192.2L672.0 197.4L678.6 189.1L669.3 183.9ZM678.6 189.1L687.8 194.2L694.3 185.9L685.1 180.7ZM681.3 202.6L690.5 207.8L697.1 199.4L687.8 194.2ZM699.8 212.9L709.0 218.1L715.6 209.8L706.3 204.6ZM363.2 660.8L372.4 666.0L378.9 657.7L369.7 652.5ZM696.0 234.8L705.2 240.0L711.8 231.7L702.5 226.5ZM359.4 682.7L368.6 687.9L375.1 679.6L365.9 674.4ZM388.2 662.8L397.4 668.0L404.0 659.7L394.7 654.5ZM733.0 255.6L742.2 260.7L748.8 252.4L739.5 247.2ZM615.0 525.7L624.2 530.9L630.8 522.5L621.5 517.4ZM630.8 522.5L640.0 527.7L646.5 519.4L637.3 514.2ZM640.0 527.7L649.3 532.9L655.8 524.5L646.5 519.4ZM649.3 532.9L658.5 538.1L665.0 529.7L655.8 524.5ZM665.0 529.7L674.3 534.9L680.8 526.6L671.6 521.4ZM671.6 521.4L680.8 526.6L687.3 518.2L678.1 513.0ZM678.1 513.0L687.3 518.2L693.8 509.8L684.6 504.7ZM700.4 501.5L709.6 506.7L716.1 498.3L706.9 493.1ZM706.9 493.1L716.1 498.3L722.7 490.0L713.4 484.8ZM731.9 495.2L741.2 500.3L747.7 492.0L738.4 486.8Z"/>
<path fill="#d62f1e" stroke="#d62f1e" stroke-width="1.6" d="M383.2 107.6L392.5 112.8L399.0 104.5L389.7 99.3ZM379.4 129.5L388.7 134.7L395.2 126.4L385.9 121.2ZM399.0 104.5L408.2 109.6L414.8 101.3L405.5 96.1ZM455.6 100.1L464.8 105.3L471.3 97.0L462.1 91.8ZM430.6 302.3L439.8 307.5L446.3 299.1L437.1 293.9ZM634.5 92.3L643.8 97.5L650.3 89.1L641.0 84.0ZM483.3 319.8L492.6 325.0L499.1 316.7L489.8 311.5ZM492.6 325.0L501.8 330.2L508.3 321.9L499.1 316.7ZM651.9 138.1L661.2 143.3L667.7 134.9L658.4 129.7ZM650.8 173.5L660.1 178.7L666.6 170.3L657.4 165.2ZM268.5 679.9L277.8 685.0L284.3 676.7L275.0 671.5ZM685.1 180.7L694.3 185.9L700.9 177.5L691.6 172.3ZM691.6 172.3L700.9 177.5L707.4 169.2L698.2 164.0ZM331.6 667.2L340.9 672.4L347.4 664.0L338.1 658.8ZM684.0 216.1L693.3 221.3L699.8 212.9L690.5 207.8ZM702.5 226.5L711.8 231.7L718.3 223.3L709.0 218.1ZM705.2 240.0L714.5 245.2L721.0 236.8L711.8 231.7ZM721.0 236.8L730.3 242.0L736.8 233.7L727.5 228.5ZM723.7 250.4L733.0 255.6L739.5 247.2L730.3 242.0ZM674.3 534.9L683.5 540.1L690.0 531.7L680.8 526.6ZM683.5 540.1L692.8 545.3L699.3 536.9L690.0 531.7Z"/>
<path fill="#d42c1c" stroke="#d42c1c" stroke-width="1.6" d="M405.5 96.1L414.8 101.3L421.3 92.9L412.0 87.8ZM405.0 215.9L414.2 221.1L420.8 212.7L411.5 207.6ZM439.8 307.5L449.1 312.7L455.6 304.3L446.3 299.1ZM638.3 70.4L647.6 75.6L654.1 67.2L644.8 62.1ZM641.0 84.0L650.3 89.1L656.8 80.8L647.6 75.6ZM474.1 314.7L483.3 319.8L489.8 311.5L480.6 306.3ZM637.2 105.8L646.5 111.0L653.0 102.7L643.8 97.5ZM649.2 124.6L658.4 129.7L665.0 121.4L655.7 116.2ZM501.8 330.2L511.1 335.4L517.6 327.0L508.3 321.9ZM243.5 677.9L252.7 683.0L259.3 674.7L250.0 669.5ZM511.1 335.4L520.3 340.6L526.8 332.2L517.6 327.0ZM667.7 134.9L676.9 140.1L683.5 131.7L674.2 126.6ZM252.7 683.0L262.0 688.2L268.5 679.9L259.3 674.7ZM657.4 165.2L666.6 170.3L673.1 162.0L663.9 156.8ZM275.0 671.5L284.3 676.7L290.8 668.3L281.6 663.2ZM660.1 178.7L669.3 183.9L675.9 175.5L666.6 170.3ZM297.3 660.0L306.6 665.2L313.1 656.8L303.9 651.6ZM669.3 183.9L678.6 189.1L685.1 180.7L675.9 175.5ZM287.0 690.2L296.3 695.4L302.8 687.1L293.5 681.9ZM322.4 662.0L331.6 667.2L338.1 658.8L328.9 653.6ZM687.8 194.2L697.1 199.4L703.6 191.1L694.3 185.9ZM694.3 185.9L703.6 191.1L710.1 182.7L700.9 177.5ZM690.5 207.8L699.8 212.9L706.3 204.6L697.1 199.4ZM353.9 655.7L363.2 660.8L369.7 652.5L360.4 647.3ZM706.3 204.6L715.6 209.8L722.1 201.4L712.8 196.2ZM712.8 196.2L722.1 201.4L728.6 193.1L719.4 187.9ZM709.0 218.1L718.3 223.3L724.8 215.0L715.6 209.8ZM727.5 228.5L736.8 233.7L743.3 225.3L734.1 220.1ZM397.4 668.0L406.7 673.2L413.2 664.9L404.0 659.7ZM393.6 689.9L402.9 695.1L409.4 686.7L400.2 681.6ZM406.7 673.2L415.9 678.4L422.5 670.0L413.2 664.9ZM624.2 530.9L633.5 536.1L640.0 527.7L630.8 522.5ZM633.5 536.1L642.7 541.3L649.3 532.9L640.0 527.7ZM642.7 541.3L652.0 546.4L658.5 538.1L649.3 532.9ZM658.5 538.1L667.7 543.3L674.3 534.9L665.0 529.7ZM680.8 526.6L690.0 531.7L696.6 523.4L687.3 518.2ZM687.3 518.2L696.6 523.4L703.1 515.0L693.8 509.8ZM693.8 509.8L703.1 515.0L709.6 506.7L700.4 501.5ZM690.0 531.7L699.3 536.9L705.8 528.6L696.6 523.4ZM716.1 498.3L725.4 503.5L731.9 495.2L722.7 490.0ZM679.7 562.0L689.0 567.2L695.5 558.8L686.2 553.6ZM692.8 545.3L702.0 550.5L708.5 542.1L699.3 536.9Z"/>
<path fill="#d12719" stroke="#d12719" stroke-width="1.6" d="M389.7 99.3L399.0 104.5L405.5 96.1L396.3 90.9ZM425.1 71.1L434.3 76.2L440.9 67.9L431.6 62.7ZM382.1 143.1L391.4 148.2L397.9 139.9L388.7 134.7ZM391.4 148.2L400.6 153.4L407.1 145.1L397.9 139.9ZM415.3 185.7L424.6 190.8L431.1 182.5L421.8 177.3ZM388.1 254.5L397.4 259.7L403.9 251.3L394.7 246.1ZM390.8 268.0L400.1 273.2L406.6 264.9L397.4 259.7ZM393.6 281.6L402.8 286.8L409.3 278.4L400.1 273.2ZM643.8 97.5L653.0 102.7L659.5 94.3L650.3 89.1ZM646.5 111.0L655.7 116.2L662.2 107.9L653.0 102.7ZM658.4 129.7L667.7 134.9L674.2 126.6L665.0 121.4ZM663.9 156.8L673.1 162.0L679.7 153.6L670.4 148.5ZM281.6 663.2L290.8 668.3L297.3 660.0L288.1 654.8ZM666.6 170.3L675.9 175.5L682.4 167.2L673.1 162.0ZM673.1 162.0L682.4 167.2L688.9 158.8L679.7 153.6ZM675.9 175.5L685.1 180.7L691.6 172.3L682.4 167.2ZM682.4 167.2L691.6 172.3L698.2 164.0L688.9 158.8ZM698.2 164.0L707.4 169.2L713.9 160.8L704.7 155.6ZM700.9 177.5L710.1 182.7L716.6 174.4L707.4 169.2ZM338.1 658.8L347.4 664.0L353.9 655.7L344.7 650.5ZM697.1 199.4L706.3 204.6L712.8 196.2L703.6 191.1ZM719.4 187.9L728.6 193.1L735.1 184.7L725.9 179.5ZM378.9 657.7L388.2 662.8L394.7 654.5L385.5 649.3ZM711.8 231.7L721.0 236.8L727.5 228.5L718.3 223.3ZM573.6 442.5L582.9 447.7L589.4 439.3L580.2 434.1ZM730.3 242.0L739.5 247.2L746.0 238.9L736.8 233.7ZM415.9 678.4L425.2 683.6L431.7 675.2L422.5 670.0ZM667.7 543.3L677.0 548.4L683.5 540.1L674.3 534.9ZM670.5 556.8L679.7 562.0L686.2 553.6L677.0 548.4ZM677.0 548.4L686.2 553.6L692.8 545.3L683.5 540.1ZM696.6 523.4L705.8 528.6L712.3 520.2L703.1 515.0ZM709.6 506.7L718.9 511.9L725.4 503.5L716.1 498.3ZM686.2 553.6L695.5 558.8L702.0 550.5L692.8 545.3ZM699.3 536.9L708.5 542.1L715.1 533.7L705.8 528.6ZM702.0 550.5L711.3 555.6L717.8 547.3L708.5 542.1Z"/>
<path fill="#ce2417" stroke="#ce2417" stroke-width="1.6" d="M396.3 90.9L405.5 96.1L412.0 87.8L402.8 82.6ZM372.9 137.9L382.1 143.1L388.7 134.7L379.4 129.5ZM394.1 161.8L403.3 167.0L409.9 158.6L400.6 153.4ZM412.6 172.1L421.8 177.3L428.4 169.0L419.1 163.8ZM398.5 224.3L407.7 229.4L414.2 221.1L405.0 215.9ZM449.1 312.7L458.3 317.8L464.8 309.5L455.6 304.3ZM458.3 317.8L467.5 323.0L474.1 314.7L464.8 309.5ZM647.6 75.6L656.8 80.8L663.3 72.4L654.1 67.2ZM650.3 89.1L659.5 94.3L666.1 86.0L656.8 80.8ZM653.0 102.7L662.2 107.9L668.8 99.5L659.5 94.3ZM655.7 116.2L665.0 121.4L671.5 113.0L662.2 107.9ZM670.4 148.5L679.7 153.6L686.2 145.3L676.9 140.1ZM679.7 153.6L688.9 158.8L695.4 150.5L686.2 145.3ZM688.9 158.8L698.2 164.0L704.7 155.6L695.4 150.5ZM313.1 656.8L322.4 662.0L328.9 653.6L319.6 648.5ZM707.4 169.2L716.6 174.4L723.2 166.0L713.9 160.8ZM703.6 191.1L712.8 196.2L719.4 187.9L710.1 182.7ZM710.1 182.7L719.4 187.9L725.9 179.5L716.6 174.4ZM725.9 179.5L735.1 184.7L741.7 176.4L732.4 171.2ZM715.6 209.8L724.8 215.0L731.3 206.6L722.1 201.4ZM722.1 201.4L731.3 206.6L737.9 198.3L728.6 193.1ZM728.6 193.1L737.9 198.3L744.4 189.9L735.1 184.7ZM718.3 223.3L727.5 228.5L734.1 220.1L724.8 215.0ZM394.7 654.5L404.0 659.7L410.5 651.3L401.2 646.1ZM734.1 220.1L743.3 225.3L749.8 217.0L740.6 211.8ZM608.5 534.1L617.7 539.2L624.2 530.9L615.0 525.7ZM652.0 546.4L661.2 551.6L667.7 543.3L658.5 538.1ZM661.2 551.6L670.5 556.8L677.0 548.4L667.7 543.3ZM703.1 515.0L712.3 520.2L718.9 511.9L709.6 506.7ZM673.2 570.3L682.4 575.5L689.0 567.2L679.7 562.0ZM689.0 567.2L698.2 572.3L704.7 564.0L695.5 558.8ZM698.2 572.3L707.5 577.5L714.0 569.2L704.7 564.0ZM711.3 555.6L720.5 560.8L727.0 552.5L717.8 547.3ZM707.5 577.5L716.7 582.7L723.2 574.3L714.0 569.2ZM720.5 560.8L729.8 566.0L736.3 557.6L727.0 552.5Z"/>
<path fill="#cb2015" stroke="#cb2015" stroke-width="1.6" d="M376.7 116.0L385.9 121.2L392.5 112.8L383.2 107.6ZM418.6 79.4L427.8 84.6L434.3 76.2L425.1 71.1ZM375.6 151.4L384.8 156.6L391.4 148.2L382.1 143.1ZM403.3 167.0L412.6 172.1L419.1 163.8L409.9 158.6ZM476.8 328.2L486.0 333.4L492.6 325.0L483.3 319.8ZM659.5 94.3L668.8 99.5L675.3 91.1L666.1 86.0ZM662.2 107.9L671.5 113.0L678.0 104.7L668.8 99.5ZM237.0 686.2L246.2 691.4L252.7 683.0L243.5 677.9ZM250.0 669.5L259.3 674.7L265.8 666.3L256.5 661.2ZM674.2 126.6L683.5 131.7L690.0 123.4L680.7 118.2ZM680.7 118.2L690.0 123.4L696.5 115.0L687.3 109.9ZM259.3 674.7L268.5 679.9L275.0 671.5L265.8 666.3ZM520.3 340.6L529.6 345.8L536.1 337.4L526.8 332.2ZM288.1 654.8L297.3 660.0L303.9 651.6L294.6 646.5ZM704.7 155.6L713.9 160.8L720.5 152.5L711.2 147.3ZM328.9 653.6L338.1 658.8L344.7 650.5L335.4 645.3ZM716.6 174.4L725.9 179.5L732.4 171.2L723.2 166.0ZM732.4 171.2L741.7 176.4L748.2 168.0L738.9 162.8ZM369.7 652.5L378.9 657.7L385.5 649.3L376.2 644.1ZM735.1 184.7L744.4 189.9L750.9 181.5L741.7 176.4ZM352.8 691.1L362.1 696.3L368.6 687.9L359.4 682.7ZM610.1 378.8L619.3 384.0L625.8 375.7L616.6 370.5ZM425.2 683.6L434.4 688.7L440.9 680.4L431.7 675.2ZM663.9 565.1L673.2 570.3L679.7 562.0L670.5 556.8ZM705.8 528.6L715.1 533.7L721.6 525.4L712.3 520.2ZM682.4 575.5L691.7 580.7L698.2 572.3L689.0 567.2ZM695.5 558.8L704.7 564.0L711.3 555.6L702.0 550.5ZM708.5 542.1L717.8 547.3L724.3 538.9L715.1 533.7ZM704.7 564.0L714.0 569.2L720.5 560.8L711.3 555.6ZM714.0 569.2L723.2 574.3L729.8 566.0L720.5 560.8ZM726.0 587.9L735.2 593.1L741.7 584.7L732.5 579.5Z"/>
<path fill="#c91d13" stroke="#c91d13" stroke-width="1.6" d="M387.0 85.8L396.3 90.9L402.8 82.6L393.5 77.4ZM412.0 87.8L421.3 92.9L427.8 84.6L418.6 79.4ZM384.8 156.6L394.1 161.8L400.6 153.4L391.4 148.2ZM467.5 323.0L476.8 328.2L483.3 319.8L474.1 314.7ZM656.8 80.8L666.1 86.0L672.6 77.6L663.3 72.4ZM666.1 86.0L675.3 91.1L681.8 82.8L672.6 77.6ZM486.0 333.4L495.3 338.6L501.8 330.2L492.6 325.0ZM668.8 99.5L678.0 104.7L684.5 96.3L675.3 91.1ZM665.0 121.4L674.2 126.6L680.7 118.2L671.5 113.0ZM671.5 113.0L680.7 118.2L687.3 109.9L678.0 104.7ZM678.0 104.7L687.3 109.9L693.8 101.5L684.5 96.3ZM687.3 109.9L696.5 115.0L703.0 106.7L693.8 101.5ZM265.8 666.3L275.0 671.5L281.6 663.2L272.3 658.0ZM676.9 140.1L686.2 145.3L692.7 136.9L683.5 131.7ZM686.2 145.3L695.4 150.5L702.0 142.1L692.7 136.9ZM695.4 150.5L704.7 155.6L711.2 147.3L702.0 142.1ZM713.9 160.8L723.2 166.0L729.7 157.7L720.5 152.5ZM724.8 215.0L734.1 220.1L740.6 211.8L731.3 206.6ZM731.3 206.6L740.6 211.8L747.1 203.4L737.9 198.3ZM404.0 659.7L413.2 664.9L419.7 656.5L410.5 651.3ZM413.2 664.9L422.5 670.0L429.0 661.7L419.7 656.5ZM603.0 507.0L612.3 512.2L618.8 503.8L609.5 498.6ZM617.7 539.2L627.0 544.4L633.5 536.1L624.2 530.9ZM627.0 544.4L636.2 549.6L642.7 541.3L633.5 536.1ZM636.2 549.6L645.4 554.8L652.0 546.4L642.7 541.3ZM666.7 578.7L675.9 583.9L682.4 575.5L673.2 570.3ZM718.9 511.9L728.1 517.0L734.6 508.7L725.4 503.5ZM725.4 503.5L734.6 508.7L741.2 500.3L731.9 495.2ZM675.9 583.9L685.2 589.0L691.7 580.7L682.4 575.5ZM685.2 589.0L694.4 594.2L700.9 585.9L691.7 580.7ZM691.7 580.7L700.9 585.9L707.5 577.5L698.2 572.3ZM717.8 547.3L727.0 552.5L733.6 544.1L724.3 538.9ZM687.9 602.6L697.1 607.8L703.7 599.4L694.4 594.2ZM694.4 594.2L703.7 599.4L710.2 591.1L700.9 585.9ZM700.9 585.9L710.2 591.1L716.7 582.7L707.5 577.5ZM727.0 552.5L736.3 557.6L742.8 549.3L733.6 544.1ZM716.7 582.7L726.0 587.9L732.5 579.5L723.2 574.3ZM729.8 566.0L739.0 571.2L745.5 562.8L736.3 557.6ZM706.4 612.9L715.6 618.1L722.1 609.8L712.9 604.6ZM712.9 604.6L722.1 609.8L728.7 601.4L719.4 596.2ZM719.4 596.2L728.7 601.4L735.2 593.1L726.0 587.9ZM732.5 579.5L741.7 584.7L748.3 576.4L739.0 571.2ZM724.9 623.3L734.1 628.5L740.6 620.1L731.4 614.9Z"/>
<path fill="#c51810" stroke="#c51810" stroke-width="1.6" d="M366.4 146.2L375.6 151.4L382.1 143.1L372.9 137.9ZM391.9 232.6L401.2 237.8L407.7 229.4L398.5 224.3ZM384.3 276.4L393.6 281.6L400.1 273.2L390.8 268.0ZM405.5 300.3L414.8 305.5L421.3 297.1L412.1 291.9ZM663.3 72.4L672.6 77.6L679.1 69.3L669.9 64.1ZM672.6 77.6L681.8 82.8L688.3 74.4L679.1 69.3ZM675.3 91.1L684.5 96.3L691.1 88.0L681.8 82.8ZM681.8 82.8L691.1 88.0L697.6 79.6L688.3 74.4ZM495.3 338.6L504.5 343.7L511.1 335.4L501.8 330.2ZM504.5 343.7L513.8 348.9L520.3 340.6L511.1 335.4ZM693.8 101.5L703.0 106.7L709.6 98.3L700.3 93.2ZM700.3 93.2L709.6 98.3L716.1 90.0L706.8 84.8ZM529.6 345.8L538.8 350.9L545.3 342.6L536.1 337.4ZM545.3 342.6L554.6 347.8L561.1 339.4L551.9 334.2ZM711.2 147.3L720.5 152.5L727.0 144.1L717.7 138.9ZM717.7 138.9L727.0 144.1L733.5 135.8L724.3 130.6ZM723.2 166.0L732.4 171.2L738.9 162.8L729.7 157.7ZM584.0 412.3L593.2 417.4L599.7 409.1L590.5 403.9ZM590.5 403.9L599.7 409.1L606.3 400.7L597.0 395.6ZM597.0 395.6L606.3 400.7L612.8 392.4L603.5 387.2ZM603.5 387.2L612.8 392.4L619.3 384.0L610.1 378.8ZM422.5 670.0L431.7 675.2L438.2 666.9L429.0 661.7ZM645.4 554.8L654.7 560.0L661.2 551.6L652.0 546.4ZM654.7 560.0L663.9 565.1L670.5 556.8L661.2 551.6ZM657.4 573.5L666.7 578.7L673.2 570.3L663.9 565.1ZM660.1 587.0L669.4 592.2L675.9 583.9L666.7 578.7ZM712.3 520.2L721.6 525.4L728.1 517.0L718.9 511.9ZM669.4 592.2L678.6 597.4L685.2 589.0L675.9 583.9ZM715.1 533.7L724.3 538.9L730.8 530.6L721.6 525.4ZM678.6 597.4L687.9 602.6L694.4 594.2L685.2 589.0ZM703.7 599.4L712.9 604.6L719.4 596.2L710.2 591.1ZM710.2 591.1L719.4 596.2L726.0 587.9L716.7 582.7ZM723.2 574.3L732.5 579.5L739.0 571.2L729.8 566.0ZM699.8 621.3L709.1 626.5L715.6 618.1L706.4 612.9ZM735.2 593.1L744.4 598.2L751.0 589.9L741.7 584.7ZM731.4 614.9L740.6 620.1L747.2 611.8L737.9 606.6Z"/>
<path fill="#c3150e" stroke="#c3150e" stroke-width="1.6" d="M393.5 77.4L402.8 82.6L409.3 74.2L400.1 69.0ZM409.3 74.2L418.6 79.4L425.1 71.1L415.8 65.9ZM396.3 295.1L405.5 300.3L412.1 291.9L402.8 286.8ZM414.8 305.5L424.0 310.6L430.6 302.3L421.3 297.1ZM684.5 96.3L693.8 101.5L700.3 93.2L691.1 88.0ZM691.1 88.0L700.3 93.2L706.8 84.8L697.6 79.6ZM256.5 661.2L265.8 666.3L272.3 658.0L263.1 652.8ZM272.3 658.0L281.6 663.2L288.1 654.8L278.8 649.6ZM683.5 131.7L692.7 136.9L699.2 128.6L690.0 123.4ZM690.0 123.4L699.2 128.6L705.8 120.2L696.5 115.0ZM692.7 136.9L702.0 142.1L708.5 133.8L699.2 128.6ZM699.2 128.6L708.5 133.8L715.0 125.4L705.8 120.2ZM561.1 339.4L570.4 344.6L576.9 336.2L567.6 331.1ZM724.3 130.6L733.5 135.8L740.0 127.4L730.8 122.2ZM727.0 144.1L736.2 149.3L742.8 140.9L733.5 135.8ZM344.7 650.5L353.9 655.7L360.4 647.3L351.2 642.1ZM360.4 647.3L369.7 652.5L376.2 644.1L367.0 638.9ZM385.5 649.3L394.7 654.5L401.2 646.1L392.0 641.0ZM597.6 479.9L606.8 485.1L613.3 476.8L604.1 471.6ZM600.3 493.5L609.5 498.6L616.1 490.3L606.8 485.1ZM681.4 610.9L690.6 616.1L697.1 607.8L687.9 602.6ZM697.1 607.8L706.4 612.9L712.9 604.6L703.7 599.4ZM715.6 618.1L724.9 623.3L731.4 614.9L722.1 609.8ZM722.1 609.8L731.4 614.9L737.9 606.6L728.7 601.4ZM728.7 601.4L737.9 606.6L744.4 598.2L735.2 593.1Z"/>
<path fill="#c0110b" stroke="#c0110b" stroke-width="1.6" d="M402.8 82.6L412.0 87.8L418.6 79.4L409.3 74.2ZM369.1 159.8L378.3 164.9L384.8 156.6L375.6 151.4ZM387.6 170.1L396.8 175.3L403.3 167.0L394.1 161.8ZM424.0 310.6L433.3 315.8L439.8 307.5L430.6 302.3ZM433.3 315.8L442.5 321.0L449.1 312.7L439.8 307.5ZM679.1 69.3L688.3 74.4L694.9 66.1L685.6 60.9ZM696.5 115.0L705.8 120.2L712.3 111.9L703.0 106.7ZM705.8 120.2L715.0 125.4L721.5 117.0L712.3 111.9ZM702.0 142.1L711.2 147.3L717.7 138.9L708.5 133.8ZM708.5 133.8L717.7 138.9L724.3 130.6L715.0 125.4ZM715.0 125.4L724.3 130.6L730.8 122.2L721.5 117.0ZM319.6 648.5L328.9 653.6L335.4 645.3L326.2 640.1ZM730.8 122.2L740.0 127.4L746.6 119.1L737.3 113.9ZM720.5 152.5L729.7 157.7L736.2 149.3L727.0 144.1ZM733.5 135.8L742.8 140.9L749.3 132.6L740.0 127.4ZM434.4 688.7L443.7 693.9L450.2 685.6L440.9 680.4ZM601.9 542.4L611.2 547.6L617.7 539.2L608.5 534.1ZM629.7 558.0L638.9 563.1L645.4 554.8L636.2 549.6ZM648.2 568.3L657.4 573.5L663.9 565.1L654.7 560.0ZM650.9 581.9L660.1 587.0L666.7 578.7L657.4 573.5ZM672.1 605.7L681.4 610.9L687.9 602.6L678.6 597.4ZM724.3 538.9L733.6 544.1L740.1 535.8L730.8 530.6ZM733.6 544.1L742.8 549.3L749.3 540.9L740.1 535.8ZM690.6 616.1L699.8 621.3L706.4 612.9L697.1 607.8ZM709.1 626.5L718.3 631.7L724.9 623.3L715.6 618.1ZM734.1 628.5L743.4 633.7L749.9 625.3L740.6 620.1Z"/>
<path fill="#bc0c08" stroke="#bc0c08" stroke-width="1.6" d="M400.1 69.0L409.3 74.2L415.8 65.9L406.6 60.7ZM378.3 164.9L387.6 170.1L394.1 161.8L384.8 156.6ZM408.8 194.0L418.0 199.2L424.6 190.8L415.3 185.7ZM385.4 241.0L394.7 246.1L401.2 237.8L391.9 232.6ZM381.6 262.9L390.8 268.0L397.4 259.7L388.1 254.5ZM442.5 321.0L451.8 326.2L458.3 317.8L449.1 312.7ZM451.8 326.2L461.0 331.4L467.5 323.0L458.3 317.8ZM688.3 74.4L697.6 79.6L704.1 71.3L694.9 66.1ZM234.3 672.7L243.5 677.9L250.0 669.5L240.8 664.3ZM706.8 84.8L716.1 90.0L722.6 81.6L713.4 76.4ZM713.4 76.4L722.6 81.6L729.1 73.3L719.9 68.1ZM703.0 106.7L712.3 111.9L718.8 103.5L709.6 98.3ZM709.6 98.3L718.8 103.5L725.3 95.2L716.1 90.0ZM712.3 111.9L721.5 117.0L728.1 108.7L718.8 103.5ZM303.9 651.6L313.1 656.8L319.6 648.5L310.4 643.3ZM570.4 344.6L579.6 349.8L586.1 341.4L576.9 336.2ZM729.7 157.7L738.9 162.8L745.5 154.5L736.2 149.3ZM588.8 354.9L598.1 360.1L604.6 351.8L595.4 346.6ZM577.4 420.6L586.7 425.8L593.2 417.4L584.0 412.3ZM567.1 450.8L576.4 456.0L582.9 447.7L573.6 442.5ZM431.7 675.2L440.9 680.4L447.5 672.0L438.2 666.9ZM611.2 547.6L620.4 552.8L627.0 544.4L617.7 539.2ZM620.4 552.8L629.7 558.0L636.2 549.6L627.0 544.4ZM638.9 563.1L648.2 568.3L654.7 560.0L645.4 554.8ZM653.6 595.4L662.9 600.6L669.4 592.2L660.1 587.0ZM662.9 600.6L672.1 605.7L678.6 597.4L669.4 592.2ZM665.6 614.1L674.8 619.3L681.4 610.9L672.1 605.7ZM674.8 619.3L684.1 624.5L690.6 616.1L681.4 610.9Z"/>
<path fill="#ba0906" stroke="#ba0906" stroke-width="1.6" d="M384.3 72.2L393.5 77.4L400.1 69.0L390.8 63.9ZM395.7 210.7L405.0 215.9L411.5 207.6L402.3 202.4ZM402.3 202.4L411.5 207.6L418.0 199.2L408.8 194.0ZM461.0 331.4L470.3 336.6L476.8 328.2L467.5 323.0ZM470.3 336.6L479.5 341.7L486.0 333.4L476.8 328.2ZM697.6 79.6L706.8 84.8L713.4 76.4L704.1 71.3ZM704.1 71.3L713.4 76.4L719.9 68.1L710.6 62.9ZM263.1 652.8L272.3 658.0L278.8 649.6L269.6 644.4ZM246.2 691.4L255.5 696.6L262.0 688.2L252.7 683.0ZM278.8 649.6L288.1 654.8L294.6 646.5L285.4 641.3ZM513.8 348.9L523.0 354.1L529.6 345.8L520.3 340.6ZM523.0 354.1L532.3 359.3L538.8 350.9L529.6 345.8ZM718.8 103.5L728.1 108.7L734.6 100.3L725.3 95.2ZM721.5 117.0L730.8 122.2L737.3 113.9L728.1 108.7ZM728.1 108.7L737.3 113.9L743.8 105.5L734.6 100.3ZM376.2 644.1L385.5 649.3L392.0 641.0L382.7 635.8ZM588.3 474.7L597.6 479.9L604.1 471.6L594.8 466.4ZM599.2 528.9L608.5 534.1L615.0 525.7L605.7 520.5ZM721.6 525.4L730.8 530.6L737.4 522.2L728.1 517.0ZM728.1 517.0L737.4 522.2L743.9 513.9L734.6 508.7ZM684.1 624.5L693.3 629.6L699.8 621.3L690.6 616.1Z"/>
<path fill="#b70503" stroke="#b70503" stroke-width="1.6" d="M380.5 94.1L389.7 99.3L396.3 90.9L387.0 85.8ZM389.2 219.1L398.5 224.3L405.0 215.9L395.7 210.7ZM387.0 289.9L396.3 295.1L402.8 286.8L393.6 281.6ZM479.5 341.7L488.8 346.9L495.3 338.6L486.0 333.4ZM227.7 681.0L237.0 686.2L243.5 677.9L234.3 672.7ZM240.8 664.3L250.0 669.5L256.5 661.2L247.3 656.0ZM719.9 68.1L729.1 73.3L735.7 64.9L726.4 59.7ZM335.4 645.3L344.7 650.5L351.2 642.1L341.9 636.9ZM579.6 349.8L588.8 354.9L595.4 346.6L586.1 341.4ZM598.1 360.1L607.3 365.3L613.9 357.0L604.6 351.8ZM607.3 365.3L616.6 370.5L623.1 362.1L613.9 357.0ZM401.2 646.1L410.5 651.3L417.0 643.0L407.8 637.8ZM569.8 464.4L579.1 469.6L585.6 461.2L576.4 456.0ZM623.1 566.3L632.4 571.5L638.9 563.1L629.7 558.0ZM632.4 571.5L641.6 576.7L648.2 568.3L638.9 563.1ZM641.6 576.7L650.9 581.9L657.4 573.5L648.2 568.3ZM649.8 617.3L659.1 622.5L665.6 614.1L656.3 608.9ZM656.3 608.9L665.6 614.1L672.1 605.7L662.9 600.6ZM734.6 508.7L743.9 513.9L750.4 505.5L741.2 500.3ZM659.1 622.5L668.3 627.6L674.8 619.3L665.6 614.1ZM730.8 530.6L740.1 535.8L746.6 527.4L737.4 522.2Z"/>
<path fill="#b40201" stroke="#b40201" stroke-width="1.6" d="M370.2 124.3L379.4 129.5L385.9 121.2L376.7 116.0ZM406.1 180.5L415.3 185.7L421.8 177.3L412.6 172.1ZM378.9 249.3L388.1 254.5L394.7 246.1L385.4 241.0ZM399.0 308.6L408.3 313.8L414.8 305.5L405.5 300.3ZM426.8 324.2L436.0 329.4L442.5 321.0L433.3 315.8ZM436.0 329.4L445.2 334.5L451.8 326.2L442.5 321.0ZM445.2 334.5L454.5 339.7L461.0 331.4L451.8 326.2ZM488.8 346.9L498.0 352.1L504.5 343.7L495.3 338.6ZM498.0 352.1L507.3 357.3L513.8 348.9L504.5 343.7ZM716.1 90.0L725.3 95.2L731.9 86.8L722.6 81.6ZM722.6 81.6L731.9 86.8L738.4 78.5L729.1 73.3ZM725.3 95.2L734.6 100.3L741.1 92.0L731.9 86.8ZM731.9 86.8L741.1 92.0L747.6 83.6L738.4 78.5ZM538.8 350.9L548.1 356.1L554.6 347.8L545.3 342.6ZM734.6 100.3L743.8 105.5L750.4 97.2L741.1 92.0ZM579.1 469.6L588.3 474.7L594.8 466.4L585.6 461.2ZM440.9 680.4L450.2 685.6L456.7 677.2L447.5 672.0ZM644.4 590.2L653.6 595.4L660.1 587.0L650.9 581.9ZM640.6 612.1L649.8 617.3L656.3 608.9L647.1 603.7ZM647.1 603.7L656.3 608.9L662.9 600.6L653.6 595.4ZM668.3 627.6L677.5 632.8L684.1 624.5L674.8 619.3ZM693.3 629.6L702.6 634.8L709.1 626.5L699.8 621.3Z"/>
<path fill="#b00000" stroke="#b00000" stroke-width="1.6" d="M359.8 154.6L369.1 159.8L375.6 151.4L366.4 146.2ZM362.5 168.1L371.8 173.3L378.3 164.9L369.1 159.8ZM396.8 175.3L406.1 180.5L412.6 172.1L403.3 167.0ZM382.7 227.4L391.9 232.6L398.5 224.3L389.2 219.1ZM408.3 313.8L417.5 319.0L424.0 310.6L414.8 305.5ZM417.5 319.0L426.8 324.2L433.3 315.8L424.0 310.6ZM454.5 339.7L463.7 344.9L470.3 336.6L461.0 331.4ZM463.7 344.9L473.0 350.1L479.5 341.7L470.3 336.6ZM221.2 689.4L230.4 694.6L237.0 686.2L227.7 681.0ZM247.3 656.0L256.5 661.2L263.1 652.8L253.8 647.6ZM351.2 642.1L360.4 647.3L367.0 638.9L357.7 633.8ZM367.0 638.9L376.2 644.1L382.7 635.8L373.5 630.6ZM419.7 656.5L429.0 661.7L435.5 653.3L426.3 648.1ZM429.0 661.7L438.2 666.9L444.7 658.5L435.5 653.3ZM613.9 561.1L623.1 566.3L629.7 558.0L620.4 552.8Z"/>
<path fill="#ad0000" stroke="#ad0000" stroke-width="1.6" d="M371.8 173.3L381.0 178.5L387.6 170.1L378.3 164.9ZM381.0 178.5L390.3 183.7L396.8 175.3L387.6 170.1ZM375.1 271.2L384.3 276.4L390.8 268.0L381.6 262.9ZM377.8 284.7L387.0 289.9L393.6 281.6L384.3 276.4ZM389.8 303.5L399.0 308.6L405.5 300.3L396.3 295.1ZM473.0 350.1L482.2 355.3L488.8 346.9L479.5 341.7ZM482.2 355.3L491.5 360.4L498.0 352.1L488.8 346.9ZM491.5 360.4L500.7 365.6L507.3 357.3L498.0 352.1ZM507.3 357.3L516.5 362.5L523.0 354.1L513.8 348.9ZM729.1 73.3L738.4 78.5L744.9 70.1L735.7 64.9ZM294.6 646.5L303.9 651.6L310.4 643.3L301.1 638.1ZM570.9 429.0L580.2 434.1L586.7 425.8L577.4 420.6ZM410.5 651.3L419.7 656.5L426.3 648.1L417.0 643.0ZM604.7 555.9L613.9 561.1L620.4 552.8L611.2 547.6ZM635.1 585.0L644.4 590.2L650.9 581.9L641.6 576.7ZM718.3 631.7L727.6 636.8L734.1 628.5L724.9 623.3Z"/>
<path fill="#a80000" stroke="#a80000" stroke-width="1.6" d="M516.5 362.5L525.8 367.6L532.3 359.3L523.0 354.1ZM310.4 643.3L319.6 648.5L326.2 640.1L316.9 634.9ZM532.3 359.3L541.5 364.5L548.1 356.1L538.8 350.9ZM392.0 641.0L401.2 646.1L407.8 637.8L398.5 632.6ZM450.2 685.6L459.4 690.8L466.0 682.4L456.7 677.2ZM625.9 579.8L635.1 585.0L641.6 576.7L632.4 571.5ZM637.8 598.6L647.1 603.7L653.6 595.4L644.4 590.2Z"/>
<path fill="#a50000" stroke="#a50000" stroke-width="1.6" d="M356.0 176.5L365.3 181.7L371.8 173.3L362.5 168.1ZM365.3 181.7L374.5 186.8L381.0 178.5L371.8 173.3ZM380.0 213.9L389.2 219.1L395.7 210.7L386.5 205.5ZM376.2 235.8L385.4 241.0L391.9 232.6L382.7 227.4ZM500.7 365.6L510.0 370.8L516.5 362.5L507.3 357.3ZM510.0 370.8L519.2 376.0L525.8 367.6L516.5 362.5ZM326.2 640.1L335.4 645.3L341.9 636.9L332.7 631.8ZM616.6 574.7L625.9 579.8L632.4 571.5L623.1 566.3ZM631.3 606.9L640.6 612.1L647.1 603.7L637.8 598.6Z"/>
<path fill="#a00000" stroke="#a00000" stroke-width="1.6" d="M374.5 186.8L383.8 192.0L390.3 183.7L381.0 178.5ZM373.4 222.3L382.7 227.4L389.2 219.1L380.0 213.9ZM386.5 205.5L395.7 210.7L402.3 202.4L393.0 197.2ZM372.4 257.7L381.6 262.9L388.1 254.5L378.9 249.3ZM380.5 298.3L389.8 303.5L396.3 295.1L387.0 289.9ZM420.2 332.5L429.5 337.7L436.0 329.4L426.8 324.2ZM429.5 337.7L438.7 342.9L445.2 334.5L436.0 329.4ZM438.7 342.9L448.0 348.1L454.5 339.7L445.2 334.5ZM448.0 348.1L457.2 353.3L463.7 344.9L454.5 339.7ZM457.2 353.3L466.5 358.4L473.0 350.1L463.7 344.9ZM466.5 358.4L475.7 363.6L482.2 355.3L473.0 350.1ZM475.7 363.6L485.0 368.8L491.5 360.4L482.2 355.3ZM478.4 377.2L487.7 382.3L494.2 374.0L485.0 368.8ZM485.0 368.8L494.2 374.0L500.7 365.6L491.5 360.4ZM487.7 382.3L496.9 387.5L503.5 379.2L494.2 374.0ZM496.9 387.5L506.2 392.7L512.7 384.3L503.5 379.2ZM503.5 379.2L512.7 384.3L519.2 376.0L510.0 370.8ZM382.7 635.8L392.0 641.0L398.5 632.6L389.3 627.4ZM438.2 666.9L447.5 672.0L454.0 663.7L444.7 658.5ZM596.5 515.3L605.7 520.5L612.3 512.2L603.0 507.0ZM607.4 569.5L616.6 574.7L623.1 566.3L613.9 561.1ZM628.6 593.4L637.8 598.6L644.4 590.2L635.1 585.0ZM634.0 620.4L643.3 625.6L649.8 617.3L640.6 612.1Z"/>
<path fill="#9b0000" stroke="#9b0000" stroke-width="1.6" d="M358.7 190.0L368.0 195.2L374.5 186.8L365.3 181.7ZM368.0 195.2L377.2 200.4L383.8 192.0L374.5 186.8ZM370.7 208.7L380.0 213.9L386.5 205.5L377.2 200.4ZM369.6 244.1L378.9 249.3L385.4 241.0L376.2 235.8ZM64.5 685.7L73.8 690.9L80.3 682.5L71.1 677.3ZM411.0 327.4L420.2 332.5L426.8 324.2L417.5 319.0ZM432.2 351.2L441.4 356.4L448.0 348.1L438.7 342.9ZM441.4 356.4L450.7 361.6L457.2 353.3L448.0 348.1ZM450.7 361.6L459.9 366.8L466.5 358.4L457.2 353.3ZM459.9 366.8L469.2 372.0L475.7 363.6L466.5 358.4ZM469.2 372.0L478.4 377.2L485.0 368.8L475.7 363.6ZM471.9 385.5L481.2 390.7L487.7 382.3L478.4 377.2ZM494.2 374.0L503.5 379.2L510.0 370.8L500.7 365.6ZM499.7 401.0L508.9 406.2L515.4 397.9L506.2 392.7ZM506.2 392.7L515.4 397.9L522.0 389.5L512.7 384.3ZM595.4 550.8L604.7 555.9L611.2 547.6L601.9 542.4ZM598.1 564.3L607.4 569.5L613.9 561.1L604.7 555.9ZM619.3 588.2L628.6 593.4L635.1 585.0L625.9 579.8ZM624.8 615.3L634.0 620.4L640.6 612.1L631.3 606.9ZM643.3 625.6L652.5 630.8L659.1 622.5L649.8 617.3Z"/>
<path fill="#970000" stroke="#970000" stroke-width="1.6" d="M374.0 102.5L383.2 107.6L389.7 99.3L380.5 94.1ZM363.6 132.7L372.9 137.9L379.4 129.5L370.2 124.3ZM361.5 203.5L370.7 208.7L377.2 200.4L368.0 195.2ZM364.2 217.1L373.4 222.3L380.0 213.9L370.7 208.7ZM377.2 200.4L386.5 205.5L393.0 197.2L383.8 192.0ZM366.9 230.6L376.2 235.8L382.7 227.4L373.4 222.3ZM48.8 688.9L58.0 694.0L64.5 685.7L55.3 680.5ZM55.3 680.5L64.5 685.7L71.1 677.3L61.8 672.1ZM61.8 672.1L71.1 677.3L77.6 669.0L68.4 663.8ZM68.4 663.8L77.6 669.0L84.1 660.6L74.9 655.4ZM71.1 677.3L80.3 682.5L86.8 674.2L77.6 669.0ZM77.6 669.0L86.8 674.2L93.4 665.8L84.1 660.6ZM73.8 690.9L83.0 696.0L89.6 687.7L80.3 682.5ZM105.3 684.5L114.6 689.7L121.1 681.3L111.9 676.2ZM392.5 317.0L401.7 322.2L408.3 313.8L399.0 308.6ZM401.7 322.2L411.0 327.4L417.5 319.0L408.3 313.8ZM413.7 340.9L422.9 346.1L429.5 337.7L420.2 332.5ZM422.9 346.1L432.2 351.2L438.7 342.9L429.5 337.7ZM218.5 675.8L227.7 681.0L234.3 672.7L225.0 667.5ZM453.4 375.1L462.7 380.3L469.2 372.0L459.9 366.8ZM462.7 380.3L471.9 385.5L478.4 377.2L469.2 372.0ZM269.6 644.4L278.8 649.6L285.4 641.3L276.1 636.1ZM465.4 393.9L474.6 399.0L481.2 390.7L471.9 385.5ZM481.2 390.7L490.4 395.9L496.9 387.5L487.7 382.3ZM490.4 395.9L499.7 401.0L506.2 392.7L496.9 387.5ZM341.9 636.9L351.2 642.1L357.7 633.8L348.5 628.6ZM447.5 672.0L456.7 677.2L463.2 668.9L454.0 663.7ZM610.1 583.0L619.3 588.2L625.9 579.8L616.6 574.7ZM622.1 601.7L631.3 606.9L637.8 598.6L628.6 593.4ZM652.5 630.8L661.8 636.0L668.3 627.6L659.1 622.5ZM677.5 632.8L686.8 638.0L693.3 629.6L684.1 624.5Z"/>
<path fill="#930000" stroke="#930000" stroke-width="1.6" d="M393.0 197.2L402.3 202.4L408.8 194.0L399.5 188.8ZM399.5 188.8L408.8 194.0L415.3 185.7L406.1 180.5ZM49.9 653.4L59.1 658.6L65.6 650.3L56.4 645.1ZM52.6 667.0L61.8 672.1L68.4 663.8L59.1 658.6ZM59.1 658.6L68.4 663.8L74.9 655.4L65.6 650.3ZM80.3 682.5L89.6 687.7L96.1 679.3L86.8 674.2ZM86.8 674.2L96.1 679.3L102.6 671.0L93.4 665.8ZM89.6 687.7L98.8 692.9L105.3 684.5L96.1 679.3ZM96.1 679.3L105.3 684.5L111.9 676.2L102.6 671.0ZM383.2 311.8L392.5 317.0L399.0 308.6L389.8 303.5ZM404.5 335.7L413.7 340.9L420.2 332.5L411.0 327.4ZM434.9 364.8L444.2 370.0L450.7 361.6L441.4 356.4ZM444.2 370.0L453.4 375.1L459.9 366.8L450.7 361.6ZM212.0 684.2L221.2 689.4L227.7 681.0L218.5 675.8ZM225.0 667.5L234.3 672.7L240.8 664.3L231.5 659.1ZM446.9 383.5L456.1 388.7L462.7 380.3L453.4 375.1ZM253.8 647.6L263.1 652.8L269.6 644.4L260.4 639.3ZM456.1 388.7L465.4 393.9L471.9 385.5L462.7 380.3ZM474.6 399.0L483.9 404.2L490.4 395.9L481.2 390.7ZM483.9 404.2L493.1 409.4L499.7 401.0L490.4 395.9ZM493.1 409.4L502.4 414.6L508.9 406.2L499.7 401.0ZM525.8 367.6L535.0 372.8L541.5 364.5L532.3 359.3ZM564.4 437.3L573.6 442.5L580.2 434.1L570.9 429.0ZM560.6 459.2L569.8 464.4L576.4 456.0L567.1 450.8ZM612.8 596.6L622.1 601.7L628.6 593.4L619.3 588.2Z"/>
<path fill="#8f0000" stroke="#8f0000" stroke-width="1.6" d="M353.3 162.9L362.5 168.1L369.1 159.8L359.8 154.6ZM383.8 192.0L393.0 197.2L399.5 188.8L390.3 183.7ZM395.2 330.5L404.5 335.7L411.0 327.4L401.7 322.2ZM416.4 354.4L425.7 359.6L432.2 351.2L422.9 346.1ZM425.7 359.6L434.9 364.8L441.4 356.4L432.2 351.2ZM428.4 373.1L437.6 378.3L444.2 370.0L434.9 364.8ZM437.6 378.3L446.9 383.5L453.4 375.1L444.2 370.0ZM231.5 659.1L240.8 664.3L247.3 656.0L238.1 650.8ZM285.4 641.3L294.6 646.5L301.1 638.1L291.9 632.9ZM512.7 384.3L522.0 389.5L528.5 381.2L519.2 376.0ZM357.7 633.8L367.0 638.9L373.5 630.6L364.2 625.4ZM600.8 577.8L610.1 583.0L616.6 574.7L607.4 569.5ZM603.6 591.4L612.8 596.6L619.3 588.2L610.1 583.0ZM615.5 610.1L624.8 615.3L631.3 606.9L622.1 601.7ZM702.6 634.8L711.8 640.0L718.3 631.7L709.1 626.5Z"/>
<path fill="#8a0000" stroke="#8a0000" stroke-width="1.6" d="M377.8 80.6L387.0 85.8L393.5 77.4L384.3 72.2ZM352.2 198.4L361.5 203.5L368.0 195.2L358.7 190.0ZM354.9 211.9L364.2 217.1L370.7 208.7L361.5 203.5ZM357.7 225.4L366.9 230.6L373.4 222.3L364.2 217.1ZM390.3 183.7L399.5 188.8L406.1 180.5L396.8 175.3ZM360.4 239.0L369.6 244.1L376.2 235.8L366.9 230.6ZM365.8 266.0L375.1 271.2L381.6 262.9L372.4 257.7ZM368.5 279.6L377.8 284.7L384.3 276.4L375.1 271.2ZM386.0 325.3L395.2 330.5L401.7 322.2L392.5 317.0ZM407.2 349.2L416.4 354.4L422.9 346.1L413.7 340.9ZM409.9 362.8L419.1 368.0L425.7 359.6L416.4 354.4ZM419.1 368.0L428.4 373.1L434.9 364.8L425.7 359.6ZM449.6 397.0L458.9 402.2L465.4 393.9L456.1 388.7ZM458.9 402.2L468.1 407.4L474.6 399.0L465.4 393.9ZM301.1 638.1L310.4 643.3L316.9 634.9L307.7 629.7ZM373.5 630.6L382.7 635.8L389.3 627.4L380.0 622.2ZM407.8 637.8L417.0 643.0L423.5 634.6L414.3 629.4ZM456.7 677.2L466.0 682.4L472.5 674.1L463.2 668.9ZM593.8 501.8L603.0 507.0L609.5 498.6L600.3 493.5ZM606.3 604.9L615.5 610.1L622.1 601.7L612.8 596.6ZM609.0 618.4L618.3 623.6L624.8 615.3L615.5 610.1ZM618.3 623.6L627.5 628.8L634.0 620.4L624.8 615.3ZM627.5 628.8L636.8 634.0L643.3 625.6L634.0 620.4Z"/>
<path fill="#870000" stroke="#870000" stroke-width="1.6" d="M367.4 110.8L376.7 116.0L383.2 107.6L374.0 102.5ZM349.5 184.8L358.7 190.0L365.3 181.7L356.0 176.5ZM363.1 252.5L372.4 257.7L378.9 249.3L369.6 244.1ZM371.3 293.1L380.5 298.3L387.0 289.9L377.8 284.7ZM397.9 344.1L407.2 349.2L413.7 340.9L404.5 335.7ZM400.6 357.6L409.9 362.8L416.4 354.4L407.2 349.2ZM238.1 650.8L247.3 656.0L253.8 647.6L244.6 642.4ZM440.4 391.8L449.6 397.0L456.1 388.7L446.9 383.5ZM316.9 634.9L326.2 640.1L332.7 631.8L323.4 626.6ZM519.2 376.0L528.5 381.2L535.0 372.8L525.8 367.6ZM417.0 643.0L426.3 648.1L432.8 639.8L423.5 634.6ZM426.3 648.1L435.5 653.3L442.0 645.0L432.8 639.8ZM459.4 690.8L468.7 695.9L475.2 687.6L466.0 682.4ZM592.7 537.2L601.9 542.4L608.5 534.1L599.2 528.9ZM594.3 586.2L603.6 591.4L610.1 583.0L600.8 577.8ZM597.0 599.7L606.3 604.9L612.8 596.6L603.6 591.4ZM599.8 613.3L609.0 618.4L615.5 610.1L606.3 604.9ZM636.8 634.0L646.0 639.2L652.5 630.8L643.3 625.6ZM661.8 636.0L671.0 641.2L677.5 632.8L668.3 627.6ZM727.6 636.8L736.8 642.0L743.4 633.7L734.1 628.5Z"/>
<path fill="#820000" stroke="#820000" stroke-width="1.6" d="M357.1 141.0L366.4 146.2L372.9 137.9L363.6 132.7ZM388.7 338.9L397.9 344.1L404.5 335.7L395.2 330.5ZM391.4 352.4L400.6 357.6L407.2 349.2L397.9 344.1ZM431.1 386.7L440.4 391.8L446.9 383.5L437.6 378.3ZM468.1 407.4L477.4 412.6L483.9 404.2L474.6 399.0ZM398.5 632.6L407.8 637.8L414.3 629.4L405.0 624.3ZM435.5 653.3L444.7 658.5L451.3 650.2L442.0 645.0ZM602.5 626.8L611.7 632.0L618.3 623.6L609.0 618.4ZM611.7 632.0L621.0 637.2L627.5 628.8L618.3 623.6ZM686.8 638.0L696.0 643.2L702.6 634.8L693.3 629.6Z"/>
<path fill="#fdb27b" d="M543.7 293.6L552.9 298.8L559.5 290.5L550.2 285.3ZM550.2 285.3L559.5 290.5L566.0 282.1L556.7 276.9ZM563.3 268.6L572.5 273.7L579.0 265.4L569.8 260.2Z"/>
<path fill="#fdaf79" d="M498.5 232.3L507.8 237.5L514.3 229.1L505.1 223.9ZM494.7 254.2L504.0 259.4L510.5 251.0L501.3 245.8ZM507.8 237.5L517.0 242.7L523.6 234.3L514.3 229.1ZM514.3 229.1L523.6 234.3L530.1 226.0L520.8 220.8ZM504.0 259.4L513.2 264.5L519.8 256.2L510.5 251.0ZM517.0 242.7L526.3 247.8L532.8 239.5L523.6 234.3ZM523.6 234.3L532.8 239.5L539.3 231.1L530.1 226.0ZM522.5 269.7L531.7 274.9L538.3 266.6L529.0 261.4ZM535.5 253.0L544.8 258.2L551.3 249.8L542.1 244.7ZM542.1 244.7L551.3 249.8L557.8 241.5L548.6 236.3ZM531.7 274.9L541.0 280.1L547.5 271.7L538.3 266.6ZM544.8 258.2L554.0 263.4L560.6 255.0L551.3 249.8ZM554.0 263.4L563.3 268.6L569.8 260.2L560.6 255.0ZM556.7 276.9L566.0 282.1L572.5 273.7L563.3 268.6Z"/>
<path fill="#fdab75" d="M470.8 216.8L480.0 221.9L486.6 213.6L477.3 208.4ZM477.3 208.4L486.6 213.6L493.1 205.2L483.8 200.0ZM490.4 191.7L499.6 196.9L506.1 188.5L496.9 183.3ZM496.9 183.3L506.1 188.5L512.7 180.2L503.4 175.0ZM485.5 249.0L494.7 254.2L501.3 245.8L492.0 240.7ZM505.1 223.9L514.3 229.1L520.8 220.8L511.6 215.6ZM511.6 215.6L520.8 220.8L527.4 212.4L518.1 207.2ZM488.2 262.5L497.5 267.7L504.0 259.4L494.7 254.2ZM501.3 245.8L510.5 251.0L517.0 242.7L507.8 237.5ZM520.8 220.8L530.1 226.0L536.6 217.6L527.4 212.4ZM497.5 267.7L506.7 272.9L513.2 264.5L504.0 259.4ZM510.5 251.0L519.8 256.2L526.3 247.8L517.0 242.7ZM530.1 226.0L539.3 231.1L545.9 222.8L536.6 217.6ZM513.2 264.5L522.5 269.7L529.0 261.4L519.8 256.2ZM526.3 247.8L535.5 253.0L542.1 244.7L532.8 239.5ZM532.8 239.5L542.1 244.7L548.6 236.3L539.3 231.1ZM516.0 278.1L525.2 283.3L531.7 274.9L522.5 269.7ZM529.0 261.4L538.3 266.6L544.8 258.2L535.5 253.0ZM525.2 283.3L534.4 288.4L541.0 280.1L531.7 274.9ZM538.3 266.6L547.5 271.7L554.0 263.4L544.8 258.2ZM551.3 249.8L560.6 255.0L567.1 246.7L557.8 241.5ZM534.4 288.4L543.7 293.6L550.2 285.3L541.0 280.1ZM541.0 280.1L550.2 285.3L556.7 276.9L547.5 271.7ZM569.8 260.2L579.0 265.4L585.6 257.0L576.3 251.9Z"/>
<path fill="#fda671" d="M461.5 211.6L470.8 216.8L477.3 208.4L468.1 203.2ZM481.1 186.5L490.4 191.7L496.9 183.3L487.7 178.2ZM487.7 178.2L496.9 183.3L503.4 175.0L494.2 169.8ZM483.8 200.0L493.1 205.2L499.6 196.9L490.4 191.7ZM480.0 221.9L489.3 227.1L495.8 218.8L486.6 213.6ZM489.3 227.1L498.5 232.3L505.1 223.9L495.8 218.8ZM495.8 218.8L505.1 223.9L511.6 215.6L502.3 210.4ZM492.0 240.7L501.3 245.8L507.8 237.5L498.5 232.3ZM518.1 207.2L527.4 212.4L533.9 204.1L524.6 198.9ZM524.6 198.9L533.9 204.1L540.4 195.7L531.2 190.5ZM527.4 212.4L536.6 217.6L543.1 209.2L533.9 204.1ZM536.6 217.6L545.9 222.8L552.4 214.4L543.1 209.2ZM506.7 272.9L516.0 278.1L522.5 269.7L513.2 264.5ZM519.8 256.2L529.0 261.4L535.5 253.0L526.3 247.8ZM539.3 231.1L548.6 236.3L555.1 228.0L545.9 222.8ZM548.6 236.3L557.8 241.5L564.4 233.1L555.1 228.0ZM547.5 271.7L556.7 276.9L563.3 268.6L554.0 263.4ZM560.6 255.0L569.8 260.2L576.3 251.9L567.1 246.7ZM537.2 302.0L546.4 307.2L552.9 298.8L543.7 293.6ZM552.9 298.8L562.2 304.0L568.7 295.6L559.5 290.5ZM559.5 290.5L568.7 295.6L575.2 287.3L566.0 282.1ZM572.5 273.7L581.8 278.9L588.3 270.6L579.0 265.4Z"/>
<path fill="#fca36e" d="M468.1 203.2L477.3 208.4L483.8 200.0L474.6 194.9ZM474.6 194.9L483.8 200.0L490.4 191.7L481.1 186.5ZM464.3 225.1L473.5 230.3L480.0 221.9L470.8 216.8ZM503.4 175.0L512.7 180.2L519.2 171.8L510.0 166.6ZM486.6 213.6L495.8 218.8L502.3 210.4L493.1 205.2ZM493.1 205.2L502.3 210.4L508.9 202.1L499.6 196.9ZM499.6 196.9L508.9 202.1L515.4 193.7L506.1 188.5ZM506.1 188.5L515.4 193.7L521.9 185.4L512.7 180.2ZM476.2 243.8L485.5 249.0L492.0 240.7L482.8 235.5ZM482.8 235.5L492.0 240.7L498.5 232.3L489.3 227.1ZM502.3 210.4L511.6 215.6L518.1 207.2L508.9 202.1ZM508.9 202.1L518.1 207.2L524.6 198.9L515.4 193.7ZM515.4 193.7L524.6 198.9L531.2 190.5L521.9 185.4ZM479.0 257.4L488.2 262.5L494.7 254.2L485.5 249.0ZM533.9 204.1L543.1 209.2L549.7 200.9L540.4 195.7ZM543.1 209.2L552.4 214.4L558.9 206.1L549.7 200.9ZM545.9 222.8L555.1 228.0L561.6 219.6L552.4 214.4ZM555.1 228.0L564.4 233.1L570.9 224.8L561.6 219.6ZM557.8 241.5L567.1 246.7L573.6 238.3L564.4 233.1ZM566.0 282.1L575.2 287.3L581.8 278.9L572.5 273.7ZM562.2 304.0L571.4 309.2L578.0 300.8L568.7 295.6ZM568.7 295.6L578.0 300.8L584.5 292.5L575.2 287.3Z"/>
<path fill="#fc9f6a" d="M494.2 169.8L503.4 175.0L510.0 166.6L500.7 161.5ZM457.7 233.5L467.0 238.6L473.5 230.3L464.3 225.1ZM467.0 238.6L476.2 243.8L482.8 235.5L473.5 230.3ZM473.5 230.3L482.8 235.5L489.3 227.1L480.0 221.9ZM509.4 286.4L518.7 291.6L525.2 283.3L516.0 278.1ZM518.7 291.6L527.9 296.8L534.4 288.4L525.2 283.3ZM564.4 233.1L573.6 238.3L580.1 230.0L570.9 224.8ZM527.9 296.8L537.2 302.0L543.7 293.6L534.4 288.4ZM567.1 246.7L576.3 251.9L582.9 243.5L573.6 238.3ZM576.3 251.9L585.6 257.0L592.1 248.7L582.9 243.5ZM579.0 265.4L588.3 270.6L594.8 262.2L585.6 257.0ZM581.8 278.9L591.0 284.1L597.5 275.8L588.3 270.6Z"/>
<path fill="#fc9c67" d="M471.9 181.3L481.1 186.5L487.7 178.2L478.4 173.0ZM478.4 173.0L487.7 178.2L494.2 169.8L484.9 164.6ZM451.2 241.8L460.5 247.0L467.0 238.6L457.7 233.5ZM516.5 158.3L525.7 163.5L532.3 155.1L523.0 149.9ZM512.7 180.2L521.9 185.4L528.4 177.0L519.2 171.8ZM469.7 252.2L479.0 257.4L485.5 249.0L476.2 243.8ZM521.9 185.4L531.2 190.5L537.7 182.2L528.4 177.0ZM531.2 190.5L540.4 195.7L546.9 187.4L537.7 182.2ZM540.4 195.7L549.7 200.9L556.2 192.5L546.9 187.4ZM490.9 276.1L500.2 281.3L506.7 272.9L497.5 267.7ZM552.4 214.4L561.6 219.6L568.2 211.3L558.9 206.1ZM561.6 219.6L570.9 224.8L577.4 216.4L568.2 211.3ZM582.9 243.5L592.1 248.7L598.6 240.3L589.4 235.2ZM546.4 307.2L555.7 312.3L562.2 304.0L552.9 298.8ZM575.2 287.3L584.5 292.5L591.0 284.1L581.8 278.9ZM571.4 309.2L580.7 314.3L587.2 306.0L578.0 300.8ZM578.0 300.8L587.2 306.0L593.7 297.6L584.5 292.5ZM591.0 284.1L600.3 289.3L606.8 280.9L597.5 275.8Z"/>
<path fill="#fc9863" d="M462.6 176.2L471.9 181.3L478.4 173.0L469.2 167.8ZM469.2 167.8L478.4 173.0L484.9 164.6L475.7 159.4ZM452.3 206.4L461.5 211.6L468.1 203.2L458.8 198.0ZM458.8 198.0L468.1 203.2L474.6 194.9L465.4 189.7ZM465.4 189.7L474.6 194.9L481.1 186.5L471.9 181.3ZM455.0 219.9L464.3 225.1L470.8 216.8L461.5 211.6ZM507.2 153.1L516.5 158.3L523.0 149.9L513.8 144.8ZM510.0 166.6L519.2 171.8L525.7 163.5L516.5 158.3ZM460.5 247.0L469.7 252.2L476.2 243.8L467.0 238.6ZM481.7 270.9L490.9 276.1L497.5 267.7L488.2 262.5ZM549.7 200.9L558.9 206.1L565.4 197.7L556.2 192.5ZM500.2 281.3L509.4 286.4L516.0 278.1L506.7 272.9ZM570.9 224.8L580.1 230.0L586.7 221.6L577.4 216.4ZM573.6 238.3L582.9 243.5L589.4 235.2L580.1 230.0ZM588.3 270.6L597.5 275.8L604.1 267.4L594.8 262.2ZM580.7 314.3L589.9 319.5L596.5 311.2L587.2 306.0ZM587.2 306.0L596.5 311.2L603.0 302.8L593.7 297.6ZM600.3 289.3L609.5 294.5L616.0 286.1L606.8 280.9Z"/>
<path fill="#fc9560" d="M449.6 192.9L458.8 198.0L465.4 189.7L456.1 184.5ZM484.9 164.6L494.2 169.8L500.7 161.5L491.5 156.3ZM448.5 228.3L457.7 233.5L464.3 225.1L455.0 219.9ZM500.7 161.5L510.0 166.6L516.5 158.3L507.2 153.1ZM525.7 163.5L535.0 168.6L541.5 160.3L532.3 155.1ZM535.0 168.6L544.2 173.8L550.7 165.5L541.5 160.3ZM472.4 265.7L481.7 270.9L488.2 262.5L479.0 257.4ZM537.7 182.2L546.9 187.4L553.5 179.0L544.2 173.8ZM544.2 173.8L553.5 179.0L560.0 170.7L550.7 165.5ZM580.1 230.0L589.4 235.2L595.9 226.8L586.7 221.6ZM589.4 235.2L598.6 240.3L605.2 232.0L595.9 226.8ZM585.6 257.0L594.8 262.2L601.3 253.9L592.1 248.7ZM555.7 312.3L564.9 317.5L571.4 309.2L562.2 304.0ZM584.5 292.5L593.7 297.6L600.3 289.3L591.0 284.1ZM593.7 297.6L603.0 302.8L609.5 294.5L600.3 289.3Z"/>
<path fill="#fc915c" d="M456.1 184.5L465.4 189.7L471.9 181.3L462.6 176.2ZM475.7 159.4L484.9 164.6L491.5 156.3L482.2 151.1ZM442.0 236.6L451.2 241.8L457.7 233.5L448.5 228.3ZM444.7 250.2L453.9 255.3L460.5 247.0L451.2 241.8ZM523.0 149.9L532.3 155.1L538.8 146.8L529.5 141.6ZM519.2 171.8L528.4 177.0L535.0 168.6L525.7 163.5ZM463.2 260.5L472.4 265.7L479.0 257.4L469.7 252.2ZM528.4 177.0L537.7 182.2L544.2 173.8L535.0 168.6ZM546.9 187.4L556.2 192.5L562.7 184.2L553.5 179.0ZM553.5 179.0L562.7 184.2L569.2 175.8L560.0 170.7ZM558.9 206.1L568.2 211.3L574.7 202.9L565.4 197.7ZM568.2 211.3L577.4 216.4L583.9 208.1L574.7 202.9ZM530.6 310.3L539.9 315.5L546.4 307.2L537.2 302.0ZM597.5 275.8L606.8 280.9L613.3 272.6L604.1 267.4ZM606.8 280.9L616.0 286.1L622.6 277.8L613.3 272.6Z"/>
<path fill="#fc8c59" d="M443.1 201.2L452.3 206.4L458.8 198.0L449.6 192.9ZM488.7 142.7L498.0 147.9L504.5 139.6L495.3 134.4ZM491.5 156.3L500.7 161.5L507.2 153.1L498.0 147.9ZM498.0 147.9L507.2 153.1L513.8 144.8L504.5 139.6ZM513.8 144.8L523.0 149.9L529.5 141.6L520.3 136.4ZM453.9 255.3L463.2 260.5L469.7 252.2L460.5 247.0ZM550.7 165.5L560.0 170.7L566.5 162.3L557.3 157.1ZM556.2 192.5L565.4 197.7L572.0 189.4L562.7 184.2ZM562.7 184.2L572.0 189.4L578.5 181.0L569.2 175.8ZM512.1 300.0L521.4 305.1L527.9 296.8L518.7 291.6ZM577.4 216.4L586.7 221.6L593.2 213.3L583.9 208.1ZM521.4 305.1L530.6 310.3L537.2 302.0L527.9 296.8ZM592.1 248.7L601.3 253.9L607.9 245.5L598.6 240.3ZM594.8 262.2L604.1 267.4L610.6 259.0L601.3 253.9ZM564.9 317.5L574.2 322.7L580.7 314.3L571.4 309.2ZM684.0 420.3L693.3 425.5L699.8 417.1L690.6 411.9ZM693.3 425.5L702.5 430.7L709.1 422.3L699.8 417.1Z"/>
<path fill="#fb8a58" d="M482.2 151.1L491.5 156.3L498.0 147.9L488.7 142.7ZM445.8 214.7L455.0 219.9L461.5 211.6L452.3 206.4ZM438.2 258.5L447.4 263.7L453.9 255.3L444.7 250.2ZM532.3 155.1L541.5 160.3L548.0 151.9L538.8 146.8ZM541.5 160.3L550.7 165.5L557.3 157.1L548.0 151.9ZM484.4 284.4L493.7 289.6L500.2 281.3L490.9 276.1ZM502.9 294.8L512.1 300.0L518.7 291.6L509.4 286.4ZM586.7 221.6L595.9 226.8L602.4 218.4L593.2 213.3ZM595.9 226.8L605.2 232.0L611.7 223.6L602.4 218.4ZM601.3 253.9L610.6 259.0L617.1 250.7L607.9 245.5ZM604.1 267.4L613.3 272.6L619.8 264.2L610.6 259.0ZM574.2 322.7L583.4 327.9L589.9 319.5L580.7 314.3ZM613.3 272.6L622.6 277.8L629.1 269.4L619.8 264.2ZM589.9 319.5L599.2 324.7L605.7 316.4L596.5 311.2ZM596.5 311.2L605.7 316.4L612.2 308.0L603.0 302.8ZM609.5 294.5L618.8 299.7L625.3 291.3L616.0 286.1ZM656.3 404.8L665.6 409.9L672.1 401.6L662.8 396.4ZM665.6 409.9L674.8 415.1L681.3 406.8L672.1 401.6ZM690.6 411.9L699.8 417.1L706.3 408.8L697.1 403.6ZM697.1 403.6L706.3 408.8L712.9 400.4L703.6 395.2ZM699.8 417.1L709.1 422.3L715.6 413.9L706.3 408.8Z"/>
<path fill="#fa8656" d="M459.9 162.6L469.2 167.8L475.7 159.4L466.4 154.3ZM435.4 245.0L444.7 250.2L451.2 241.8L442.0 236.6ZM465.9 274.1L475.2 279.2L481.7 270.9L472.4 265.7ZM475.2 279.2L484.4 284.4L490.9 276.1L481.7 270.9ZM560.0 170.7L569.2 175.8L575.8 167.5L566.5 162.3ZM493.7 289.6L502.9 294.8L509.4 286.4L500.2 281.3ZM565.4 197.7L574.7 202.9L581.2 194.6L572.0 189.4ZM572.0 189.4L581.2 194.6L587.7 186.2L578.5 181.0ZM574.7 202.9L583.9 208.1L590.5 199.7L581.2 194.6ZM539.9 315.5L549.1 320.7L555.7 312.3L546.4 307.2ZM598.6 240.3L607.9 245.5L614.4 237.2L605.2 232.0ZM603.0 302.8L612.2 308.0L618.8 299.7L609.5 294.5ZM616.0 286.1L625.3 291.3L631.8 282.9L622.6 277.8ZM647.1 399.6L656.3 404.8L662.8 396.4L653.6 391.2ZM662.8 396.4L672.1 401.6L678.6 393.2L669.4 388.0ZM669.4 388.0L678.6 393.2L685.1 384.9L675.9 379.7ZM672.1 401.6L681.3 406.8L687.9 398.4L678.6 393.2ZM678.6 393.2L687.9 398.4L694.4 390.1L685.1 384.9ZM674.8 415.1L684.0 420.3L690.6 411.9L681.3 406.8ZM677.5 428.6L686.8 433.8L693.3 425.5L684.0 420.3ZM706.3 408.8L715.6 413.9L722.1 405.6L712.9 400.4ZM702.5 430.7L711.8 435.8L718.3 427.5L709.1 422.3ZM711.8 435.8L721.0 441.0L727.6 432.7L718.3 427.5ZM721.0 441.0L730.3 446.2L736.8 437.8L727.6 432.7Z"/>
<path fill="#f98455" d="M453.4 171.0L462.6 176.2L469.2 167.8L459.9 162.6ZM466.4 154.3L475.7 159.4L482.2 151.1L473.0 145.9ZM495.3 134.4L504.5 139.6L511.0 131.2L501.8 126.0ZM439.2 223.1L448.5 228.3L455.0 219.9L445.8 214.7ZM504.5 139.6L513.8 144.8L520.3 136.4L511.0 131.2ZM428.9 253.3L438.2 258.5L444.7 250.2L435.4 245.0ZM529.5 141.6L538.8 146.8L545.3 138.4L536.1 133.2ZM447.4 263.7L456.7 268.9L463.2 260.5L453.9 255.3ZM456.7 268.9L465.9 274.1L472.4 265.7L463.2 260.5ZM569.2 175.8L578.5 181.0L585.0 172.7L575.8 167.5ZM581.2 194.6L590.5 199.7L597.0 191.4L587.7 186.2ZM607.9 245.5L617.1 250.7L623.6 242.3L614.4 237.2ZM610.6 259.0L619.8 264.2L626.4 255.9L617.1 250.7ZM619.8 264.2L629.1 269.4L635.6 261.1L626.4 255.9ZM644.3 386.0L653.6 391.2L660.1 382.9L650.9 377.7ZM650.9 377.7L660.1 382.9L666.6 374.5L657.4 369.3ZM657.4 369.3L666.6 374.5L673.2 366.2L663.9 361.0ZM663.9 361.0L673.2 366.2L679.7 357.8L670.4 352.6ZM653.6 391.2L662.8 396.4L669.4 388.0L660.1 382.9ZM660.1 382.9L669.4 388.0L675.9 379.7L666.6 374.5ZM666.6 374.5L675.9 379.7L682.4 371.3L673.2 366.2ZM675.9 379.7L685.1 384.9L691.7 376.5L682.4 371.3ZM652.5 426.6L661.7 431.8L668.3 423.5L659.0 418.3ZM659.0 418.3L668.3 423.5L674.8 415.1L665.6 409.9ZM685.1 384.9L694.4 390.1L700.9 381.7L691.7 376.5ZM681.3 406.8L690.6 411.9L697.1 403.6L687.9 398.4ZM687.9 398.4L697.1 403.6L703.6 395.2L694.4 390.1ZM671.0 437.0L680.2 442.2L686.8 433.8L677.5 428.6ZM703.6 395.2L712.9 400.4L719.4 392.1L710.2 386.9ZM680.2 442.2L689.5 447.4L696.0 439.0L686.8 433.8ZM686.8 433.8L696.0 439.0L702.5 430.7L693.3 425.5ZM709.1 422.3L718.3 427.5L724.8 419.1L715.6 413.9ZM715.6 413.9L724.8 419.1L731.4 410.8L722.1 405.6ZM718.3 427.5L727.6 432.7L734.1 424.3L724.8 419.1ZM724.8 419.1L734.1 424.3L740.6 416.0L731.4 410.8ZM727.6 432.7L736.8 437.8L743.3 429.5L734.1 424.3ZM734.1 424.3L743.3 429.5L749.9 421.1L740.6 416.0Z"/>
<path fill="#f88053" d="M440.3 187.7L449.6 192.9L456.1 184.5L446.9 179.3ZM446.9 179.3L456.1 184.5L462.6 176.2L453.4 171.0ZM479.5 137.6L488.7 142.7L495.3 134.4L486.0 129.2ZM436.5 209.6L445.8 214.7L452.3 206.4L443.1 201.2ZM520.3 136.4L529.5 141.6L536.1 133.2L526.8 128.0ZM538.8 146.8L548.0 151.9L554.6 143.6L545.3 138.4ZM548.0 151.9L557.3 157.1L563.8 148.8L554.6 143.6ZM557.3 157.1L566.5 162.3L573.0 153.9L563.8 148.8ZM583.9 208.1L593.2 213.3L599.7 204.9L590.5 199.7ZM590.5 199.7L599.7 204.9L606.2 196.6L597.0 191.4ZM549.1 320.7L558.4 325.9L564.9 317.5L555.7 312.3ZM617.1 250.7L626.4 255.9L632.9 247.5L623.6 242.3ZM626.4 255.9L635.6 261.1L642.1 252.7L632.9 247.5ZM622.6 277.8L631.8 282.9L638.3 274.6L629.1 269.4ZM605.7 316.4L615.0 321.5L621.5 313.2L612.2 308.0ZM618.8 299.7L628.0 304.8L634.5 296.5L625.3 291.3ZM615.0 321.5L624.2 326.7L630.7 318.4L621.5 313.2ZM628.0 304.8L637.3 310.0L643.8 301.7L634.5 296.5ZM673.2 366.2L682.4 371.3L688.9 363.0L679.7 357.8ZM682.4 371.3L691.7 376.5L698.2 368.2L688.9 363.0ZM691.7 376.5L700.9 381.7L707.4 373.3L698.2 368.2ZM661.7 431.8L671.0 437.0L677.5 428.6L668.3 423.5ZM668.3 423.5L677.5 428.6L684.0 420.3L674.8 415.1ZM694.4 390.1L703.6 395.2L710.2 386.9L700.9 381.7ZM712.9 400.4L722.1 405.6L728.6 397.2L719.4 392.1ZM689.5 447.4L698.7 452.5L705.3 444.2L696.0 439.0ZM696.0 439.0L705.3 444.2L711.8 435.8L702.5 430.7ZM698.7 452.5L708.0 457.7L714.5 449.4L705.3 444.2ZM705.3 444.2L714.5 449.4L721.0 441.0L711.8 435.8ZM714.5 449.4L723.8 454.6L730.3 446.2L721.0 441.0ZM730.3 446.2L739.5 451.4L746.1 443.0L736.8 437.8Z"/>
<path fill="#f77d52" d="M473.0 145.9L482.2 151.1L488.7 142.7L479.5 137.6ZM432.7 231.5L442.0 236.6L448.5 228.3L439.2 223.1ZM566.5 162.3L575.8 167.5L582.3 159.1L573.0 153.9ZM578.5 181.0L587.7 186.2L594.3 177.8L585.0 172.7ZM593.2 213.3L602.4 218.4L609.0 210.1L599.7 204.9ZM599.7 204.9L609.0 210.1L615.5 201.7L606.2 196.6ZM602.4 218.4L611.7 223.6L618.2 215.3L609.0 210.1ZM609.0 210.1L618.2 215.3L624.7 206.9L615.5 201.7ZM605.2 232.0L614.4 237.2L620.9 228.8L611.7 223.6ZM583.4 327.9L592.7 333.1L599.2 324.7L589.9 319.5ZM629.1 269.4L638.3 274.6L644.9 266.2L635.6 261.1ZM599.2 324.7L608.4 329.9L615.0 321.5L605.7 316.4ZM608.4 329.9L617.7 335.1L624.2 326.7L615.0 321.5ZM634.5 296.5L643.8 301.7L650.3 293.3L641.1 288.1ZM636.2 345.4L645.4 350.6L651.9 342.3L642.7 337.1ZM641.6 372.5L650.9 377.7L657.4 369.3L648.1 364.1ZM648.1 364.1L657.4 369.3L663.9 361.0L654.7 355.8ZM654.7 355.8L663.9 361.0L670.4 352.6L661.2 347.4ZM637.8 394.4L647.1 399.6L653.6 391.2L644.3 386.0ZM643.3 421.5L652.5 426.6L659.0 418.3L649.8 413.1ZM649.8 413.1L659.0 418.3L665.6 409.9L656.3 404.8ZM710.2 386.9L719.4 392.1L725.9 383.7L716.7 378.5ZM722.1 405.6L731.4 410.8L737.9 402.4L728.6 397.2ZM731.4 410.8L740.6 416.0L747.1 407.6L737.9 402.4ZM708.0 457.7L717.2 462.9L723.8 454.6L714.5 449.4Z"/>
<path fill="#f67a51" d="M486.0 129.2L495.3 134.4L501.8 126.0L492.5 120.9ZM430.0 217.9L439.2 223.1L445.8 214.7L436.5 209.6ZM501.8 126.0L511.0 131.2L517.6 122.9L508.3 117.7ZM426.2 239.8L435.4 245.0L442.0 236.6L432.7 231.5ZM511.0 131.2L520.3 136.4L526.8 128.0L517.6 122.9ZM422.4 261.7L431.6 266.9L438.2 258.5L428.9 253.3ZM431.6 266.9L440.9 272.1L447.4 263.7L438.2 258.5ZM536.1 133.2L545.3 138.4L551.8 130.1L542.6 124.9ZM587.7 186.2L597.0 191.4L603.5 183.0L594.3 177.8ZM614.4 237.2L623.6 242.3L630.2 234.0L620.9 228.8ZM635.6 261.1L644.9 266.2L651.4 257.9L642.1 252.7ZM612.2 308.0L621.5 313.2L628.0 304.8L618.8 299.7ZM625.3 291.3L634.5 296.5L641.1 288.1L631.8 282.9ZM621.5 313.2L630.7 318.4L637.3 310.0L628.0 304.8ZM629.6 353.8L638.9 359.0L645.4 350.6L636.2 345.4ZM642.7 337.1L651.9 342.3L658.5 333.9L649.2 328.7ZM661.2 347.4L670.4 352.6L677.0 344.3L667.7 339.1ZM670.4 352.6L679.7 357.8L686.2 349.5L677.0 344.3ZM679.7 357.8L688.9 363.0L695.5 354.6L686.2 349.5ZM700.9 381.7L710.2 386.9L716.7 378.5L707.4 373.3ZM664.5 445.4L673.7 450.5L680.2 442.2L671.0 437.0ZM673.7 450.5L683.0 455.7L689.5 447.4L680.2 442.2ZM719.4 392.1L728.6 397.2L735.2 388.9L725.9 383.7ZM723.8 454.6L733.0 459.7L739.5 451.4L730.3 446.2Z"/>
<path fill="#f57750" d="M433.8 196.0L443.1 201.2L449.6 192.9L440.3 187.7ZM526.8 128.0L536.1 133.2L542.6 124.9L533.3 119.7ZM440.9 272.1L450.1 277.2L456.7 268.9L447.4 263.7ZM545.3 138.4L554.6 143.6L561.1 135.2L551.8 130.1ZM554.6 143.6L563.8 148.8L570.3 140.4L561.1 135.2ZM563.8 148.8L573.0 153.9L579.6 145.6L570.3 140.4ZM575.8 167.5L585.0 172.7L591.5 164.3L582.3 159.1ZM597.0 191.4L606.2 196.6L612.8 188.2L603.5 183.0ZM524.1 318.7L533.4 323.9L539.9 315.5L530.6 310.3ZM623.6 242.3L632.9 247.5L639.4 239.2L630.2 234.0ZM632.9 247.5L642.1 252.7L648.7 244.4L639.4 239.2ZM631.8 282.9L641.1 288.1L647.6 279.8L638.3 274.6ZM641.1 288.1L650.3 293.3L656.8 285.0L647.6 279.8ZM647.6 279.8L656.8 285.0L663.4 276.6L654.1 271.4ZM617.7 335.1L626.9 340.3L633.4 331.9L624.2 326.7ZM624.2 326.7L633.4 331.9L640.0 323.5L630.7 318.4ZM637.3 310.0L646.5 315.2L653.0 306.8L643.8 301.7ZM655.7 320.4L665.0 325.6L671.5 317.2L662.3 312.0ZM638.9 359.0L648.1 364.1L654.7 355.8L645.4 350.6ZM645.4 350.6L654.7 355.8L661.2 347.4L651.9 342.3ZM635.1 380.9L644.3 386.0L650.9 377.7L641.6 372.5ZM634.0 416.3L643.3 421.5L649.8 413.1L640.5 407.9ZM640.5 407.9L649.8 413.1L656.3 404.8L647.1 399.6ZM688.9 363.0L698.2 368.2L704.7 359.8L695.5 354.6ZM646.0 435.0L655.2 440.2L661.7 431.8L652.5 426.6ZM728.6 397.2L737.9 402.4L744.4 394.1L735.2 388.9ZM717.2 462.9L726.5 468.1L733.0 459.7L723.8 454.6Z"/>
<path fill="#f4734e" d="M423.5 226.3L432.7 231.5L439.2 223.1L430.0 217.9ZM508.3 117.7L517.6 122.9L524.1 114.5L514.8 109.3ZM419.7 248.2L428.9 253.3L435.4 245.0L426.2 239.8ZM542.6 124.9L551.8 130.1L558.4 121.7L549.1 116.5ZM450.1 277.2L459.4 282.4L465.9 274.1L456.7 268.9ZM459.4 282.4L468.6 287.6L475.2 279.2L465.9 274.1ZM573.0 153.9L582.3 159.1L588.8 150.8L579.6 145.6ZM496.4 303.1L505.6 308.3L512.1 300.0L502.9 294.8ZM505.6 308.3L514.9 313.5L521.4 305.1L512.1 300.0ZM514.9 313.5L524.1 318.7L530.6 310.3L521.4 305.1ZM558.4 325.9L567.6 331.1L574.2 322.7L564.9 317.5ZM592.7 333.1L601.9 338.2L608.4 329.9L599.2 324.7ZM638.3 274.6L647.6 279.8L654.1 271.4L644.9 266.2ZM601.9 338.2L611.1 343.4L617.7 335.1L608.4 329.9ZM654.1 271.4L663.4 276.6L669.9 268.2L660.6 263.1ZM630.7 318.4L640.0 323.5L646.5 315.2L637.3 310.0ZM643.8 301.7L653.0 306.8L659.6 298.5L650.3 293.3ZM626.9 340.3L636.2 345.4L642.7 337.1L633.4 331.9ZM649.2 328.7L658.5 333.9L665.0 325.6L655.7 320.4ZM632.4 367.3L641.6 372.5L648.1 364.1L638.9 359.0ZM651.9 342.3L661.2 347.4L667.7 339.1L658.5 333.9ZM698.2 368.2L707.4 373.3L714.0 365.0L704.7 359.8ZM655.2 440.2L664.5 445.4L671.0 437.0L661.7 431.8ZM683.0 455.7L692.2 460.9L698.7 452.5L689.5 447.4ZM692.2 460.9L701.5 466.1L708.0 457.7L698.7 452.5ZM733.0 459.7L742.3 464.9L748.8 456.6L739.5 451.4Z"/>
<path fill="#f2704c" d="M450.7 157.4L459.9 162.6L466.4 154.3L457.2 149.1ZM492.5 120.9L501.8 126.0L508.3 117.7L499.1 112.5ZM517.6 122.9L526.8 128.0L533.3 119.7L524.1 114.5ZM533.3 119.7L542.6 124.9L549.1 116.5L539.9 111.3ZM425.1 275.2L434.4 280.4L440.9 272.1L431.6 266.9ZM551.8 130.1L561.1 135.2L567.6 126.9L558.4 121.7ZM570.3 140.4L579.6 145.6L586.1 137.2L576.9 132.1ZM468.6 287.6L477.9 292.8L484.4 284.4L475.2 279.2ZM477.9 292.8L487.1 298.0L493.7 289.6L484.4 284.4ZM582.3 159.1L591.5 164.3L598.1 156.0L588.8 150.8ZM487.1 298.0L496.4 303.1L502.9 294.8L493.7 289.6ZM585.0 172.7L594.3 177.8L600.8 169.5L591.5 164.3ZM606.2 196.6L615.5 201.7L622.0 193.4L612.8 188.2ZM615.5 201.7L624.7 206.9L631.3 198.6L622.0 193.4ZM611.7 223.6L620.9 228.8L627.4 220.5L618.2 215.3ZM618.2 215.3L627.4 220.5L634.0 212.1L624.7 206.9ZM567.6 331.1L576.9 336.2L583.4 327.9L574.2 322.7ZM642.1 252.7L651.4 257.9L657.9 249.5L648.7 244.4ZM644.9 266.2L654.1 271.4L660.6 263.1L651.4 257.9ZM633.4 331.9L642.7 337.1L649.2 328.7L640.0 323.5ZM646.5 315.2L655.7 320.4L662.3 312.0L653.0 306.8ZM623.1 362.1L632.4 367.3L638.9 359.0L629.6 353.8ZM628.6 389.2L637.8 394.4L644.3 386.0L635.1 380.9ZM667.7 339.1L677.0 344.3L683.5 335.9L674.2 330.7ZM677.0 344.3L686.2 349.5L692.7 341.1L683.5 335.9ZM636.7 429.8L646.0 435.0L652.5 426.6L643.3 421.5ZM639.4 443.3L648.7 448.5L655.2 440.2L646.0 435.0ZM657.9 453.7L667.2 458.9L673.7 450.5L664.5 445.4ZM716.7 378.5L725.9 383.7L732.4 375.4L723.2 370.2ZM667.2 458.9L676.4 464.1L683.0 455.7L673.7 450.5ZM725.9 383.7L735.2 388.9L741.7 380.5L732.4 375.4ZM701.5 466.1L710.7 471.3L717.2 462.9L708.0 457.7ZM726.5 468.1L735.7 473.3L742.3 464.9L733.0 459.7Z"/>
<path fill="#f26d4b" d="M444.1 165.8L453.4 171.0L459.9 162.6L450.7 157.4ZM457.2 149.1L466.4 154.3L473.0 145.9L463.7 140.7ZM470.2 132.4L479.5 137.6L486.0 129.2L476.8 124.0ZM514.8 109.3L524.1 114.5L530.6 106.2L521.4 101.0ZM413.1 256.5L422.4 261.7L428.9 253.3L419.7 248.2ZM415.9 270.0L425.1 275.2L431.6 266.9L422.4 261.7ZM561.1 135.2L570.3 140.4L576.9 132.1L567.6 126.9ZM579.6 145.6L588.8 150.8L595.3 142.4L586.1 137.2ZM594.3 177.8L603.5 183.0L610.0 174.7L600.8 169.5ZM533.4 323.9L542.6 329.0L549.1 320.7L539.9 315.5ZM620.9 228.8L630.2 234.0L636.7 225.6L627.4 220.5ZM660.6 263.1L669.9 268.2L676.4 259.9L667.2 254.7ZM611.1 343.4L620.4 348.6L626.9 340.3L617.7 335.1ZM650.3 293.3L659.6 298.5L666.1 290.1L656.8 285.0ZM656.8 285.0L666.1 290.1L672.6 281.8L663.4 276.6ZM663.4 276.6L672.6 281.8L679.1 273.4L669.9 268.2ZM620.4 348.6L629.6 353.8L636.2 345.4L626.9 340.3ZM640.0 323.5L649.2 328.7L655.7 320.4L646.5 315.2ZM662.3 312.0L671.5 317.2L678.0 308.9L668.8 303.7ZM658.5 333.9L667.7 339.1L674.2 330.7L665.0 325.6ZM665.0 325.6L674.2 330.7L680.8 322.4L671.5 317.2ZM674.2 330.7L683.5 335.9L690.0 327.6L680.8 322.4ZM624.8 411.1L634.0 416.3L640.5 407.9L631.3 402.7ZM631.3 402.7L640.5 407.9L647.1 399.6L637.8 394.4ZM627.5 424.6L636.7 429.8L643.3 421.5L634.0 416.3ZM630.2 438.2L639.4 443.3L646.0 435.0L636.7 429.8ZM648.7 448.5L657.9 453.7L664.5 445.4L655.2 440.2ZM707.4 373.3L716.7 378.5L723.2 370.2L714.0 365.0ZM735.2 388.9L744.4 394.1L750.9 385.7L741.7 380.5Z"/>
<path fill="#f0694a" d="M499.1 112.5L508.3 117.7L514.8 109.3L505.6 104.1ZM417.0 234.6L426.2 239.8L432.7 231.5L423.5 226.3ZM524.1 114.5L533.3 119.7L539.9 111.3L530.6 106.2ZM549.1 116.5L558.4 121.7L564.9 113.3L555.6 108.2ZM434.4 280.4L443.6 285.6L450.1 277.2L440.9 272.1ZM588.8 150.8L598.1 156.0L604.6 147.6L595.3 142.4ZM591.5 164.3L600.8 169.5L607.3 161.1L598.1 156.0ZM603.5 183.0L612.8 188.2L619.3 179.9L610.0 174.7ZM627.4 220.5L636.7 225.6L643.2 217.3L634.0 212.1ZM639.4 239.2L648.7 244.4L655.2 236.0L645.9 230.8ZM576.9 336.2L586.1 341.4L592.7 333.1L583.4 327.9ZM653.0 306.8L662.3 312.0L668.8 303.7L659.6 298.5ZM683.5 335.9L692.7 341.1L699.3 332.7L690.0 327.6ZM621.0 433.0L630.2 438.2L636.7 429.8L627.5 424.6ZM686.2 349.5L695.5 354.6L702.0 346.3L692.7 341.1ZM676.4 464.1L685.7 469.2L692.2 460.9L683.0 455.7ZM685.7 469.2L694.9 474.4L701.5 466.1L692.2 460.9ZM694.9 474.4L704.2 479.6L710.7 471.3L701.5 466.1Z"/>
<path fill="#f06749" d="M437.6 174.1L446.9 179.3L453.4 171.0L444.1 165.8ZM463.7 140.7L473.0 145.9L479.5 137.6L470.2 132.4ZM476.8 124.0L486.0 129.2L492.5 120.9L483.3 115.7ZM427.3 204.4L436.5 209.6L443.1 201.2L433.8 196.0ZM505.6 104.1L514.8 109.3L521.4 101.0L512.1 95.8ZM410.4 243.0L419.7 248.2L426.2 239.8L417.0 234.6ZM521.4 101.0L530.6 106.2L537.1 97.8L527.9 92.6ZM576.9 132.1L586.1 137.2L592.6 128.9L583.4 123.7ZM600.8 169.5L610.0 174.7L616.6 166.3L607.3 161.1ZM542.6 329.0L551.9 334.2L558.4 325.9L549.1 320.7ZM630.2 234.0L639.4 239.2L645.9 230.8L636.7 225.6ZM636.7 225.6L645.9 230.8L652.5 222.5L643.2 217.3ZM645.9 230.8L655.2 236.0L661.7 227.6L652.5 222.5ZM651.4 257.9L660.6 263.1L667.2 254.7L657.9 249.5ZM659.6 298.5L668.8 303.7L675.3 295.3L666.1 290.1ZM666.1 290.1L675.3 295.3L681.9 287.0L672.6 281.8ZM668.8 303.7L678.0 308.9L684.6 300.5L675.3 295.3ZM675.3 295.3L684.6 300.5L691.1 292.1L681.9 287.0ZM681.9 287.0L691.1 292.1L697.6 283.8L688.4 278.6ZM625.8 375.7L635.1 380.9L641.6 372.5L632.4 367.3ZM618.2 419.4L627.5 424.6L634.0 416.3L624.8 411.1ZM692.7 341.1L702.0 346.3L708.5 337.9L699.3 332.7ZM695.5 354.6L704.7 359.8L711.2 351.5L702.0 346.3ZM710.7 471.3L720.0 476.4L726.5 468.1L717.2 462.9Z"/>
<path fill="#ee6246" d="M525.2 79.1L534.4 84.3L540.9 75.9L531.7 70.7ZM531.7 70.7L540.9 75.9L547.5 67.6L538.2 62.4ZM527.9 92.6L537.1 97.8L543.7 89.5L534.4 84.3ZM534.4 84.3L543.7 89.5L550.2 81.1L540.9 75.9ZM540.9 75.9L550.2 81.1L556.7 72.7L547.5 67.6ZM539.9 111.3L549.1 116.5L555.6 108.2L546.4 103.0ZM555.6 108.2L564.9 113.3L571.4 105.0L562.2 99.8ZM562.2 99.8L571.4 105.0L577.9 96.6L568.7 91.5ZM558.4 121.7L567.6 126.9L574.1 118.5L564.9 113.3ZM443.6 285.6L452.9 290.8L459.4 282.4L450.1 277.2ZM567.6 126.9L576.9 132.1L583.4 123.7L574.1 118.5ZM586.1 137.2L595.3 142.4L601.9 134.1L592.6 128.9ZM598.1 156.0L607.3 161.1L613.8 152.8L604.6 147.6ZM612.8 188.2L622.0 193.4L628.5 185.0L619.3 179.9ZM622.0 193.4L631.3 198.6L637.8 190.2L628.5 185.0ZM624.7 206.9L634.0 212.1L640.5 203.8L631.3 198.6ZM648.7 244.4L657.9 249.5L664.4 241.2L655.2 236.0ZM586.1 341.4L595.4 346.6L601.9 338.2L592.7 333.1ZM595.4 346.6L604.6 351.8L611.1 343.4L601.9 338.2ZM669.9 268.2L679.1 273.4L685.7 265.1L676.4 259.9ZM672.6 281.8L681.9 287.0L688.4 278.6L679.1 273.4ZM688.4 278.6L697.6 283.8L704.2 275.4L694.9 270.3ZM671.5 317.2L680.8 322.4L687.3 314.0L678.0 308.9ZM680.8 322.4L690.0 327.6L696.5 319.2L687.3 314.0ZM611.7 427.8L621.0 433.0L627.5 424.6L618.2 419.4ZM704.7 359.8L714.0 365.0L720.5 356.6L711.2 351.5ZM651.4 462.1L660.7 467.2L667.2 458.9L657.9 453.7ZM723.2 370.2L732.4 375.4L739.0 367.0L729.7 361.8ZM732.4 375.4L741.7 380.5L748.2 372.2L739.0 367.0Z"/>
<path fill="#ec5f43" d="M441.4 152.3L450.7 157.4L457.2 149.1L447.9 143.9ZM431.1 182.5L440.3 187.7L446.9 179.3L437.6 174.1ZM483.3 115.7L492.5 120.9L499.1 112.5L489.8 107.3ZM420.8 212.7L430.0 217.9L436.5 209.6L427.3 204.4ZM512.1 95.8L521.4 101.0L527.9 92.6L518.6 87.4ZM518.6 87.4L527.9 92.6L534.4 84.3L525.2 79.1ZM406.6 264.9L415.9 270.0L422.4 261.7L413.1 256.5ZM530.6 106.2L539.9 111.3L546.4 103.0L537.1 97.8ZM546.4 103.0L555.6 108.2L562.2 99.8L552.9 94.6ZM552.9 94.6L562.2 99.8L568.7 91.5L559.4 86.3ZM568.7 91.5L577.9 96.6L584.5 88.3L575.2 83.1ZM564.9 113.3L574.1 118.5L580.7 110.2L571.4 105.0ZM452.9 290.8L462.1 295.9L468.6 287.6L459.4 282.4ZM583.4 123.7L592.6 128.9L599.2 120.5L589.9 115.4ZM592.6 128.9L601.9 134.1L608.4 125.7L599.2 120.5ZM595.3 142.4L604.6 147.6L611.1 139.3L601.9 134.1ZM607.3 161.1L616.6 166.3L623.1 158.0L613.8 152.8ZM610.0 174.7L619.3 179.9L625.8 171.5L616.6 166.3ZM655.2 236.0L664.4 241.2L671.0 232.8L661.7 227.6ZM667.2 254.7L676.4 259.9L682.9 251.5L673.7 246.4ZM690.0 327.6L699.3 332.7L705.8 324.4L696.5 319.2ZM623.7 446.5L632.9 451.7L639.4 443.3L630.2 438.2ZM702.0 346.3L711.2 351.5L717.8 343.1L708.5 337.9ZM632.9 451.7L642.2 456.9L648.7 448.5L639.4 443.3ZM711.2 351.5L720.5 356.6L727.0 348.3L717.8 343.1ZM714.0 365.0L723.2 370.2L729.7 361.8L720.5 356.6ZM644.9 470.4L654.1 475.6L660.7 467.2L651.4 462.1ZM729.7 361.8L739.0 367.0L745.5 358.7L736.3 353.5ZM660.7 467.2L669.9 472.4L676.4 464.1L667.2 458.9ZM720.0 476.4L729.2 481.6L735.7 473.3L726.5 468.1Z"/>
<path fill="#ea5a3f" d="M434.9 160.6L444.1 165.8L450.7 157.4L441.4 152.3ZM447.9 143.9L457.2 149.1L463.7 140.7L454.5 135.6ZM461.0 127.2L470.2 132.4L476.8 124.0L467.5 118.8ZM489.8 107.3L499.1 112.5L505.6 104.1L496.3 99.0ZM496.3 99.0L505.6 104.1L512.1 95.8L502.9 90.6ZM537.1 97.8L546.4 103.0L552.9 94.6L543.7 89.5ZM543.7 89.5L552.9 94.6L559.4 86.3L550.2 81.1ZM550.2 81.1L559.4 86.3L566.0 77.9L556.7 72.7ZM559.4 86.3L568.7 91.5L575.2 83.1L566.0 77.9ZM571.4 105.0L580.7 110.2L587.2 101.8L577.9 96.6ZM574.1 118.5L583.4 123.7L589.9 115.4L580.7 110.2ZM580.7 110.2L589.9 115.4L596.4 107.0L587.2 101.8ZM589.9 115.4L599.2 120.5L605.7 112.2L596.4 107.0ZM462.1 295.9L471.4 301.1L477.9 292.8L468.6 287.6ZM599.2 120.5L608.4 125.7L614.9 117.4L605.7 112.2ZM471.4 301.1L480.6 306.3L487.1 298.0L477.9 292.8ZM489.8 311.5L499.1 316.7L505.6 308.3L496.4 303.1ZM517.6 327.0L526.8 332.2L533.4 323.9L524.1 318.7ZM634.0 212.1L643.2 217.3L649.7 208.9L640.5 203.8ZM657.9 249.5L667.2 254.7L673.7 246.4L664.4 241.2ZM673.7 246.4L682.9 251.5L689.5 243.2L680.2 238.0ZM604.6 351.8L613.9 357.0L620.4 348.6L611.1 343.4ZM613.9 357.0L623.1 362.1L629.6 353.8L620.4 348.6ZM679.1 273.4L688.4 278.6L694.9 270.3L685.7 265.1ZM619.3 384.0L628.6 389.2L635.1 380.9L625.8 375.7ZM678.0 308.9L687.3 314.0L693.8 305.7L684.6 300.5ZM684.6 300.5L693.8 305.7L700.3 297.3L691.1 292.1ZM691.1 292.1L700.3 297.3L706.9 289.0L697.6 283.8ZM615.5 405.9L624.8 411.1L631.3 402.7L622.0 397.6ZM622.0 397.6L631.3 402.7L637.8 394.4L628.6 389.2ZM687.3 314.0L696.5 319.2L703.1 310.9L693.8 305.7ZM700.3 297.3L709.6 302.5L716.1 294.2L706.9 289.0ZM607.9 449.7L617.1 454.9L623.7 446.5L614.4 441.3ZM614.4 441.3L623.7 446.5L630.2 438.2L621.0 433.0ZM699.3 332.7L708.5 337.9L715.0 329.6L705.8 324.4ZM617.1 454.9L626.4 460.0L632.9 451.7L623.7 446.5ZM626.4 460.0L635.6 465.2L642.2 456.9L632.9 451.7ZM635.6 465.2L644.9 470.4L651.4 462.1L642.2 456.9ZM642.2 456.9L651.4 462.1L657.9 453.7L648.7 448.5ZM720.5 356.6L729.7 361.8L736.3 353.5L727.0 348.3ZM654.1 475.6L663.4 480.8L669.9 472.4L660.7 467.2ZM704.2 479.6L713.4 484.8L720.0 476.4L710.7 471.3Z"/>
<path fill="#e9573d" d="M454.5 135.6L463.7 140.7L470.2 132.4L461.0 127.2ZM467.5 118.8L476.8 124.0L483.3 115.7L474.0 110.5ZM502.9 90.6L512.1 95.8L518.6 87.4L509.4 82.3ZM509.4 82.3L518.6 87.4L525.2 79.1L515.9 73.9ZM515.9 73.9L525.2 79.1L531.7 70.7L522.4 65.6ZM414.2 221.1L423.5 226.3L430.0 217.9L420.8 212.7ZM403.9 251.3L413.1 256.5L419.7 248.2L410.4 243.0ZM566.0 77.9L575.2 83.1L581.7 74.8L572.5 69.6ZM575.2 83.1L584.5 88.3L591.0 79.9L581.7 74.8ZM577.9 96.6L587.2 101.8L593.7 93.5L584.5 88.3ZM587.2 101.8L596.4 107.0L603.0 98.7L593.7 93.5ZM596.4 107.0L605.7 112.2L612.2 103.8L603.0 98.7ZM601.9 134.1L611.1 139.3L617.6 130.9L608.4 125.7ZM480.6 306.3L489.8 311.5L496.4 303.1L487.1 298.0ZM604.6 147.6L613.8 152.8L620.4 144.4L611.1 139.3ZM499.1 316.7L508.3 321.9L514.9 313.5L505.6 308.3ZM616.6 166.3L625.8 171.5L632.3 163.1L623.1 158.0ZM508.3 321.9L517.6 327.0L524.1 318.7L514.9 313.5ZM619.3 179.9L628.5 185.0L635.1 176.7L625.8 171.5ZM628.5 185.0L637.8 190.2L644.3 181.9L635.1 176.7ZM643.2 217.3L652.5 222.5L659.0 214.1L649.7 208.9ZM652.5 222.5L661.7 227.6L668.2 219.3L659.0 214.1ZM664.4 241.2L673.7 246.4L680.2 238.0L671.0 232.8ZM676.4 259.9L685.7 265.1L692.2 256.7L682.9 251.5ZM694.9 270.3L704.2 275.4L710.7 267.1L701.4 261.9ZM701.4 261.9L710.7 267.1L717.2 258.7L708.0 253.6ZM602.5 422.6L611.7 427.8L618.2 419.4L609.0 414.3ZM693.8 305.7L703.1 310.9L709.6 302.5L700.3 297.3ZM598.7 444.5L607.9 449.7L614.4 441.3L605.2 436.2ZM605.2 436.2L614.4 441.3L621.0 433.0L611.7 427.8ZM696.5 319.2L705.8 324.4L712.3 316.0L703.1 310.9ZM703.1 310.9L712.3 316.0L718.8 307.7L709.6 302.5ZM709.6 302.5L718.8 307.7L725.4 299.3L716.1 294.2ZM708.5 337.9L717.8 343.1L724.3 334.8L715.0 329.6ZM717.8 343.1L727.0 348.3L733.5 339.9L724.3 334.8ZM663.4 480.8L672.6 486.0L679.2 477.6L669.9 472.4ZM669.9 472.4L679.2 477.6L685.7 469.2L676.4 464.1ZM672.6 486.0L681.9 491.1L688.4 482.8L679.2 477.6ZM679.2 477.6L688.4 482.8L694.9 474.4L685.7 469.2ZM729.2 481.6L738.4 486.8L745.0 478.4L735.7 473.3Z"/>
<path fill="#e65239" d="M465.9 69.9L475.1 75.1L481.7 66.7L472.4 61.5ZM475.1 75.1L484.4 80.3L490.9 71.9L481.7 66.7ZM432.2 147.1L441.4 152.3L447.9 143.9L438.7 138.7ZM438.7 138.7L447.9 143.9L454.5 135.6L445.2 130.4ZM490.9 71.9L500.1 77.1L506.7 68.7L497.4 63.5ZM487.1 93.8L496.3 99.0L502.9 90.6L493.6 85.4ZM506.7 68.7L515.9 73.9L522.4 65.6L513.2 60.4ZM424.6 190.8L433.8 196.0L440.3 187.7L431.1 182.5ZM556.7 72.7L566.0 77.9L572.5 69.6L563.2 64.4ZM605.7 112.2L614.9 117.4L621.5 109.0L612.2 103.8ZM608.4 125.7L617.6 130.9L624.2 122.5L614.9 117.4ZM613.8 152.8L623.1 158.0L629.6 149.6L620.4 144.4ZM682.9 251.5L692.2 256.7L698.7 248.4L689.5 243.2ZM697.6 283.8L706.9 289.0L713.4 280.6L704.2 275.4ZM609.0 414.3L618.2 419.4L624.8 411.1L615.5 405.9ZM706.9 289.0L716.1 294.2L722.6 285.8L713.4 280.6ZM716.1 294.2L725.4 299.3L731.9 291.0L722.6 285.8ZM705.8 324.4L715.0 329.6L721.6 321.2L712.3 316.0ZM712.3 316.0L721.6 321.2L728.1 312.9L718.8 307.7ZM718.8 307.7L728.1 312.9L734.6 304.5L725.4 299.3ZM728.1 312.9L737.3 318.0L743.9 309.7L734.6 304.5ZM727.0 348.3L736.3 353.5L742.8 345.1L733.5 339.9ZM638.4 478.8L647.6 483.9L654.1 475.6L644.9 470.4ZM681.9 491.1L691.1 496.3L697.7 488.0L688.4 482.8ZM688.4 482.8L697.7 488.0L704.2 479.6L694.9 474.4Z"/>
<path fill="#e44d35" d="M413.7 136.7L422.9 141.9L429.4 133.5L420.2 128.4ZM459.4 78.2L468.6 83.4L475.1 75.1L465.9 69.9ZM422.9 141.9L432.2 147.1L438.7 138.7L429.4 133.5ZM468.6 83.4L477.9 88.6L484.4 80.3L475.1 75.1ZM425.6 155.4L434.9 160.6L441.4 152.3L432.2 147.1ZM451.7 122.0L461.0 127.2L467.5 118.8L458.3 113.7ZM484.4 80.3L493.6 85.4L500.1 77.1L490.9 71.9ZM428.4 169.0L437.6 174.1L444.1 165.8L434.9 160.6ZM474.0 110.5L483.3 115.7L489.8 107.3L480.6 102.1ZM480.6 102.1L489.8 107.3L496.3 99.0L487.1 93.8ZM493.6 85.4L502.9 90.6L509.4 82.3L500.1 77.1ZM500.1 77.1L509.4 82.3L515.9 73.9L506.7 68.7ZM409.3 278.4L418.6 283.6L425.1 275.2L415.9 270.0ZM572.5 69.6L581.7 74.8L588.3 66.4L579.0 61.2ZM418.6 283.6L427.8 288.8L434.4 280.4L425.1 275.2ZM581.7 74.8L591.0 79.9L597.5 71.6L588.3 66.4ZM584.5 88.3L593.7 93.5L600.2 85.1L591.0 79.9ZM593.7 93.5L603.0 98.7L609.5 90.3L600.2 85.1ZM603.0 98.7L612.2 103.8L618.7 95.5L609.5 90.3ZM614.9 117.4L624.2 122.5L630.7 114.2L621.5 109.0ZM611.1 139.3L620.4 144.4L626.9 136.1L617.6 130.9ZM625.8 171.5L635.1 176.7L641.6 168.3L632.3 163.1ZM635.1 176.7L644.3 181.9L650.8 173.5L641.6 168.3ZM631.3 198.6L640.5 203.8L647.0 195.4L637.8 190.2ZM661.7 227.6L671.0 232.8L677.5 224.5L668.2 219.3ZM334.3 680.7L343.6 685.9L350.1 677.5L340.9 672.4ZM680.2 238.0L689.5 243.2L696.0 234.8L686.7 229.7ZM685.7 265.1L694.9 270.3L701.4 261.9L692.2 256.7ZM692.2 256.7L701.4 261.9L708.0 253.6L698.7 248.4ZM589.4 439.3L598.7 444.5L605.2 436.2L595.9 431.0ZM719.9 272.3L729.2 277.4L735.7 269.1L726.5 263.9ZM729.2 277.4L738.4 282.6L744.9 274.3L735.7 269.1ZM601.4 458.0L610.6 463.2L617.1 454.9L607.9 449.7ZM725.4 299.3L734.6 304.5L741.1 296.2L731.9 291.0ZM610.6 463.2L619.9 468.4L626.4 460.0L617.1 454.9ZM715.0 329.6L724.3 334.8L730.8 326.4L721.6 321.2ZM721.6 321.2L730.8 326.4L737.3 318.0L728.1 312.9ZM734.6 304.5L743.9 309.7L750.4 301.3L741.1 296.2ZM619.9 468.4L629.1 473.6L635.6 465.2L626.4 460.0ZM724.3 334.8L733.5 339.9L740.1 331.6L730.8 326.4ZM730.8 326.4L740.1 331.6L746.6 323.2L737.3 318.0ZM618.8 503.8L628.0 509.0L634.6 500.7L625.3 495.5ZM625.3 495.5L634.6 500.7L641.1 492.3L631.8 487.1ZM631.8 487.1L641.1 492.3L647.6 483.9L638.4 478.8ZM647.6 483.9L656.9 489.1L663.4 480.8L654.1 475.6ZM713.4 484.8L722.7 490.0L729.2 481.6L720.0 476.4Z"/>
<path fill="#e24933" d="M445.2 130.4L454.5 135.6L461.0 127.2L451.7 122.0ZM477.9 88.6L487.1 93.8L493.6 85.4L484.4 80.3ZM407.7 229.4L417.0 234.6L423.5 226.3L414.2 221.1ZM397.4 259.7L406.6 264.9L413.1 256.5L403.9 251.3ZM612.2 103.8L621.5 109.0L628.0 100.7L618.7 95.5ZM617.6 130.9L626.9 136.1L633.4 127.7L624.2 122.5ZM620.4 144.4L629.6 149.6L636.1 141.3L626.9 136.1ZM623.1 158.0L632.3 163.1L638.9 154.8L629.6 149.6ZM526.8 332.2L536.1 337.4L542.6 329.0L533.4 323.9ZM640.5 203.8L649.7 208.9L656.3 200.6L647.0 195.4ZM659.0 214.1L668.2 219.3L674.8 210.9L665.5 205.8ZM606.3 400.7L615.5 405.9L622.0 397.6L612.8 392.4ZM704.2 275.4L713.4 280.6L719.9 272.3L710.7 267.1ZM710.7 267.1L719.9 272.3L726.5 263.9L717.2 258.7ZM595.9 431.0L605.2 436.2L611.7 427.8L602.5 422.6ZM713.4 280.6L722.6 285.8L729.2 277.4L719.9 272.3ZM592.1 452.9L601.4 458.0L607.9 449.7L598.7 444.5ZM722.6 285.8L731.9 291.0L738.4 282.6L729.2 277.4ZM594.8 466.4L604.1 471.6L610.6 463.2L601.4 458.0ZM604.1 471.6L613.3 476.8L619.9 468.4L610.6 463.2ZM613.3 476.8L622.6 481.9L629.1 473.6L619.9 468.4ZM609.5 498.6L618.8 503.8L625.3 495.5L616.1 490.3ZM622.6 481.9L631.8 487.1L638.4 478.8L629.1 473.6ZM629.1 473.6L638.4 478.8L644.9 470.4L635.6 465.2ZM733.5 339.9L742.8 345.1L749.3 336.8L740.1 331.6ZM628.0 509.0L637.3 514.2L643.8 505.8L634.6 500.7ZM634.6 500.7L643.8 505.8L650.3 497.5L641.1 492.3ZM641.1 492.3L650.3 497.5L656.9 489.1L647.6 483.9ZM656.9 489.1L666.1 494.3L672.6 486.0L663.4 480.8ZM666.1 494.3L675.4 499.5L681.9 491.1L672.6 486.0Z"/>
<path fill="#e0442f" d="M420.2 128.4L429.4 133.5L436.0 125.2L426.7 120.0ZM416.4 150.2L425.6 155.4L432.2 147.1L422.9 141.9ZM429.4 133.5L438.7 138.7L445.2 130.4L436.0 125.2ZM458.3 113.7L467.5 118.8L474.0 110.5L464.8 105.3ZM427.8 288.8L437.1 293.9L443.6 285.6L434.4 280.4ZM591.0 79.9L600.2 85.1L606.8 76.8L597.5 71.6ZM626.9 136.1L636.1 141.3L642.7 132.9L633.4 127.7ZM637.8 190.2L647.0 195.4L653.6 187.0L644.3 181.9ZM536.1 337.4L545.3 342.6L551.9 334.2L542.6 329.0ZM649.7 208.9L659.0 214.1L665.5 205.8L656.3 200.6ZM671.0 232.8L680.2 238.0L686.7 229.7L677.5 224.5ZM689.5 243.2L698.7 248.4L705.2 240.0L696.0 234.8ZM375.1 679.6L384.4 684.7L390.9 676.4L381.7 671.2ZM381.7 671.2L390.9 676.4L397.4 668.0L388.2 662.8ZM708.0 253.6L717.2 258.7L723.7 250.4L714.5 245.2ZM593.2 417.4L602.5 422.6L609.0 414.3L599.7 409.1ZM612.8 392.4L622.0 397.6L628.6 389.2L619.3 384.0ZM585.6 461.2L594.8 466.4L601.4 458.0L592.1 452.9ZM731.9 291.0L741.1 296.2L747.7 287.8L738.4 282.6ZM616.1 490.3L625.3 495.5L631.8 487.1L622.6 481.9ZM650.3 497.5L659.6 502.7L666.1 494.3L656.9 489.1ZM659.6 502.7L668.8 507.8L675.4 499.5L666.1 494.3ZM675.4 499.5L684.6 504.7L691.1 496.3L681.9 491.1ZM697.7 488.0L706.9 493.1L713.4 484.8L704.2 479.6Z"/>
<path fill="#df412c" d="M395.2 126.4L404.4 131.5L411.0 123.2L401.7 118.0ZM437.1 89.8L446.3 94.9L452.8 86.6L443.6 81.4ZM407.1 145.1L416.4 150.2L422.9 141.9L413.7 136.7ZM452.8 86.6L462.1 91.8L468.6 83.4L459.4 78.2ZM471.3 97.0L480.6 102.1L487.1 93.8L477.9 88.6ZM401.2 237.8L410.4 243.0L417.0 234.6L407.7 229.4ZM597.5 71.6L606.8 76.8L613.3 68.4L604.0 63.2ZM437.1 293.9L446.3 299.1L452.9 290.8L443.6 285.6ZM600.2 85.1L609.5 90.3L616.0 81.9L606.8 76.8ZM606.8 76.8L616.0 81.9L622.5 73.6L613.3 68.4ZM609.5 90.3L618.7 95.5L625.3 87.1L616.0 81.9ZM621.5 109.0L630.7 114.2L637.2 105.8L628.0 100.7ZM624.2 122.5L633.4 127.7L639.9 119.4L630.7 114.2ZM629.6 149.6L638.9 154.8L645.4 146.4L636.1 141.3ZM632.3 163.1L641.6 168.3L648.1 160.0L638.9 154.8ZM641.6 168.3L650.8 173.5L657.4 165.2L648.1 160.0ZM293.5 681.9L302.8 687.1L309.3 678.7L300.1 673.5ZM300.1 673.5L309.3 678.7L315.8 670.4L306.6 665.2ZM306.6 665.2L315.8 670.4L322.4 662.0L313.1 656.8ZM665.5 205.8L674.8 210.9L681.3 202.6L672.0 197.4ZM309.3 678.7L318.6 683.9L325.1 675.5L315.8 670.4ZM315.8 670.4L325.1 675.5L331.6 667.2L322.4 662.0ZM668.2 219.3L677.5 224.5L684.0 216.1L674.8 210.9ZM325.1 675.5L334.3 680.7L340.9 672.4L331.6 667.2ZM343.6 685.9L352.8 691.1L359.4 682.7L350.1 677.5ZM698.7 248.4L708.0 253.6L714.5 245.2L705.2 240.0ZM599.7 409.1L609.0 414.3L615.5 405.9L606.3 400.7ZM582.9 447.7L592.1 452.9L598.7 444.5L589.4 439.3ZM726.5 263.9L735.7 269.1L742.2 260.7L733.0 255.6ZM606.8 485.1L616.1 490.3L622.6 481.9L613.3 476.8ZM612.3 512.2L621.5 517.4L628.0 509.0L618.8 503.8ZM637.3 514.2L646.5 519.4L653.1 511.0L643.8 505.8ZM643.8 505.8L653.1 511.0L659.6 502.7L650.3 497.5ZM646.5 519.4L655.8 524.5L662.3 516.2L653.1 511.0ZM653.1 511.0L662.3 516.2L668.8 507.8L659.6 502.7ZM655.8 524.5L665.0 529.7L671.6 521.4L662.3 516.2ZM662.3 516.2L671.6 521.4L678.1 513.0L668.8 507.8ZM668.8 507.8L678.1 513.0L684.6 504.7L675.4 499.5ZM691.1 496.3L700.4 501.5L706.9 493.1L697.7 488.0ZM722.7 490.0L731.9 495.2L738.4 486.8L729.2 481.6Z"/>
<path fill="#dc3c28" d="M401.7 118.0L411.0 123.2L417.5 114.8L408.2 109.6ZM414.8 101.3L424.0 106.5L430.5 98.1L421.3 92.9ZM427.8 84.6L437.1 89.8L443.6 81.4L434.3 76.2ZM404.4 131.5L413.7 136.7L420.2 128.4L411.0 123.2ZM411.0 123.2L420.2 128.4L426.7 120.0L417.5 114.8ZM424.0 106.5L433.3 111.7L439.8 103.3L430.5 98.1ZM430.5 98.1L439.8 103.3L446.3 94.9L437.1 89.8ZM443.6 81.4L452.8 86.6L459.4 78.2L450.1 73.1ZM450.1 73.1L459.4 78.2L465.9 69.9L456.6 64.7ZM446.3 94.9L455.6 100.1L462.1 91.8L452.8 86.6ZM442.5 116.8L451.7 122.0L458.3 113.7L449.0 108.5ZM462.1 91.8L471.3 97.0L477.9 88.6L468.6 83.4ZM419.1 163.8L428.4 169.0L434.9 160.6L425.6 155.4ZM464.8 105.3L474.0 110.5L480.6 102.1L471.3 97.0ZM421.8 177.3L431.1 182.5L437.6 174.1L428.4 169.0ZM446.3 299.1L455.6 304.3L462.1 295.9L452.9 290.8ZM616.0 81.9L625.3 87.1L631.8 78.8L622.5 73.6ZM618.7 95.5L628.0 100.7L634.5 92.3L625.3 87.1ZM633.4 127.7L642.7 132.9L649.2 124.6L639.9 119.4ZM636.1 141.3L645.4 146.4L651.9 138.1L642.7 132.9ZM648.1 160.0L657.4 165.2L663.9 156.8L654.6 151.6ZM644.3 181.9L653.6 187.0L660.1 178.7L650.8 173.5ZM647.0 195.4L656.3 200.6L662.8 192.2L653.6 187.0ZM672.0 197.4L681.3 202.6L687.8 194.2L678.6 189.1ZM340.9 672.4L350.1 677.5L356.6 669.2L347.4 664.0ZM686.7 229.7L696.0 234.8L702.5 226.5L693.3 221.3ZM350.1 677.5L359.4 682.7L365.9 674.4L356.6 669.2ZM356.6 669.2L365.9 674.4L372.4 666.0L363.2 660.8ZM365.9 674.4L375.1 679.6L381.7 671.2L372.4 666.0ZM616.6 370.5L625.8 375.7L632.4 367.3L623.1 362.1ZM580.2 434.1L589.4 439.3L595.9 431.0L586.7 425.8ZM717.2 258.7L726.5 263.9L733.0 255.6L723.7 250.4ZM621.5 517.4L630.8 522.5L637.3 514.2L628.0 509.0Z"/>
<path fill="#db3926" d="M385.9 121.2L395.2 126.4L401.7 118.0L392.5 112.8ZM392.5 112.8L401.7 118.0L408.2 109.6L399.0 104.5ZM388.7 134.7L397.9 139.9L404.4 131.5L395.2 126.4ZM408.2 109.6L417.5 114.8L424.0 106.5L414.8 101.3ZM421.3 92.9L430.5 98.1L437.1 89.8L427.8 84.6ZM434.3 76.2L443.6 81.4L450.1 73.1L440.9 67.9ZM433.3 111.7L442.5 116.8L449.0 108.5L439.8 103.3ZM439.8 103.3L449.0 108.5L455.6 100.1L446.3 94.9ZM436.0 125.2L445.2 130.4L451.7 122.0L442.5 116.8ZM418.0 199.2L427.3 204.4L433.8 196.0L424.6 190.8ZM400.1 273.2L409.3 278.4L415.9 270.0L406.6 264.9ZM412.1 291.9L421.3 297.1L427.8 288.8L418.6 283.6ZM613.3 68.4L622.5 73.6L629.1 65.2L619.8 60.1ZM622.5 73.6L631.8 78.8L638.3 70.4L629.1 65.2ZM625.3 87.1L634.5 92.3L641.0 84.0L631.8 78.8ZM630.7 114.2L639.9 119.4L646.5 111.0L637.2 105.8ZM642.7 132.9L651.9 138.1L658.4 129.7L649.2 124.6ZM638.9 154.8L648.1 160.0L654.6 151.6L645.4 146.4ZM645.4 146.4L654.6 151.6L661.2 143.3L651.9 138.1ZM654.6 151.6L663.9 156.8L670.4 148.5L661.2 143.3ZM653.6 187.0L662.8 192.2L669.3 183.9L660.1 178.7ZM284.3 676.7L293.5 681.9L300.1 673.5L290.8 668.3ZM656.3 200.6L665.5 205.8L672.0 197.4L662.8 192.2ZM302.8 687.1L312.0 692.2L318.6 683.9L309.3 678.7ZM674.8 210.9L684.0 216.1L690.5 207.8L681.3 202.6ZM318.6 683.9L327.8 689.1L334.3 680.7L325.1 675.5ZM677.5 224.5L686.7 229.7L693.3 221.3L684.0 216.1ZM327.8 689.1L337.1 694.2L343.6 685.9L334.3 680.7ZM347.4 664.0L356.6 669.2L363.2 660.8L353.9 655.7ZM693.3 221.3L702.5 226.5L709.0 218.1L699.8 212.9ZM372.4 666.0L381.7 671.2L388.2 662.8L378.9 657.7ZM368.6 687.9L377.9 693.1L384.4 684.7L375.1 679.6ZM714.5 245.2L723.7 250.4L730.3 242.0L721.0 236.8ZM384.4 684.7L393.6 689.9L400.2 681.6L390.9 676.4ZM390.9 676.4L400.2 681.6L406.7 673.2L397.4 668.0ZM586.7 425.8L595.9 431.0L602.5 422.6L593.2 417.4ZM400.2 681.6L409.4 686.7L415.9 678.4L406.7 673.2ZM576.4 456.0L585.6 461.2L592.1 452.9L582.9 447.7ZM409.4 686.7L418.6 691.9L425.2 683.6L415.9 678.4ZM605.7 520.5L615.0 525.7L621.5 517.4L612.3 512.2ZM684.6 504.7L693.8 509.8L700.4 501.5L691.1 496.3Z"/>
<path fill="#d93422" d="M397.9 139.9L407.1 145.1L413.7 136.7L404.4 131.5ZM417.5 114.8L426.7 120.0L433.3 111.7L424.0 106.5ZM400.6 153.4L409.9 158.6L416.4 150.2L407.1 145.1ZM426.7 120.0L436.0 125.2L442.5 116.8L433.3 111.7ZM409.9 158.6L419.1 163.8L425.6 155.4L416.4 150.2ZM449.0 108.5L458.3 113.7L464.8 105.3L455.6 100.1ZM411.5 207.6L420.8 212.7L427.3 204.4L418.0 199.2ZM394.7 246.1L403.9 251.3L410.4 243.0L401.2 237.8ZM402.8 286.8L412.1 291.9L418.6 283.6L409.3 278.4ZM421.3 297.1L430.6 302.3L437.1 293.9L427.8 288.8ZM455.6 304.3L464.8 309.5L471.4 301.1L462.1 295.9ZM631.8 78.8L641.0 84.0L647.6 75.6L638.3 70.4ZM464.8 309.5L474.1 314.7L480.6 306.3L471.4 301.1ZM628.0 100.7L637.2 105.8L643.8 97.5L634.5 92.3ZM639.9 119.4L649.2 124.6L655.7 116.2L646.5 111.0ZM661.2 143.3L670.4 148.5L676.9 140.1L667.7 134.9ZM262.0 688.2L271.2 693.4L277.8 685.0L268.5 679.9ZM277.8 685.0L287.0 690.2L293.5 681.9L284.3 676.7ZM290.8 668.3L300.1 673.5L306.6 665.2L297.3 660.0ZM551.9 334.2L561.1 339.4L567.6 331.1L558.4 325.9ZM662.8 192.2L672.0 197.4L678.6 189.1L669.3 183.9ZM678.6 189.1L687.8 194.2L694.3 185.9L685.1 180.7ZM681.3 202.6L690.5 207.8L697.1 199.4L687.8 194.2ZM699.8 212.9L709.0 218.1L715.6 209.8L706.3 204.6ZM363.2 660.8L372.4 666.0L378.9 657.7L369.7 652.5ZM696.0 234.8L705.2 240.0L711.8 231.7L702.5 226.5ZM359.4 682.7L368.6 687.9L375.1 679.6L365.9 674.4ZM388.2 662.8L397.4 668.0L404.0 659.7L394.7 654.5ZM733.0 255.6L742.2 260.7L748.8 252.4L739.5 247.2ZM615.0 525.7L624.2 530.9L630.8 522.5L621.5 517.4ZM630.8 522.5L640.0 527.7L646.5 519.4L637.3 514.2ZM640.0 527.7L649.3 532.9L655.8 524.5L646.5 519.4ZM649.3 532.9L658.5 538.1L665.0 529.7L655.8 524.5ZM665.0 529.7L674.3 534.9L680.8 526.6L671.6 521.4ZM671.6 521.4L680.8 526.6L687.3 518.2L678.1 513.0ZM678.1 513.0L687.3 518.2L693.8 509.8L684.6 504.7ZM700.4 501.5L709.6 506.7L716.1 498.3L706.9 493.1ZM706.9 493.1L716.1 498.3L722.7 490.0L713.4 484.8ZM731.9 495.2L741.2 500.3L747.7 492.0L738.4 486.8Z"/>
<path fill="#d62f1e" d="M383.2 107.6L392.5 112.8L399.0 104.5L389.7 99.3ZM379.4 129.5L388.7 134.7L395.2 126.4L385.9 121.2ZM399.0 104.5L408.2 109.6L414.8 101.3L405.5 96.1ZM455.6 100.1L464.8 105.3L471.3 97.0L462.1 91.8ZM430.6 302.3L439.8 307.5L446.3 299.1L437.1 293.9ZM634.5 92.3L643.8 97.5L650.3 89.1L641.0 84.0ZM483.3 319.8L492.6 325.0L499.1 316.7L489.8 311.5ZM492.6 325.0L501.8 330.2L508.3 321.9L499.1 316.7ZM651.9 138.1L661.2 143.3L667.7 134.9L658.4 129.7ZM650.8 173.5L660.1 178.7L666.6 170.3L657.4 165.2ZM268.5 679.9L277.8 685.0L284.3 676.7L275.0 671.5ZM685.1 180.7L694.3 185.9L700.9 177.5L691.6 172.3ZM691.6 172.3L700.9 177.5L707.4 169.2L698.2 164.0ZM331.6 667.2L340.9 672.4L347.4 664.0L338.1 658.8ZM684.0 216.1L693.3 221.3L699.8 212.9L690.5 207.8ZM702.5 226.5L711.8 231.7L718.3 223.3L709.0 218.1ZM705.2 240.0L714.5 245.2L721.0 236.8L711.8 231.7ZM721.0 236.8L730.3 242.0L736.8 233.7L727.5 228.5ZM723.7 250.4L733.0 255.6L739.5 247.2L730.3 242.0ZM674.3 534.9L683.5 540.1L690.0 531.7L680.8 526.6ZM683.5 540.1L692.8 545.3L699.3 536.9L690.0 531.7Z"/>
<path fill="#d42c1c" d="M405.5 96.1L414.8 101.3L421.3 92.9L412.0 87.8ZM405.0 215.9L414.2 221.1L420.8 212.7L411.5 207.6ZM439.8 307.5L449.1 312.7L455.6 304.3L446.3 299.1ZM638.3 70.4L647.6 75.6L654.1 67.2L644.8 62.1ZM641.0 84.0L650.3 89.1L656.8 80.8L647.6 75.6ZM474.1 314.7L483.3 319.8L489.8 311.5L480.6 306.3ZM637.2 105.8L646.5 111.0L653.0 102.7L643.8 97.5ZM649.2 124.6L658.4 129.7L665.0 121.4L655.7 116.2ZM501.8 330.2L511.1 335.4L517.6 327.0L508.3 321.9ZM243.5 677.9L252.7 683.0L259.3 674.7L250.0 669.5ZM511.1 335.4L520.3 340.6L526.8 332.2L517.6 327.0ZM667.7 134.9L676.9 140.1L683.5 131.7L674.2 126.6ZM252.7 683.0L262.0 688.2L268.5 679.9L259.3 674.7ZM657.4 165.2L666.6 170.3L673.1 162.0L663.9 156.8ZM275.0 671.5L284.3 676.7L290.8 668.3L281.6 663.2ZM660.1 178.7L669.3 183.9L675.9 175.5L666.6 170.3ZM297.3 660.0L306.6 665.2L313.1 656.8L303.9 651.6ZM669.3 183.9L678.6 189.1L685.1 180.7L675.9 175.5ZM287.0 690.2L296.3 695.4L302.8 687.1L293.5 681.9ZM322.4 662.0L331.6 667.2L338.1 658.8L328.9 653.6ZM687.8 194.2L697.1 199.4L703.6 191.1L694.3 185.9ZM694.3 185.9L703.6 191.1L710.1 182.7L700.9 177.5ZM690.5 207.8L699.8 212.9L706.3 204.6L697.1 199.4ZM353.9 655.7L363.2 660.8L369.7 652.5L360.4 647.3ZM706.3 204.6L715.6 209.8L722.1 201.4L712.8 196.2ZM712.8 196.2L722.1 201.4L728.6 193.1L719.4 187.9ZM709.0 218.1L718.3 223.3L724.8 215.0L715.6 209.8ZM727.5 228.5L736.8 233.7L743.3 225.3L734.1 220.1ZM397.4 668.0L406.7 673.2L413.2 664.9L404.0 659.7ZM393.6 689.9L402.9 695.1L409.4 686.7L400.2 681.6ZM406.7 673.2L415.9 678.4L422.5 670.0L413.2 664.9ZM624.2 530.9L633.5 536.1L640.0 527.7L630.8 522.5ZM633.5 536.1L642.7 541.3L649.3 532.9L640.0 527.7ZM642.7 541.3L652.0 546.4L658.5 538.1L649.3 532.9ZM658.5 538.1L667.7 543.3L674.3 534.9L665.0 529.7ZM680.8 526.6L690.0 531.7L696.6 523.4L687.3 518.2ZM687.3 518.2L696.6 523.4L703.1 515.0L693.8 509.8ZM693.8 509.8L703.1 515.0L709.6 506.7L700.4 501.5ZM690.0 531.7L699.3 536.9L705.8 528.6L696.6 523.4ZM716.1 498.3L725.4 503.5L731.9 495.2L722.7 490.0ZM679.7 562.0L689.0 567.2L695.5 558.8L686.2 553.6ZM692.8 545.3L702.0 550.5L708.5 542.1L699.3 536.9Z"/>
<path fill="#d12719" d="M389.7 99.3L399.0 104.5L405.5 96.1L396.3 90.9ZM425.1 71.1L434.3 76.2L440.9 67.9L431.6 62.7ZM382.1 143.1L391.4 148.2L397.9 139.9L388.7 134.7ZM391.4 148.2L400.6 153.4L407.1 145.1L397.9 139.9ZM415.3 185.7L424.6 190.8L431.1 182.5L421.8 177.3ZM388.1 254.5L397.4 259.7L403.9 251.3L394.7 246.1ZM390.8 268.0L400.1 273.2L406.6 264.9L397.4 259.7ZM393.6 281.6L402.8 286.8L409.3 278.4L400.1 273.2ZM643.8 97.5L653.0 102.7L659.5 94.3L650.3 89.1ZM646.5 111.0L655.7 116.2L662.2 107.9L653.0 102.7ZM658.4 129.7L667.7 134.9L674.2 126.6L665.0 121.4ZM663.9 156.8L673.1 162.0L679.7 153.6L670.4 148.5ZM281.6 663.2L290.8 668.3L297.3 660.0L288.1 654.8ZM666.6 170.3L675.9 175.5L682.4 167.2L673.1 162.0ZM673.1 162.0L682.4 167.2L688.9 158.8L679.7 153.6ZM675.9 175.5L685.1 180.7L691.6 172.3L682.4 167.2ZM682.4 167.2L691.6 172.3L698.2 164.0L688.9 158.8ZM698.2 164.0L707.4 169.2L713.9 160.8L704.7 155.6ZM700.9 177.5L710.1 182.7L716.6 174.4L707.4 169.2ZM338.1 658.8L347.4 664.0L353.9 655.7L344.7 650.5ZM697.1 199.4L706.3 204.6L712.8 196.2L703.6 191.1ZM719.4 187.9L728.6 193.1L735.1 184.7L725.9 179.5ZM378.9 657.7L388.2 662.8L394.7 654.5L385.5 649.3ZM711.8 231.7L721.0 236.8L727.5 228.5L718.3 223.3ZM573.6 442.5L582.9 447.7L589.4 439.3L580.2 434.1ZM730.3 242.0L739.5 247.2L746.0 238.9L736.8 233.7ZM415.9 678.4L425.2 683.6L431.7 675.2L422.5 670.0ZM667.7 543.3L677.0 548.4L683.5 540.1L674.3 534.9ZM670.5 556.8L679.7 562.0L686.2 553.6L677.0 548.4ZM677.0 548.4L686.2 553.6L692.8 545.3L683.5 540.1ZM696.6 523.4L705.8 528.6L712.3 520.2L703.1 515.0ZM709.6 506.7L718.9 511.9L725.4 503.5L716.1 498.3ZM686.2 553.6L695.5 558.8L702.0 550.5L692.8 545.3ZM699.3 536.9L708.5 542.1L715.1 533.7L705.8 528.6ZM702.0 550.5L711.3 555.6L717.8 547.3L708.5 542.1Z"/>
<path fill="#ce2417" d="M396.3 90.9L405.5 96.1L412.0 87.8L402.8 82.6ZM372.9 137.9L382.1 143.1L388.7 134.7L379.4 129.5ZM394.1 161.8L403.3 167.0L409.9 158.6L400.6 153.4ZM412.6 172.1L421.8 177.3L428.4 169.0L419.1 163.8ZM398.5 224.3L407.7 229.4L414.2 221.1L405.0 215.9ZM449.1 312.7L458.3 317.8L464.8 309.5L455.6 304.3ZM458.3 317.8L467.5 323.0L474.1 314.7L464.8 309.5ZM647.6 75.6L656.8 80.8L663.3 72.4L654.1 67.2ZM650.3 89.1L659.5 94.3L666.1 86.0L656.8 80.8ZM653.0 102.7L662.2 107.9L668.8 99.5L659.5 94.3ZM655.7 116.2L665.0 121.4L671.5 113.0L662.2 107.9ZM670.4 148.5L679.7 153.6L686.2 145.3L676.9 140.1ZM679.7 153.6L688.9 158.8L695.4 150.5L686.2 145.3ZM688.9 158.8L698.2 164.0L704.7 155.6L695.4 150.5ZM313.1 656.8L322.4 662.0L328.9 653.6L319.6 648.5ZM707.4 169.2L716.6 174.4L723.2 166.0L713.9 160.8ZM703.6 191.1L712.8 196.2L719.4 187.9L710.1 182.7ZM710.1 182.7L719.4 187.9L725.9 179.5L716.6 174.4ZM725.9 179.5L735.1 184.7L741.7 176.4L732.4 171.2ZM715.6 209.8L724.8 215.0L731.3 206.6L722.1 201.4ZM722.1 201.4L731.3 206.6L737.9 198.3L728.6 193.1ZM728.6 193.1L737.9 198.3L744.4 189.9L735.1 184.7ZM718.3 223.3L727.5 228.5L734.1 220.1L724.8 215.0ZM394.7 654.5L404.0 659.7L410.5 651.3L401.2 646.1ZM734.1 220.1L743.3 225.3L749.8 217.0L740.6 211.8ZM608.5 534.1L617.7 539.2L624.2 530.9L615.0 525.7ZM652.0 546.4L661.2 551.6L667.7 543.3L658.5 538.1ZM661.2 551.6L670.5 556.8L677.0 548.4L667.7 543.3ZM703.1 515.0L712.3 520.2L718.9 511.9L709.6 506.7ZM673.2 570.3L682.4 575.5L689.0 567.2L679.7 562.0ZM689.0 567.2L698.2 572.3L704.7 564.0L695.5 558.8ZM698.2 572.3L707.5 577.5L714.0 569.2L704.7 564.0ZM711.3 555.6L720.5 560.8L727.0 552.5L717.8 547.3ZM707.5 577.5L716.7 582.7L723.2 574.3L714.0 569.2ZM720.5 560.8L729.8 566.0L736.3 557.6L727.0 552.5Z"/>
<path fill="#cb2015" d="M376.7 116.0L385.9 121.2L392.5 112.8L383.2 107.6ZM418.6 79.4L427.8 84.6L434.3 76.2L425.1 71.1ZM375.6 151.4L384.8 156.6L391.4 148.2L382.1 143.1ZM403.3 167.0L412.6 172.1L419.1 163.8L409.9 158.6ZM476.8 328.2L486.0 333.4L492.6 325.0L483.3 319.8ZM659.5 94.3L668.8 99.5L675.3 91.1L666.1 86.0ZM662.2 107.9L671.5 113.0L678.0 104.7L668.8 99.5ZM237.0 686.2L246.2 691.4L252.7 683.0L243.5 677.9ZM250.0 669.5L259.3 674.7L265.8 666.3L256.5 661.2ZM674.2 126.6L683.5 131.7L690.0 123.4L680.7 118.2ZM680.7 118.2L690.0 123.4L696.5 115.0L687.3 109.9ZM259.3 674.7L268.5 679.9L275.0 671.5L265.8 666.3ZM520.3 340.6L529.6 345.8L536.1 337.4L526.8 332.2ZM288.1 654.8L297.3 660.0L303.9 651.6L294.6 646.5ZM704.7 155.6L713.9 160.8L720.5 152.5L711.2 147.3ZM328.9 653.6L338.1 658.8L344.7 650.5L335.4 645.3ZM716.6 174.4L725.9 179.5L732.4 171.2L723.2 166.0ZM732.4 171.2L741.7 176.4L748.2 168.0L738.9 162.8ZM369.7 652.5L378.9 657.7L385.5 649.3L376.2 644.1ZM735.1 184.7L744.4 189.9L750.9 181.5L741.7 176.4ZM352.8 691.1L362.1 696.3L368.6 687.9L359.4 682.7ZM610.1 378.8L619.3 384.0L625.8 375.7L616.6 370.5ZM425.2 683.6L434.4 688.7L440.9 680.4L431.7 675.2ZM663.9 565.1L673.2 570.3L679.7 562.0L670.5 556.8ZM705.8 528.6L715.1 533.7L721.6 525.4L712.3 520.2ZM682.4 575.5L691.7 580.7L698.2 572.3L689.0 567.2ZM695.5 558.8L704.7 564.0L711.3 555.6L702.0 550.5ZM708.5 542.1L717.8 547.3L724.3 538.9L715.1 533.7ZM704.7 564.0L714.0 569.2L720.5 560.8L711.3 555.6ZM714.0 569.2L723.2 574.3L729.8 566.0L720.5 560.8ZM726.0 587.9L735.2 593.1L741.7 584.7L732.5 579.5Z"/>
<path fill="#c91d13" d="M387.0 85.8L396.3 90.9L402.8 82.6L393.5 77.4ZM412.0 87.8L421.3 92.9L427.8 84.6L418.6 79.4ZM384.8 156.6L394.1 161.8L400.6 153.4L391.4 148.2ZM467.5 323.0L476.8 328.2L483.3 319.8L474.1 314.7ZM656.8 80.8L666.1 86.0L672.6 77.6L663.3 72.4ZM666.1 86.0L675.3 91.1L681.8 82.8L672.6 77.6ZM486.0 333.4L495.3 338.6L501.8 330.2L492.6 325.0ZM668.8 99.5L678.0 104.7L684.5 96.3L675.3 91.1ZM665.0 121.4L674.2 126.6L680.7 118.2L671.5 113.0ZM671.5 113.0L680.7 118.2L687.3 109.9L678.0 104.7ZM678.0 104.7L687.3 109.9L693.8 101.5L684.5 96.3ZM687.3 109.9L696.5 115.0L703.0 106.7L693.8 101.5ZM265.8 666.3L275.0 671.5L281.6 663.2L272.3 658.0ZM676.9 140.1L686.2 145.3L692.7 136.9L683.5 131.7ZM686.2 145.3L695.4 150.5L702.0 142.1L692.7 136.9ZM695.4 150.5L704.7 155.6L711.2 147.3L702.0 142.1ZM713.9 160.8L723.2 166.0L729.7 157.7L720.5 152.5ZM724.8 215.0L734.1 220.1L740.6 211.8L731.3 206.6ZM731.3 206.6L740.6 211.8L747.1 203.4L737.9 198.3ZM404.0 659.7L413.2 664.9L419.7 656.5L410.5 651.3ZM413.2 664.9L422.5 670.0L429.0 661.7L419.7 656.5ZM603.0 507.0L612.3 512.2L618.8 503.8L609.5 498.6ZM617.7 539.2L627.0 544.4L633.5 536.1L624.2 530.9ZM627.0 544.4L636.2 549.6L642.7 541.3L633.5 536.1ZM636.2 549.6L645.4 554.8L652.0 546.4L642.7 541.3ZM666.7 578.7L675.9 583.9L682.4 575.5L673.2 570.3ZM718.9 511.9L728.1 517.0L734.6 508.7L725.4 503.5ZM725.4 503.5L734.6 508.7L741.2 500.3L731.9 495.2ZM675.9 583.9L685.2 589.0L691.7 580.7L682.4 575.5ZM685.2 589.0L694.4 594.2L700.9 585.9L691.7 580.7ZM691.7 580.7L700.9 585.9L707.5 577.5L698.2 572.3ZM717.8 547.3L727.0 552.5L733.6 544.1L724.3 538.9ZM687.9 602.6L697.1 607.8L703.7 599.4L694.4 594.2ZM694.4 594.2L703.7 599.4L710.2 591.1L700.9 585.9ZM700.9 585.9L710.2 591.1L716.7 582.7L707.5 577.5ZM727.0 552.5L736.3 557.6L742.8 549.3L733.6 544.1ZM716.7 582.7L726.0 587.9L732.5 579.5L723.2 574.3ZM729.8 566.0L739.0 571.2L745.5 562.8L736.3 557.6ZM706.4 612.9L715.6 618.1L722.1 609.8L712.9 604.6ZM712.9 604.6L722.1 609.8L728.7 601.4L719.4 596.2ZM719.4 596.2L728.7 601.4L735.2 593.1L726.0 587.9ZM732.5 579.5L741.7 584.7L748.3 576.4L739.0 571.2ZM724.9 623.3L734.1 628.5L740.6 620.1L731.4 614.9Z"/>
<path fill="#c51810" d="M366.4 146.2L375.6 151.4L382.1 143.1L372.9 137.9ZM391.9 232.6L401.2 237.8L407.7 229.4L398.5 224.3ZM384.3 276.4L393.6 281.6L400.1 273.2L390.8 268.0ZM405.5 300.3L414.8 305.5L421.3 297.1L412.1 291.9ZM663.3 72.4L672.6 77.6L679.1 69.3L669.9 64.1ZM672.6 77.6L681.8 82.8L688.3 74.4L679.1 69.3ZM675.3 91.1L684.5 96.3L691.1 88.0L681.8 82.8ZM681.8 82.8L691.1 88.0L697.6 79.6L688.3 74.4ZM495.3 338.6L504.5 343.7L511.1 335.4L501.8 330.2ZM504.5 343.7L513.8 348.9L520.3 340.6L511.1 335.4ZM693.8 101.5L703.0 106.7L709.6 98.3L700.3 93.2ZM700.3 93.2L709.6 98.3L716.1 90.0L706.8 84.8ZM529.6 345.8L538.8 350.9L545.3 342.6L536.1 337.4ZM545.3 342.6L554.6 347.8L561.1 339.4L551.9 334.2ZM711.2 147.3L720.5 152.5L727.0 144.1L717.7 138.9ZM717.7 138.9L727.0 144.1L733.5 135.8L724.3 130.6ZM723.2 166.0L732.4 171.2L738.9 162.8L729.7 157.7ZM584.0 412.3L593.2 417.4L599.7 409.1L590.5 403.9ZM590.5 403.9L599.7 409.1L606.3 400.7L597.0 395.6ZM597.0 395.6L606.3 400.7L612.8 392.4L603.5 387.2ZM603.5 387.2L612.8 392.4L619.3 384.0L610.1 378.8ZM422.5 670.0L431.7 675.2L438.2 666.9L429.0 661.7ZM645.4 554.8L654.7 560.0L661.2 551.6L652.0 546.4ZM654.7 560.0L663.9 565.1L670.5 556.8L661.2 551.6ZM657.4 573.5L666.7 578.7L673.2 570.3L663.9 565.1ZM660.1 587.0L669.4 592.2L675.9 583.9L666.7 578.7ZM712.3 520.2L721.6 525.4L728.1 517.0L718.9 511.9ZM669.4 592.2L678.6 597.4L685.2 589.0L675.9 583.9ZM715.1 533.7L724.3 538.9L730.8 530.6L721.6 525.4ZM678.6 597.4L687.9 602.6L694.4 594.2L685.2 589.0ZM703.7 599.4L712.9 604.6L719.4 596.2L710.2 591.1ZM710.2 591.1L719.4 596.2L726.0 587.9L716.7 582.7ZM723.2 574.3L732.5 579.5L739.0 571.2L729.8 566.0ZM699.8 621.3L709.1 626.5L715.6 618.1L706.4 612.9ZM735.2 593.1L744.4 598.2L751.0 589.9L741.7 584.7ZM731.4 614.9L740.6 620.1L747.2 611.8L737.9 606.6Z"/>
<path fill="#c3150e" d="M393.5 77.4L402.8 82.6L409.3 74.2L400.1 69.0ZM409.3 74.2L418.6 79.4L425.1 71.1L415.8 65.9ZM396.3 295.1L405.5 300.3L412.1 291.9L402.8 286.8ZM414.8 305.5L424.0 310.6L430.6 302.3L421.3 297.1ZM684.5 96.3L693.8 101.5L700.3 93.2L691.1 88.0ZM691.1 88.0L700.3 93.2L706.8 84.8L697.6 79.6ZM256.5 661.2L265.8 666.3L272.3 658.0L263.1 652.8ZM272.3 658.0L281.6 663.2L288.1 654.8L278.8 649.6ZM683.5 131.7L692.7 136.9L699.2 128.6L690.0 123.4ZM690.0 123.4L699.2 128.6L705.8 120.2L696.5 115.0ZM692.7 136.9L702.0 142.1L708.5 133.8L699.2 128.6ZM699.2 128.6L708.5 133.8L715.0 125.4L705.8 120.2ZM561.1 339.4L570.4 344.6L576.9 336.2L567.6 331.1ZM724.3 130.6L733.5 135.8L740.0 127.4L730.8 122.2ZM727.0 144.1L736.2 149.3L742.8 140.9L733.5 135.8ZM344.7 650.5L353.9 655.7L360.4 647.3L351.2 642.1ZM360.4 647.3L369.7 652.5L376.2 644.1L367.0 638.9ZM385.5 649.3L394.7 654.5L401.2 646.1L392.0 641.0ZM597.6 479.9L606.8 485.1L613.3 476.8L604.1 471.6ZM600.3 493.5L609.5 498.6L616.1 490.3L606.8 485.1ZM681.4 610.9L690.6 616.1L697.1 607.8L687.9 602.6ZM697.1 607.8L706.4 612.9L712.9 604.6L703.7 599.4ZM715.6 618.1L724.9 623.3L731.4 614.9L722.1 609.8ZM722.1 609.8L731.4 614.9L737.9 606.6L728.7 601.4ZM728.7 601.4L737.9 606.6L744.4 598.2L735.2 593.1Z"/>
<path fill="#c0110b" d="M402.8 82.6L412.0 87.8L418.6 79.4L409.3 74.2ZM369.1 159.8L378.3 164.9L384.8 156.6L375.6 151.4ZM387.6 170.1L396.8 175.3L403.3 167.0L394.1 161.8ZM424.0 310.6L433.3 315.8L439.8 307.5L430.6 302.3ZM433.3 315.8L442.5 321.0L449.1 312.7L439.8 307.5ZM679.1 69.3L688.3 74.4L694.9 66.1L685.6 60.9ZM696.5 115.0L705.8 120.2L712.3 111.9L703.0 106.7ZM705.8 120.2L715.0 125.4L721.5 117.0L712.3 111.9ZM702.0 142.1L711.2 147.3L717.7 138.9L708.5 133.8ZM708.5 133.8L717.7 138.9L724.3 130.6L715.0 125.4ZM715.0 125.4L724.3 130.6L730.8 122.2L721.5 117.0ZM319.6 648.5L328.9 653.6L335.4 645.3L326.2 640.1ZM730.8 122.2L740.0 127.4L746.6 119.1L737.3 113.9ZM720.5 152.5L729.7 157.7L736.2 149.3L727.0 144.1ZM733.5 135.8L742.8 140.9L749.3 132.6L740.0 127.4ZM434.4 688.7L443.7 693.9L450.2 685.6L440.9 680.4ZM601.9 542.4L611.2 547.6L617.7 539.2L608.5 534.1ZM629.7 558.0L638.9 563.1L645.4 554.8L636.2 549.6ZM648.2 568.3L657.4 573.5L663.9 565.1L654.7 560.0ZM650.9 581.9L660.1 587.0L666.7 578.7L657.4 573.5ZM672.1 605.7L681.4 610.9L687.9 602.6L678.6 597.4ZM724.3 538.9L733.6 544.1L740.1 535.8L730.8 530.6ZM733.6 544.1L742.8 549.3L749.3 540.9L740.1 535.8ZM690.6 616.1L699.8 621.3L706.4 612.9L697.1 607.8ZM709.1 626.5L718.3 631.7L724.9 623.3L715.6 618.1ZM734.1 628.5L743.4 633.7L749.9 625.3L740.6 620.1Z"/>
<path fill="#bc0c08" d="M400.1 69.0L409.3 74.2L415.8 65.9L406.6 60.7ZM378.3 164.9L387.6 170.1L394.1 161.8L384.8 156.6ZM408.8 194.0L418.0 199.2L424.6 190.8L415.3 185.7ZM385.4 241.0L394.7 246.1L401.2 237.8L391.9 232.6ZM381.6 262.9L390.8 268.0L397.4 259.7L388.1 254.5ZM442.5 321.0L451.8 326.2L458.3 317.8L449.1 312.7ZM451.8 326.2L461.0 331.4L467.5 323.0L458.3 317.8ZM688.3 74.4L697.6 79.6L704.1 71.3L694.9 66.1ZM234.3 672.7L243.5 677.9L250.0 669.5L240.8 664.3ZM706.8 84.8L716.1 90.0L722.6 81.6L713.4 76.4ZM713.4 76.4L722.6 81.6L729.1 73.3L719.9 68.1ZM703.0 106.7L712.3 111.9L718.8 103.5L709.6 98.3ZM709.6 98.3L718.8 103.5L725.3 95.2L716.1 90.0ZM712.3 111.9L721.5 117.0L728.1 108.7L718.8 103.5ZM303.9 651.6L313.1 656.8L319.6 648.5L310.4 643.3ZM570.4 344.6L579.6 349.8L586.1 341.4L576.9 336.2ZM729.7 157.7L738.9 162.8L745.5 154.5L736.2 149.3ZM588.8 354.9L598.1 360.1L604.6 351.8L595.4 346.6ZM577.4 420.6L586.7 425.8L593.2 417.4L584.0 412.3ZM567.1 450.8L576.4 456.0L582.9 447.7L573.6 442.5ZM431.7 675.2L440.9 680.4L447.5 672.0L438.2 666.9ZM611.2 547.6L620.4 552.8L627.0 544.4L617.7 539.2ZM620.4 552.8L629.7 558.0L636.2 549.6L627.0 544.4ZM638.9 563.1L648.2 568.3L654.7 560.0L645.4 554.8ZM653.6 595.4L662.9 600.6L669.4 592.2L660.1 587.0ZM662.9 600.6L672.1 605.7L678.6 597.4L669.4 592.2ZM665.6 614.1L674.8 619.3L681.4 610.9L672.1 605.7ZM674.8 619.3L684.1 624.5L690.6 616.1L681.4 610.9Z"/>
<path fill="#ba0906" d="M384.3 72.2L393.5 77.4L400.1 69.0L390.8 63.9ZM395.7 210.7L405.0 215.9L411.5 207.6L402.3 202.4ZM402.3 202.4L411.5 207.6L418.0 199.2L408.8 194.0ZM461.0 331.4L470.3 336.6L476.8 328.2L467.5 323.0ZM470.3 336.6L479.5 341.7L486.0 333.4L476.8 328.2ZM697.6 79.6L706.8 84.8L713.4 76.4L704.1 71.3ZM704.1 71.3L713.4 76.4L719.9 68.1L710.6 62.9ZM263.1 652.8L272.3 658.0L278.8 649.6L269.6 644.4ZM246.2 691.4L255.5 696.6L262.0 688.2L252.7 683.0ZM278.8 649.6L288.1 654.8L294.6 646.5L285.4 641.3ZM513.8 348.9L523.0 354.1L529.6 345.8L520.3 340.6ZM523.0 354.1L532.3 359.3L538.8 350.9L529.6 345.8ZM718.8 103.5L728.1 108.7L734.6 100.3L725.3 95.2ZM721.5 117.0L730.8 122.2L737.3 113.9L728.1 108.7ZM728.1 108.7L737.3 113.9L743.8 105.5L734.6 100.3ZM376.2 644.1L385.5 649.3L392.0 641.0L382.7 635.8ZM588.3 474.7L597.6 479.9L604.1 471.6L594.8 466.4ZM599.2 528.9L608.5 534.1L615.0 525.7L605.7 520.5ZM721.6 525.4L730.8 530.6L737.4 522.2L728.1 517.0ZM728.1 517.0L737.4 522.2L743.9 513.9L734.6 508.7ZM684.1 624.5L693.3 629.6L699.8 621.3L690.6 616.1Z"/>
<path fill="#b70503" d="M380.5 94.1L389.7 99.3L396.3 90.9L387.0 85.8ZM389.2 219.1L398.5 224.3L405.0 215.9L395.7 210.7ZM387.0 289.9L396.3 295.1L402.8 286.8L393.6 281.6ZM479.5 341.7L488.8 346.9L495.3 338.6L486.0 333.4ZM227.7 681.0L237.0 686.2L243.5 677.9L234.3 672.7ZM240.8 664.3L250.0 669.5L256.5 661.2L247.3 656.0ZM719.9 68.1L729.1 73.3L735.7 64.9L726.4 59.7ZM335.4 645.3L344.7 650.5L351.2 642.1L341.9 636.9ZM579.6 349.8L588.8 354.9L595.4 346.6L586.1 341.4ZM598.1 360.1L607.3 365.3L613.9 357.0L604.6 351.8ZM607.3 365.3L616.6 370.5L623.1 362.1L613.9 357.0ZM401.2 646.1L410.5 651.3L417.0 643.0L407.8 637.8ZM569.8 464.4L579.1 469.6L585.6 461.2L576.4 456.0ZM623.1 566.3L632.4 571.5L638.9 563.1L629.7 558.0ZM632.4 571.5L641.6 576.7L648.2 568.3L638.9 563.1ZM641.6 576.7L650.9 581.9L657.4 573.5L648.2 568.3ZM649.8 617.3L659.1 622.5L665.6 614.1L656.3 608.9ZM656.3 608.9L665.6 614.1L672.1 605.7L662.9 600.6ZM734.6 508.7L743.9 513.9L750.4 505.5L741.2 500.3ZM659.1 622.5L668.3 627.6L674.8 619.3L665.6 614.1ZM730.8 530.6L740.1 535.8L746.6 527.4L737.4 522.2Z"/>
<path fill="#b40201" d="M370.2 124.3L379.4 129.5L385.9 121.2L376.7 116.0ZM406.1 180.5L415.3 185.7L421.8 177.3L412.6 172.1ZM378.9 249.3L388.1 254.5L394.7 246.1L385.4 241.0ZM399.0 308.6L408.3 313.8L414.8 305.5L405.5 300.3ZM426.8 324.2L436.0 329.4L442.5 321.0L433.3 315.8ZM436.0 329.4L445.2 334.5L451.8 326.2L442.5 321.0ZM445.2 334.5L454.5 339.7L461.0 331.4L451.8 326.2ZM488.8 346.9L498.0 352.1L504.5 343.7L495.3 338.6ZM498.0 352.1L507.3 357.3L513.8 348.9L504.5 343.7ZM716.1 90.0L725.3 95.2L731.9 86.8L722.6 81.6ZM722.6 81.6L731.9 86.8L738.4 78.5L729.1 73.3ZM725.3 95.2L734.6 100.3L741.1 92.0L731.9 86.8ZM731.9 86.8L741.1 92.0L747.6 83.6L738.4 78.5ZM538.8 350.9L548.1 356.1L554.6 347.8L545.3 342.6ZM734.6 100.3L743.8 105.5L750.4 97.2L741.1 92.0ZM579.1 469.6L588.3 474.7L594.8 466.4L585.6 461.2ZM440.9 680.4L450.2 685.6L456.7 677.2L447.5 672.0ZM644.4 590.2L653.6 595.4L660.1 587.0L650.9 581.9ZM640.6 612.1L649.8 617.3L656.3 608.9L647.1 603.7ZM647.1 603.7L656.3 608.9L662.9 600.6L653.6 595.4ZM668.3 627.6L677.5 632.8L684.1 624.5L674.8 619.3ZM693.3 629.6L702.6 634.8L709.1 626.5L699.8 621.3Z"/>
<path fill="#b00000" d="M359.8 154.6L369.1 159.8L375.6 151.4L366.4 146.2ZM362.5 168.1L371.8 173.3L378.3 164.9L369.1 159.8ZM396.8 175.3L406.1 180.5L412.6 172.1L403.3 167.0ZM382.7 227.4L391.9 232.6L398.5 224.3L389.2 219.1ZM408.3 313.8L417.5 319.0L424.0 310.6L414.8 305.5ZM417.5 319.0L426.8 324.2L433.3 315.8L424.0 310.6ZM454.5 339.7L463.7 344.9L470.3 336.6L461.0 331.4ZM463.7 344.9L473.0 350.1L479.5 341.7L470.3 336.6ZM221.2 689.4L230.4 694.6L237.0 686.2L227.7 681.0ZM247.3 656.0L256.5 661.2L263.1 652.8L253.8 647.6ZM351.2 642.1L360.4 647.3L367.0 638.9L357.7 633.8ZM367.0 638.9L376.2 644.1L382.7 635.8L373.5 630.6ZM419.7 656.5L429.0 661.7L435.5 653.3L426.3 648.1ZM429.0 661.7L438.2 666.9L444.7 658.5L435.5 653.3ZM613.9 561.1L623.1 566.3L629.7 558.0L620.4 552.8Z"/>
<path fill="#ad0000" d="M371.8 173.3L381.0 178.5L387.6 170.1L378.3 164.9ZM381.0 178.5L390.3 183.7L396.8 175.3L387.6 170.1ZM375.1 271.2L384.3 276.4L390.8 268.0L381.6 262.9ZM377.8 284.7L387.0 289.9L393.6 281.6L384.3 276.4ZM389.8 303.5L399.0 308.6L405.5 300.3L396.3 295.1ZM473.0 350.1L482.2 355.3L488.8 346.9L479.5 341.7ZM482.2 355.3L491.5 360.4L498.0 352.1L488.8 346.9ZM491.5 360.4L500.7 365.6L507.3 357.3L498.0 352.1ZM507.3 357.3L516.5 362.5L523.0 354.1L513.8 348.9ZM729.1 73.3L738.4 78.5L744.9 70.1L735.7 64.9ZM294.6 646.5L303.9 651.6L310.4 643.3L301.1 638.1ZM570.9 429.0L580.2 434.1L586.7 425.8L577.4 420.6ZM410.5 651.3L419.7 656.5L426.3 648.1L417.0 643.0ZM604.7 555.9L613.9 561.1L620.4 552.8L611.2 547.6ZM635.1 585.0L644.4 590.2L650.9 581.9L641.6 576.7ZM718.3 631.7L727.6 636.8L734.1 628.5L724.9 623.3Z"/>
<path fill="#a80000" d="M516.5 362.5L525.8 367.6L532.3 359.3L523.0 354.1ZM310.4 643.3L319.6 648.5L326.2 640.1L316.9 634.9ZM532.3 359.3L541.5 364.5L548.1 356.1L538.8 350.9ZM392.0 641.0L401.2 646.1L407.8 637.8L398.5 632.6ZM450.2 685.6L459.4 690.8L466.0 682.4L456.7 677.2ZM625.9 579.8L635.1 585.0L641.6 576.7L632.4 571.5ZM637.8 598.6L647.1 603.7L653.6 595.4L644.4 590.2Z"/>
<path fill="#a50000" d="M356.0 176.5L365.3 181.7L371.8 173.3L362.5 168.1ZM365.3 181.7L374.5 186.8L381.0 178.5L371.8 173.3ZM380.0 213.9L389.2 219.1L395.7 210.7L386.5 205.5ZM376.2 235.8L385.4 241.0L391.9 232.6L382.7 227.4ZM500.7 365.6L510.0 370.8L516.5 362.5L507.3 357.3ZM510.0 370.8L519.2 376.0L525.8 367.6L516.5 362.5ZM326.2 640.1L335.4 645.3L341.9 636.9L332.7 631.8ZM616.6 574.7L625.9 579.8L632.4 571.5L623.1 566.3ZM631.3 606.9L640.6 612.1L647.1 603.7L637.8 598.6Z"/>
<path fill="#a00000" d="M374.5 186.8L383.8 192.0L390.3 183.7L381.0 178.5ZM373.4 222.3L382.7 227.4L389.2 219.1L380.0 213.9ZM386.5 205.5L395.7 210.7L402.3 202.4L393.0 197.2ZM372.4 257.7L381.6 262.9L388.1 254.5L378.9 249.3ZM380.5 298.3L389.8 303.5L396.3 295.1L387.0 289.9ZM420.2 332.5L429.5 337.7L436.0 329.4L426.8 324.2ZM429.5 337.7L438.7 342.9L445.2 334.5L436.0 329.4ZM438.7 342.9L448.0 348.1L454.5 339.7L445.2 334.5ZM448.0 348.1L457.2 353.3L463.7 344.9L454.5 339.7ZM457.2 353.3L466.5 358.4L473.0 350.1L463.7 344.9ZM466.5 358.4L475.7 363.6L482.2 355.3L473.0 350.1ZM475.7 363.6L485.0 368.8L491.5 360.4L482.2 355.3ZM478.4 377.2L487.7 382.3L494.2 374.0L485.0 368.8ZM485.0 368.8L494.2 374.0L500.7 365.6L491.5 360.4ZM487.7 382.3L496.9 387.5L503.5 379.2L494.2 374.0ZM496.9 387.5L506.2 392.7L512.7 384.3L503.5 379.2ZM503.5 379.2L512.7 384.3L519.2 376.0L510.0 370.8ZM382.7 635.8L392.0 641.0L398.5 632.6L389.3 627.4ZM438.2 666.9L447.5 672.0L454.0 663.7L444.7 658.5ZM596.5 515.3L605.7 520.5L612.3 512.2L603.0 507.0ZM607.4 569.5L616.6 574.7L623.1 566.3L613.9 561.1ZM628.6 593.4L637.8 598.6L644.4 590.2L635.1 585.0ZM634.0 620.4L643.3 625.6L649.8 617.3L640.6 612.1Z"/>
<path fill="#9b0000" d="M358.7 190.0L368.0 195.2L374.5 186.8L365.3 181.7ZM368.0 195.2L377.2 200.4L383.8 192.0L374.5 186.8ZM370.7 208.7L380.0 213.9L386.5 205.5L377.2 200.4ZM369.6 244.1L378.9 249.3L385.4 241.0L376.2 235.8ZM64.5 685.7L73.8 690.9L80.3 682.5L71.1 677.3ZM411.0 327.4L420.2 332.5L426.8 324.2L417.5 319.0ZM432.2 351.2L441.4 356.4L448.0 348.1L438.7 342.9ZM441.4 356.4L450.7 361.6L457.2 353.3L448.0 348.1ZM450.7 361.6L459.9 366.8L466.5 358.4L457.2 353.3ZM459.9 366.8L469.2 372.0L475.7 363.6L466.5 358.4ZM469.2 372.0L478.4 377.2L485.0 368.8L475.7 363.6ZM471.9 385.5L481.2 390.7L487.7 382.3L478.4 377.2ZM494.2 374.0L503.5 379.2L510.0 370.8L500.7 365.6ZM499.7 401.0L508.9 406.2L515.4 397.9L506.2 392.7ZM506.2 392.7L515.4 397.9L522.0 389.5L512.7 384.3ZM595.4 550.8L604.7 555.9L611.2 547.6L601.9 542.4ZM598.1 564.3L607.4 569.5L613.9 561.1L604.7 555.9ZM619.3 588.2L628.6 593.4L635.1 585.0L625.9 579.8ZM624.8 615.3L634.0 620.4L640.6 612.1L631.3 606.9ZM643.3 625.6L652.5 630.8L659.1 622.5L649.8 617.3Z"/>
<path fill="#970000" d="M374.0 102.5L383.2 107.6L389.7 99.3L380.5 94.1ZM363.6 132.7L372.9 137.9L379.4 129.5L370.2 124.3ZM361.5 203.5L370.7 208.7L377.2 200.4L368.0 195.2ZM364.2 217.1L373.4 222.3L380.0 213.9L370.7 208.7ZM377.2 200.4L386.5 205.5L393.0 197.2L383.8 192.0ZM366.9 230.6L376.2 235.8L382.7 227.4L373.4 222.3ZM48.8 688.9L58.0 694.0L64.5 685.7L55.3 680.5ZM55.3 680.5L64.5 685.7L71.1 677.3L61.8 672.1ZM61.8 672.1L71.1 677.3L77.6 669.0L68.4 663.8ZM68.4 663.8L77.6 669.0L84.1 660.6L74.9 655.4ZM71.1 677.3L80.3 682.5L86.8 674.2L77.6 669.0ZM77.6 669.0L86.8 674.2L93.4 665.8L84.1 660.6ZM73.8 690.9L83.0 696.0L89.6 687.7L80.3 682.5ZM105.3 684.5L114.6 689.7L121.1 681.3L111.9 676.2ZM392.5 317.0L401.7 322.2L408.3 313.8L399.0 308.6ZM401.7 322.2L411.0 327.4L417.5 319.0L408.3 313.8ZM413.7 340.9L422.9 346.1L429.5 337.7L420.2 332.5ZM422.9 346.1L432.2 351.2L438.7 342.9L429.5 337.7ZM218.5 675.8L227.7 681.0L234.3 672.7L225.0 667.5ZM453.4 375.1L462.7 380.3L469.2 372.0L459.9 366.8ZM462.7 380.3L471.9 385.5L478.4 377.2L469.2 372.0ZM269.6 644.4L278.8 649.6L285.4 641.3L276.1 636.1ZM465.4 393.9L474.6 399.0L481.2 390.7L471.9 385.5ZM481.2 390.7L490.4 395.9L496.9 387.5L487.7 382.3ZM490.4 395.9L499.7 401.0L506.2 392.7L496.9 387.5ZM341.9 636.9L351.2 642.1L357.7 633.8L348.5 628.6ZM447.5 672.0L456.7 677.2L463.2 668.9L454.0 663.7ZM610.1 583.0L619.3 588.2L625.9 579.8L616.6 574.7ZM622.1 601.7L631.3 606.9L637.8 598.6L628.6 593.4ZM652.5 630.8L661.8 636.0L668.3 627.6L659.1 622.5ZM677.5 632.8L686.8 638.0L693.3 629.6L684.1 624.5Z"/>
<path fill="#930000" d="M393.0 197.2L402.3 202.4L408.8 194.0L399.5 188.8ZM399.5 188.8L408.8 194.0L415.3 185.7L406.1 180.5ZM49.9 653.4L59.1 658.6L65.6 650.3L56.4 645.1ZM52.6 667.0L61.8 672.1L68.4 663.8L59.1 658.6ZM59.1 658.6L68.4 663.8L74.9 655.4L65.6 650.3ZM80.3 682.5L89.6 687.7L96.1 679.3L86.8 674.2ZM86.8 674.2L96.1 679.3L102.6 671.0L93.4 665.8ZM89.6 687.7L98.8 692.9L105.3 684.5L96.1 679.3ZM96.1 679.3L105.3 684.5L111.9 676.2L102.6 671.0ZM383.2 311.8L392.5 317.0L399.0 308.6L389.8 303.5ZM404.5 335.7L413.7 340.9L420.2 332.5L411.0 327.4ZM434.9 364.8L444.2 370.0L450.7 361.6L441.4 356.4ZM444.2 370.0L453.4 375.1L459.9 366.8L450.7 361.6ZM212.0 684.2L221.2 689.4L227.7 681.0L218.5 675.8ZM225.0 667.5L234.3 672.7L240.8 664.3L231.5 659.1ZM446.9 383.5L456.1 388.7L462.7 380.3L453.4 375.1ZM253.8 647.6L263.1 652.8L269.6 644.4L260.4 639.3ZM456.1 388.7L465.4 393.9L471.9 385.5L462.7 380.3ZM474.6 399.0L483.9 404.2L490.4 395.9L481.2 390.7ZM483.9 404.2L493.1 409.4L499.7 401.0L490.4 395.9ZM493.1 409.4L502.4 414.6L508.9 406.2L499.7 401.0ZM525.8 367.6L535.0 372.8L541.5 364.5L532.3 359.3ZM564.4 437.3L573.6 442.5L580.2 434.1L570.9 429.0ZM560.6 459.2L569.8 464.4L576.4 456.0L567.1 450.8ZM612.8 596.6L622.1 601.7L628.6 593.4L619.3 588.2Z"/>
<path fill="#8f0000" d="M353.3 162.9L362.5 168.1L369.1 159.8L359.8 154.6ZM383.8 192.0L393.0 197.2L399.5 188.8L390.3 183.7ZM395.2 330.5L404.5 335.7L411.0 327.4L401.7 322.2ZM416.4 354.4L425.7 359.6L432.2 351.2L422.9 346.1ZM425.7 359.6L434.9 364.8L441.4 356.4L432.2 351.2ZM428.4 373.1L437.6 378.3L444.2 370.0L434.9 364.8ZM437.6 378.3L446.9 383.5L453.4 375.1L444.2 370.0ZM231.5 659.1L240.8 664.3L247.3 656.0L238.1 650.8ZM285.4 641.3L294.6 646.5L301.1 638.1L291.9 632.9ZM512.7 384.3L522.0 389.5L528.5 381.2L519.2 376.0ZM357.7 633.8L367.0 638.9L373.5 630.6L364.2 625.4ZM600.8 577.8L610.1 583.0L616.6 574.7L607.4 569.5ZM603.6 591.4L612.8 596.6L619.3 588.2L610.1 583.0ZM615.5 610.1L624.8 615.3L631.3 606.9L622.1 601.7ZM702.6 634.8L711.8 640.0L718.3 631.7L709.1 626.5Z"/>
<path fill="#8a0000" d="M377.8 80.6L387.0 85.8L393.5 77.4L384.3 72.2ZM352.2 198.4L361.5 203.5L368.0 195.2L358.7 190.0ZM354.9 211.9L364.2 217.1L370.7 208.7L361.5 203.5ZM357.7 225.4L366.9 230.6L373.4 222.3L364.2 217.1ZM390.3 183.7L399.5 188.8L406.1 180.5L396.8 175.3ZM360.4 239.0L369.6 244.1L376.2 235.8L366.9 230.6ZM365.8 266.0L375.1 271.2L381.6 262.9L372.4 257.7ZM368.5 279.6L377.8 284.7L384.3 276.4L375.1 271.2ZM386.0 325.3L395.2 330.5L401.7 322.2L392.5 317.0ZM407.2 349.2L416.4 354.4L422.9 346.1L413.7 340.9ZM409.9 362.8L419.1 368.0L425.7 359.6L416.4 354.4ZM419.1 368.0L428.4 373.1L434.9 364.8L425.7 359.6ZM449.6 397.0L458.9 402.2L465.4 393.9L456.1 388.7ZM458.9 402.2L468.1 407.4L474.6 399.0L465.4 393.9ZM301.1 638.1L310.4 643.3L316.9 634.9L307.7 629.7ZM373.5 630.6L382.7 635.8L389.3 627.4L380.0 622.2ZM407.8 637.8L417.0 643.0L423.5 634.6L414.3 629.4ZM456.7 677.2L466.0 682.4L472.5 674.1L463.2 668.9ZM593.8 501.8L603.0 507.0L609.5 498.6L600.3 493.5ZM606.3 604.9L615.5 610.1L622.1 601.7L612.8 596.6ZM609.0 618.4L618.3 623.6L624.8 615.3L615.5 610.1ZM618.3 623.6L627.5 628.8L634.0 620.4L624.8 615.3ZM627.5 628.8L636.8 634.0L643.3 625.6L634.0 620.4Z"/>
<path fill="#870000" d="M367.4 110.8L376.7 116.0L383.2 107.6L374.0 102.5ZM349.5 184.8L358.7 190.0L365.3 181.7L356.0 176.5ZM363.1 252.5L372.4 257.7L378.9 249.3L369.6 244.1ZM371.3 293.1L380.5 298.3L387.0 289.9L377.8 284.7ZM397.9 344.1L407.2 349.2L413.7 340.9L404.5 335.7ZM400.6 357.6L409.9 362.8L416.4 354.4L407.2 349.2ZM238.1 650.8L247.3 656.0L253.8 647.6L244.6 642.4ZM440.4 391.8L449.6 397.0L456.1 388.7L446.9 383.5ZM316.9 634.9L326.2 640.1L332.7 631.8L323.4 626.6ZM519.2 376.0L528.5 381.2L535.0 372.8L525.8 367.6ZM417.0 643.0L426.3 648.1L432.8 639.8L423.5 634.6ZM426.3 648.1L435.5 653.3L442.0 645.0L432.8 639.8ZM459.4 690.8L468.7 695.9L475.2 687.6L466.0 682.4ZM592.7 537.2L601.9 542.4L608.5 534.1L599.2 528.9ZM594.3 586.2L603.6 591.4L610.1 583.0L600.8 577.8ZM597.0 599.7L606.3 604.9L612.8 596.6L603.6 591.4ZM599.8 613.3L609.0 618.4L615.5 610.1L606.3 604.9ZM636.8 634.0L646.0 639.2L652.5 630.8L643.3 625.6ZM661.8 636.0L671.0 641.2L677.5 632.8L668.3 627.6ZM727.6 636.8L736.8 642.0L743.4 633.7L734.1 628.5Z"/>
<path fill="#820000" d="M357.1 141.0L366.4 146.2L372.9 137.9L363.6 132.7ZM388.7 338.9L397.9 344.1L404.5 335.7L395.2 330.5ZM391.4 352.4L400.6 357.6L407.2 349.2L397.9 344.1ZM431.1 386.7L440.4 391.8L446.9 383.5L437.6 378.3ZM468.1 407.4L477.4 412.6L483.9 404.2L474.6 399.0ZM398.5 632.6L407.8 637.8L414.3 629.4L405.0 624.3ZM435.5 653.3L444.7 658.5L451.3 650.2L442.0 645.0ZM602.5 626.8L611.7 632.0L618.3 623.6L609.0 618.4ZM611.7 632.0L621.0 637.2L627.5 628.8L618.3 623.6ZM686.8 638.0L696.0 643.2L702.6 634.8L693.3 629.6Z"/>
<path fill="#b40201" d="M581.0 471.5L600.0 485.3L770.0 580.5L771.7 577.5L601.7 482.2L582.7 468.4Z"/><path fill="#7f0000" d="M567.0 465.0L581.0 471.5L600.0 485.3L770.0 580.5L770.0 720.0L556.0 720.0L560.0 470.0Z"/>
<path fill="none" stroke="#000" stroke-width="0.78" stroke-linejoin="round" d="M186.3 78.7L185.0 80.1L183.5 81.0L181.7 81.4L179.9 82.2L178.8 83.2L176.9 82.6L175.3 83.2L173.6 83.8L172.3 84.3L170.3 85.0L168.9 85.6L167.0 86.1L166.2 87.6L164.3 88.2L164.0 90.3L162.5 91.5L161.5 93.0L161.6 95.1L163.2 96.0L164.3 97.9L165.3 99.4L167.1 99.7L166.0 101.3L164.3 102.1L162.7 102.8L161.5 102.4L158.9 103.1L157.9 103.3L156.1 103.5L154.3 104.5L152.6 104.4L150.6 105.2L148.5 105.4L147.2 106.3L146.0 107.9L145.1 109.7L146.9 110.5L148.8 110.7L150.7 110.7L152.0 111.0L153.2 109.6L155.2 109.7L156.5 110.5L158.2 109.7L159.7 110.7L160.0 112.9L161.6 114.3L162.3 115.8L163.4 117.4L164.6 118.6L166.7 118.8L168.0 119.8L170.1 119.3L171.8 120.0L173.5 120.2L175.0 119.2L177.2 119.9L178.9 118.5L180.2 117.5L182.2 117.9L184.0 117.4L185.3 117.4L187.1 117.2L189.3 117.2L190.8 116.7L192.1 117.2L193.6 117.4L191.7 118.1L189.9 118.4L188.1 118.9L187.1 119.8L185.5 119.6L183.4 120.4L181.7 120.7L180.9 122.0L179.2 122.3L178.0 123.5L176.8 124.3L175.3 125.3L173.5 126.2L171.7 127.2L170.7 128.9L171.1 131.4L171.6 132.6L172.8 134.5L174.4 135.3L174.6 136.8L175.3 138.1L173.4 138.9L171.6 139.9L169.8 140.9L167.9 140.0L166.1 140.8L164.3 141.1L163.1 141.4L161.3 140.9L159.7 141.7L158.0 142.0L156.1 142.8L154.3 143.0L153.1 144.1L152.4 145.4L150.3 145.7L148.6 146.6L146.9 146.7L145.1 146.8L143.4 147.0L142.5 147.8L140.5 148.1L138.8 148.9L136.9 149.6L137.0 151.1L137.8 152.7L138.5 154.7L139.6 156.4L139.7 158.3L138.7 160.0L139.7 161.4L141.5 162.4L142.6 161.0L144.2 160.6L145.1 159.4L146.0 158.2L147.3 158.3L149.1 157.3L150.6 157.3L152.1 156.9L153.8 156.5L155.4 155.7L157.0 155.5L158.8 155.5L160.0 154.5L161.4 153.7L163.4 154.0L164.7 153.9L167.5 154.8L168.9 153.4L170.5 153.1L172.2 152.3L173.9 151.3L175.6 150.3L174.2 149.4L172.9 148.0L171.8 146.7L173.4 146.2L175.1 146.0L176.7 144.8L178.2 144.1L179.9 144.5L181.7 144.7L183.6 143.5L185.3 143.4L187.1 142.9L189.2 142.8L190.8 142.8L192.5 142.3L194.1 142.0L196.5 142.2L198.1 141.9L199.6 140.8L200.8 139.2L202.5 138.6L202.8 136.5L204.5 135.3L205.5 133.5L206.8 133.7L208.2 133.1L207.4 131.5L207.3 129.9L208.4 128.9L209.6 128.0L210.9 127.1L212.0 125.8L213.3 124.3L214.6 122.9L216.5 122.3L217.2 120.7L218.7 119.9L220.1 118.9L221.5 117.8L223.3 118.3L224.7 117.4L225.5 115.8L227.4 115.6L229.0 114.6L229.9 113.9L231.8 113.9L233.3 112.9L234.7 112.5L235.6 111.2L236.6 109.8L238.4 110.1L239.8 109.6L240.8 108.5L242.3 108.0L243.9 107.5L245.1 106.5L246.6 106.4L248.4 105.3L249.6 104.6L251.2 104.3L252.7 103.8L254.4 102.4L256.7 102.1L258.3 101.9L259.5 103.3L261.2 102.4L262.2 100.9L264.0 99.7L265.5 99.3L267.8 98.7L269.5 98.4L271.4 98.3L273.3 97.5L274.9 96.6L276.7 95.9L277.9 94.1L279.5 93.3L279.9 91.2L281.3 90.5L283.3 91.2L285.0 92.4M147.9 116.1L149.2 114.9L150.6 113.8L152.2 114.6L154.0 113.7L155.2 113.0L156.2 113.8L158.1 113.9L159.4 113.8L160.1 116.1L159.8 117.6L158.8 118.9L156.7 118.5L155.2 119.2L154.9 118.0L154.3 116.7L152.4 116.1L152.3 117.6L150.6 118.5L148.4 118.0ZM219.2 133.1L220.5 131.5L221.9 130.8L224.3 130.2L223.9 132.5L223.7 134.4L221.9 134.5L220.4 134.6ZM231.1 124.4L232.8 125.3L234.8 124.3L236.5 125.3L238.6 126.5L240.1 126.7L242.0 127.1L243.8 127.9L246.0 128.4L245.7 130.8L244.1 131.5L242.9 129.9L241.4 129.9L239.3 128.9L237.8 127.8L236.2 128.2L234.7 127.1L233.4 126.5L232.0 125.7ZM261.2 109.0L262.8 108.8L264.0 107.5L264.9 109.0L266.7 109.4L265.4 110.1L264.3 111.2L263.1 109.8ZM273.5 139.9L275.3 138.3L276.5 138.9L277.1 140.1L275.9 141.0L275.5 142.3L274.4 141.2ZM179.9 143.6L181.2 142.4L183.2 143.3L185.3 143.0L186.9 143.6L188.1 144.9L189.9 144.1L189.9 145.7L189.0 147.2L187.1 146.9L186.3 147.8L184.7 146.5L183.5 145.4L181.7 144.7ZM268.2 97.3L270.0 98.4L272.0 98.4L273.7 99.1L275.6 99.3L276.9 98.4L278.2 96.9L278.8 95.3L277.3 94.2L279.0 94.2L280.1 93.3L281.5 92.6L281.9 91.1L283.9 91.0L284.6 92.4L286.0 92.0L287.4 91.8L288.9 90.6L291.0 90.0L291.6 91.5L292.5 92.4L291.9 94.2L293.2 93.9L294.7 93.3L296.8 93.2L297.4 91.1L299.3 90.0L301.1 89.3L302.7 88.9L303.7 88.1L304.7 86.9L306.0 86.1L306.3 84.3L307.5 83.2L308.2 84.0L308.4 86.0L309.5 87.2L311.1 87.8L313.0 88.2L314.6 87.5L315.7 88.7L317.6 88.6L319.4 88.2L321.0 87.5L322.8 88.4L324.9 88.7L326.6 88.7L328.0 89.6L329.4 90.0L330.9 89.5L332.6 89.1L334.0 88.7L335.2 88.3L337.3 88.0L338.6 87.4L340.2 86.6L342.3 86.3L343.1 85.1L344.6 84.5L345.6 83.0L347.7 83.2L349.9 82.6L351.4 81.4L352.5 79.7L353.2 78.3M355.9 78.3L356.2 79.8L354.4 81.0L354.1 82.3L355.9 83.1L356.3 84.5L357.8 85.1L358.9 85.9L360.3 87.3L361.4 87.8L362.9 89.1L365.1 89.9L366.9 89.6L368.2 90.8L369.7 92.4L369.6 94.0L370.6 96.0L371.9 97.5L372.4 99.7L372.3 101.7L373.3 103.3L374.9 103.2L376.1 102.4L376.5 100.5L378.3 100.2L379.7 98.8L380.8 96.9L381.5 95.1L381.7 93.7L380.6 92.4L382.5 93.5L384.3 94.2L386.0 94.8L387.1 96.2L388.9 96.9L390.1 97.9L391.6 98.2L393.5 98.3L394.3 99.7L395.8 100.4L396.7 101.1L399.0 101.2L399.8 102.4L401.6 103.5L403.7 104.2L405.3 104.3L406.4 104.6L408.4 104.3L409.9 105.2L411.4 105.9L413.4 106.1L414.5 107.9L416.1 108.4L418.1 108.8L419.8 107.9L421.3 107.8L422.7 107.0L424.4 107.1L425.5 105.4L427.2 105.7L427.4 107.2L426.9 108.8L425.5 110.3L423.6 110.7L422.4 112.2L421.8 114.3L422.7 115.9L424.5 117.1L426.0 118.1L427.2 119.8L426.6 121.7L426.3 123.5L425.9 124.9L425.0 126.5L424.5 128.0L422.5 128.8L421.8 130.8L420.8 132.4L419.0 133.5L418.4 135.2L418.9 137.4L416.3 138.1L415.8 140.4L413.9 141.0L412.6 142.7L412.2 144.7L410.9 145.7L409.9 147.2L409.7 148.5L409.7 150.8L408.1 151.8L407.5 153.2L408.0 154.4L407.5 156.4L408.8 157.6L409.9 159.1L410.9 160.5L412.4 161.2L414.5 161.9L415.0 163.3L416.3 164.2L417.7 164.6L419.5 163.2L420.9 163.7L422.8 164.0L424.0 163.0L425.4 162.4L426.9 162.1L428.8 161.1L430.0 160.9M370.6 107.9L372.2 107.4L373.3 106.1L375.5 105.7L377.0 106.4L377.9 108.8L376.6 109.5L375.1 110.1L373.2 109.3L372.4 109.7L371.3 108.7ZM387.0 110.7L388.0 108.9L387.7 107.6L388.6 106.1L388.9 104.3L390.5 104.5L392.5 105.2L392.8 106.4L392.9 107.9L391.1 108.4L389.8 109.4L388.2 109.6ZM273.7 140.3L274.1 138.8L275.5 138.4L276.6 139.4L277.3 140.3L276.6 141.7L275.5 142.1L274.4 141.3ZM345.0 90.5L346.1 89.6L346.8 90.7L345.7 91.5ZM370.6 114.3L371.7 113.4L372.4 114.5L371.3 115.2ZM64.6 249.4L66.2 248.7L67.7 247.6L69.2 246.5L71.0 246.6L72.2 245.2L73.6 244.2L75.6 243.6L77.4 243.0L78.7 241.3L80.4 240.5L81.9 239.3L83.0 238.2L84.2 237.3L84.7 235.7L85.0 234.3L85.6 232.9L83.7 231.9L81.6 233.7L79.7 233.1L78.3 232.4L79.9 233.0L82.3 232.5L84.0 232.2L85.6 232.5L87.3 232.1L88.7 231.3L90.0 230.3L91.1 229.6L93.0 229.3L94.8 228.0L96.6 227.4L98.2 227.1L99.9 226.5L101.4 226.0L103.0 225.2L104.4 224.8L105.6 224.1L106.7 222.4L108.5 222.9L110.1 222.6L112.0 222.0L113.9 221.9L115.4 221.8L116.8 223.0L118.5 222.9L120.5 223.5L121.7 222.2L123.1 222.3L124.2 223.0L125.9 223.5L126.7 224.7L127.8 225.9L129.3 226.5L130.4 227.4L131.9 228.3L133.1 229.6L134.5 230.3L136.1 230.0L137.7 230.7L138.7 232.1L140.5 232.9L139.4 234.4L140.1 236.6L141.0 238.0L142.3 238.8L143.9 238.0L145.4 239.1L146.9 239.3L148.3 238.9L150.0 238.6L151.4 238.4L152.6 238.0L154.2 237.5L155.1 235.7L156.4 236.6L157.8 236.6L158.7 238.4L157.6 238.7L156.9 240.2L158.5 241.5L159.7 243.0L161.1 244.2L162.4 245.7L163.7 246.5L165.0 246.9L166.1 247.9L167.9 249.2L169.7 249.4L171.3 249.2L172.8 248.0L174.3 248.5L173.0 247.5L171.5 246.6L173.4 247.0L175.2 247.1L177.0 247.2L178.9 247.1L181.0 246.5L182.6 246.5L184.3 246.6L186.0 246.8L187.9 247.3L189.5 246.4L191.7 246.6L192.8 246.6L193.7 247.6L194.6 248.8L196.8 248.4L196.3 247.0L196.5 245.5L197.8 244.2L199.2 243.3L200.7 242.8L201.9 241.1L203.6 240.5L205.6 240.5L206.6 241.7L207.4 242.9L207.4 244.2L206.5 245.5L207.9 246.9L209.3 248.4L211.4 248.2L212.9 247.3L214.4 247.8L215.7 248.8L217.1 249.0L218.9 248.6L220.6 248.8L222.1 249.1L223.8 249.4L225.6 250.4L227.6 249.4L229.4 249.7L231.3 249.9L233.0 250.7L234.9 250.2L236.1 250.0L237.9 249.6L239.4 249.7L240.9 251.0L243.1 250.6L243.1 252.4L241.4 252.7L240.0 253.7L238.5 253.3L237.2 254.3L236.4 255.4L234.9 256.1L235.5 257.9L235.8 259.7L237.0 261.2L238.5 262.5L238.9 264.1L238.9 265.2L237.4 266.2L236.3 266.1L234.9 266.7L232.7 266.3L231.2 267.6L229.4 268.0L228.7 269.3L227.2 269.8L227.2 271.0L227.9 272.5L226.9 273.6L225.7 274.7L224.8 277.1L226.5 276.8L228.5 276.2L230.2 277.1L231.5 275.9L233.0 276.6L233.3 278.0L233.0 279.9L232.0 281.1L232.3 282.7L231.6 283.9L229.4 283.1L227.7 284.4L225.7 283.5L224.9 285.0L223.9 286.3L222.6 287.7L221.1 289.0L219.4 288.3L217.6 288.8L215.7 289.4L214.5 289.0L212.5 288.2L211.1 288.1L210.1 286.6L209.3 285.3L211.1 285.0L212.9 283.9L211.6 283.1L210.2 282.6L209.8 281.2L209.3 278.9L207.4 277.7L205.9 279.1L207.1 280.8L205.3 281.0L203.8 281.7L202.4 282.8L201.0 283.9L199.2 282.6L199.8 281.2L199.7 279.5L198.0 278.9L196.5 278.4L194.8 278.5L193.4 278.6L191.9 278.9L192.1 280.4L192.8 281.7L191.7 282.8L190.2 283.6L188.2 283.5L187.1 284.9L185.4 285.0L183.7 285.0L182.6 286.4L181.1 286.7L180.0 287.2L178.9 288.7L177.0 288.2L175.2 288.5L173.4 289.1L173.2 290.9L172.5 292.8L170.6 292.7L169.7 294.3L168.5 293.1L167.0 292.8L168.4 291.4L169.7 290.1L168.1 289.9L166.1 289.1L163.8 289.2L162.4 291.0L163.3 292.4L164.2 293.7L162.3 292.8L160.6 293.2L159.8 294.7L158.7 295.5L157.6 296.9L156.0 297.4L154.4 298.0L152.9 297.9L151.4 297.4L149.7 297.9L147.5 298.3L145.9 299.2L143.9 299.3L142.6 301.0L140.5 301.0L138.7 301.6L137.6 302.3L135.9 302.9L134.5 304.0L133.1 304.7L131.4 305.8L129.5 305.6L128.1 304.7L126.7 303.8L125.9 302.4L124.1 302.1L123.1 301.6L121.2 301.4L120.2 301.6L118.5 301.0L117.6 302.1L115.3 301.5L114.5 302.9L114.3 304.9L113.4 306.5L115.3 307.0L115.8 308.9L116.6 307.7L117.4 306.7L118.5 305.6L120.2 305.2L122.2 304.7L123.3 305.7L124.5 306.2L125.8 307.1L127.7 307.4L128.0 309.3L127.8 310.6L126.8 312.2L126.7 313.8L125.7 315.0L124.9 316.6L122.7 317.3L122.2 319.3L121.4 317.4L120.6 316.2L119.4 314.7L117.8 314.9L116.3 314.3L114.9 313.8L113.1 315.3L112.1 316.6L111.2 317.8L111.2 319.5L110.3 321.1L109.0 322.1L107.2 323.0L108.1 324.9L109.0 326.6L109.5 328.4L109.3 329.9L109.7 331.2L110.0 333.5L109.4 334.9L107.5 335.5L105.8 336.2L103.9 336.7L102.2 337.5L100.2 337.8L98.4 338.1L96.8 339.1L94.7 339.4L92.9 340.0L91.2 340.6L89.4 340.9L87.4 341.3L85.4 341.1L83.8 340.3L84.5 338.4L84.7 336.7L86.6 335.7L87.4 333.9L87.4 332.2L86.3 330.8L86.5 329.4L85.5 328.4L84.7 326.6L82.9 327.5L82.7 329.3L83.4 331.2L81.9 331.6L80.1 332.1L78.9 330.9L77.4 329.7L75.4 330.0L73.7 329.4L72.1 330.5L70.1 330.3L69.9 332.1L69.5 333.9L71.1 335.0L71.9 336.7L73.2 337.9L74.6 339.4L74.1 341.4L75.5 343.1L76.9 344.3L78.3 345.5L80.0 344.2L81.9 344.0L84.1 344.4L83.1 345.5L82.9 346.7L80.9 347.0L79.2 348.0L77.6 348.4L77.1 349.9L75.5 350.4L74.9 352.1L72.6 352.2L71.0 353.1L69.6 353.5L68.6 354.7L67.3 355.3L66.1 356.4L65.3 358.0L63.7 358.3M109.7 212.4L112.1 213.2L113.7 214.3L114.5 216.1L113.0 217.9L111.8 217.0L111.6 215.5L109.6 214.6ZM103.9 212.8L105.2 212.1L105.9 213.5L104.6 214.4ZM104.0 212.0L105.3 210.8L106.5 212.8L105.0 214.0ZM110.3 212.8L111.4 212.2L112.8 212.0L113.0 213.8L113.2 215.0L114.8 215.8L112.8 217.3L111.7 216.6L111.3 214.8ZM113.6 198.2L115.1 197.2L115.8 199.2L114.3 200.2ZM117.3 190.7L118.8 189.9L119.6 191.4L118.1 192.2ZM124.1 184.6L125.4 183.9L126.1 185.4L124.9 186.1ZM65.0 450.5L66.9 451.0L68.5 451.2L70.4 451.5L71.7 452.7L73.4 452.7L75.1 453.5L76.8 454.1L77.5 455.3L78.9 456.5L79.6 457.9L81.4 458.5L81.9 460.2L81.4 462.0L83.1 463.0L83.2 465.1L83.1 466.6L84.0 468.1L84.4 469.8L85.1 471.1L86.0 472.2L86.2 474.5L86.2 476.1L87.0 477.7L88.1 479.3L88.2 481.2L89.8 482.0L90.2 483.8L91.0 485.6L92.6 486.2L93.9 487.5L95.0 488.8L94.9 491.0L96.5 491.8L97.2 493.4L97.7 495.1L98.2 496.8L98.6 498.0L98.7 499.8L99.0 501.4L99.3 503.2L101.3 503.7L102.2 505.0L102.9 506.5L104.0 507.7L105.1 508.9L105.7 510.5L105.7 512.1L106.9 513.4L107.7 514.7L108.2 516.5L109.0 517.7L109.6 519.1L110.0 520.7L111.7 521.6L110.3 524.2L111.9 525.7L112.8 526.5L113.1 528.3L113.4 530.0L114.1 531.5L115.0 533.0L116.2 533.8L116.9 535.0L117.8 536.6L118.2 538.1L118.9 539.6L119.5 541.3L120.3 542.9L121.0 544.6L121.4 545.9L122.5 547.5L122.9 549.1L122.3 550.9L123.1 552.9L122.4 554.5L123.5 556.3L122.9 557.9L121.7 559.6L121.8 561.2L120.6 562.7L119.8 564.2L120.9 565.6L121.5 566.8L122.9 568.0L124.6 568.9L126.1 570.0L127.9 570.1L129.1 571.8L130.4 573.5L132.1 573.8L133.7 574.5L135.5 575.1L136.7 576.8L138.0 577.2L139.8 577.7L141.3 578.4L142.6 579.4L144.2 580.1L145.5 580.6L147.2 581.1L148.4 582.6L149.6 583.2L151.3 583.8L153.0 584.4L153.4 586.2L154.8 587.2L155.6 588.4L156.8 589.4L158.7 590.0L157.4 591.2L156.9 592.7L156.0 594.7L155.1 596.4L156.7 597.6L157.8 599.1L158.6 600.5L159.3 601.9L160.6 602.8L162.3 603.6L163.9 604.6L166.1 604.6L167.6 604.9L169.0 605.7L170.2 606.0L172.0 606.4L173.4 607.4L175.1 607.6L175.8 609.4L177.6 609.0L179.1 610.4L180.7 611.0L182.2 612.0L183.2 613.6L185.0 614.5L186.2 615.6L187.5 617.0L188.0 618.5L188.9 620.2L189.3 621.6L189.8 623.2L191.0 624.1L191.3 625.7L190.9 627.2L192.1 628.6L192.0 629.9L191.2 631.3L189.8 632.1L188.1 632.0L186.2 632.0L184.3 631.7L182.7 631.5L181.3 630.9L179.8 630.6L178.2 630.6L177.0 629.3L175.3 629.2L174.3 627.8L173.0 627.0L170.7 627.9L169.7 626.6L168.1 625.9L166.8 625.8L165.0 624.4L164.0 624.1L162.4 623.8L160.9 623.1L159.4 622.8L157.7 622.6L156.9 620.8L155.1 620.7L153.3 619.9L151.3 619.7L149.6 618.9L147.8 619.4L145.9 619.6L144.7 620.5L142.8 621.0L141.4 622.0L139.9 622.7L138.5 624.0L136.8 623.8L135.0 624.2L133.3 623.6L131.0 623.3L129.5 622.9L128.2 621.6L126.7 620.2L125.0 618.9L125.3 616.8L124.0 615.6L122.6 614.4L121.3 612.9L120.3 611.0L119.2 610.1L117.4 609.4L116.6 608.2L114.9 608.3L113.1 607.4L111.2 607.0L109.4 606.2L107.5 606.8L105.6 606.9L104.0 606.7L102.2 605.4L100.2 606.1L98.2 606.2L96.7 605.5L94.7 606.5L92.8 606.5L91.6 608.5L89.3 608.3L88.1 609.4L86.5 609.4L85.1 610.4L83.8 611.0L82.4 612.1L80.9 612.2L79.0 611.8L77.7 613.1L76.5 613.8L74.6 614.1L72.9 614.3L70.9 613.1L69.1 613.4L67.7 612.4L65.3 612.6L63.7 611.6M63.7 614.3L65.3 614.7L66.6 615.3L68.2 616.4L69.1 617.2L71.0 617.4L73.0 616.8L74.5 617.9L76.3 618.0L78.3 617.8L80.1 617.5L81.2 617.3L83.5 616.9L84.7 615.6L85.9 614.9L87.6 614.3L88.9 613.2L90.2 612.3L92.5 612.4L93.7 610.7L95.7 611.0L97.1 611.2L98.7 610.8L100.1 610.3L102.1 610.5L103.4 610.1L105.1 610.6L106.9 610.6L108.5 611.0L110.3 611.3L112.3 611.5L113.9 612.3L114.9 613.5L115.7 615.4L117.0 616.5L117.8 617.6L118.5 619.5L118.1 621.1L116.5 622.5L116.3 624.7L114.9 623.7L113.0 623.8L112.9 622.4L111.6 621.4M114.9 624.7L116.8 625.4L118.3 625.3L120.3 625.7L122.0 626.3L123.9 626.9L126.0 626.8L127.7 627.5L129.8 627.3L131.2 628.9L133.3 628.1L135.0 629.3L136.3 630.1L137.5 631.1L139.1 631.0L140.5 632.1L142.4 632.5L143.0 633.8L144.4 634.8L145.9 635.7L146.4 637.6L148.1 637.8L149.2 638.9L150.7 640.0L151.4 641.2L152.8 642.4L154.8 643.0L155.1 645.2L158.1 644.7L158.7 646.7L159.9 647.8L161.2 648.8L163.2 649.2L164.4 650.4L166.1 651.3L167.1 653.1L168.2 653.2L170.3 653.9L172.1 653.8L173.4 654.9L175.0 655.3L175.8 657.1L177.6 657.6L178.9 658.6L180.5 658.8L181.0 661.0L182.4 661.3L183.0 663.4L184.3 664.1L184.1 665.7L186.0 666.5L187.4 667.7L188.0 669.2L188.9 670.5L189.8 672.1L190.5 673.6L192.1 675.1L192.6 676.9L193.7 677.9L193.9 679.6L194.9 680.5M142.3 625.7L143.6 624.9L144.9 624.2L145.9 622.9L147.8 623.6L149.0 622.3L151.4 622.5L152.6 623.5L154.3 623.9L155.4 625.3L157.7 624.9L158.7 625.7L160.4 625.6L161.3 627.4L163.4 627.1L164.6 628.7L166.1 629.3L167.2 630.8L169.0 631.0L170.7 631.5L171.9 632.6L173.4 633.0L174.9 633.7L176.0 634.3L177.5 634.9L179.0 635.8L180.7 635.7L182.6 636.0L184.1 636.6L186.1 636.7L188.0 637.9L189.4 639.3L191.1 639.3L192.9 639.7L194.4 640.3L196.0 641.4L197.1 643.0L197.3 644.8L196.2 646.3L194.7 647.1L193.0 646.7L191.7 648.1L189.7 647.5L188.0 647.3L186.2 647.6L184.5 647.6L183.1 646.6L181.4 647.1L180.6 645.3L178.9 644.9L177.5 644.5L176.5 642.5L174.6 642.7L173.0 642.2L171.5 642.1L170.3 641.1L168.7 640.8L167.2 639.8L165.8 639.5L164.2 639.0L162.9 638.2L161.1 637.7L160.0 636.4L158.6 636.0L156.9 635.7L155.2 634.7L153.8 633.5L152.0 632.9L150.5 632.1L149.2 630.9L147.5 630.9L146.7 629.0L145.0 628.8L143.2 627.6ZM169.7 648.9L171.3 648.2L173.4 648.1L175.2 648.8L177.0 649.8L178.9 650.3L180.6 651.3L182.0 651.7L183.4 653.1L184.6 653.5L186.2 653.1L187.3 654.4L188.9 654.4L189.8 656.7L188.6 657.7L187.1 658.6L186.0 657.3L184.7 657.3L184.3 654.9L182.5 654.6L180.7 654.0L178.7 653.7L177.0 652.5L175.6 651.4L174.3 651.3L172.5 651.3L170.6 650.3ZM407.4 149.1L406.8 150.7L406.3 152.1L407.1 153.7L407.3 155.6L408.1 156.8L409.3 158.2L410.2 159.2L410.9 160.8L412.9 161.0L414.4 161.6L415.3 163.1L416.6 163.7L418.6 164.3L420.4 164.5L422.1 162.8L423.1 160.9L425.4 161.2L426.6 161.0L428.2 162.0L429.4 163.7L430.9 165.0L433.0 165.5L435.0 165.2L436.7 166.5L438.6 167.3L440.3 167.4L439.4 169.2L438.0 168.8L435.8 168.3L434.2 167.3L432.1 166.5L430.7 165.9L429.4 164.9L427.5 164.6L425.6 164.7L423.9 165.8L422.1 165.5L420.0 165.9L417.9 166.0L416.6 165.0L415.1 164.8L413.6 165.8L412.0 165.5L410.0 164.8L409.0 166.9L407.4 166.8L406.3 167.9L404.9 168.4L403.8 169.2L402.1 169.0L401.4 170.5L400.1 171.6L398.9 172.7L396.8 172.3L397.5 174.1L398.3 175.6L397.5 176.7L395.9 177.5L395.5 179.3L394.4 180.4L393.6 181.3L392.8 182.9L392.1 184.6L391.1 185.5L390.6 187.2L390.1 188.4L389.8 190.5L389.0 192.0L389.1 193.9L390.2 195.4L391.9 195.7L393.8 195.5L395.5 196.1L394.0 196.7L393.7 197.9L392.2 198.0L390.4 197.7L389.1 197.2L386.9 197.7L385.5 199.0L383.3 199.3L381.8 200.8L380.0 201.6L378.5 202.7L380.0 203.9L382.0 203.6L383.6 202.8L385.5 203.0L387.4 203.7L389.2 204.5L391.0 204.9L392.9 205.8L394.8 206.2L396.5 206.7L398.7 206.6L400.4 206.7L401.9 208.1L403.8 208.5L405.9 208.6L407.4 208.9L409.5 208.4L410.9 207.0L412.9 206.7L414.2 207.7L415.7 207.6L414.6 209.4L412.9 209.9L412.0 211.3L410.3 210.4L409.0 212.8L407.4 212.2L405.8 213.5L403.6 213.1L401.9 213.1L401.1 214.9L398.8 214.4L397.4 214.9L398.6 216.2L399.2 217.7L400.6 217.5L402.3 218.4L403.8 219.1L405.7 219.2L407.5 218.8L409.3 218.6L410.9 218.5L412.6 217.6L413.8 216.7L415.1 217.5L416.6 217.7L417.7 219.4L419.3 220.4L420.7 219.4L422.1 218.6L424.1 218.7L425.7 217.3L427.0 218.2L428.8 218.0L430.3 218.0L431.3 219.7L432.1 221.3L430.2 222.1L429.4 224.1L427.8 225.1L425.7 225.0L424.3 226.2L423.9 227.7L424.9 229.0L426.6 229.5L428.3 228.7L430.3 227.7L431.3 226.3L433.0 225.9L434.9 225.5L436.7 225.0L437.7 223.7L439.4 222.2L438.8 220.4L438.5 218.6L440.4 217.8L441.3 215.8L442.9 217.2L444.9 216.7L445.7 215.7L445.8 214.0L444.2 213.5L442.2 213.1L440.4 211.8L438.5 211.3L437.7 209.9L436.7 208.9L438.4 208.6L440.3 208.9L442.6 208.5L444.0 209.4L445.8 210.0L447.3 210.2L449.3 211.2L450.4 211.8L451.7 213.1L453.1 214.9L454.7 216.3L455.9 217.7L457.2 219.1L458.6 220.4L459.8 221.0L461.4 221.7L462.9 220.7L463.2 219.5L462.4 218.5L461.4 217.7L462.4 218.3L464.1 218.0L465.5 219.2L466.9 220.4L467.9 221.3L468.7 223.1L468.9 224.4L469.6 225.9L470.9 225.7L472.3 225.3L473.2 224.0L474.2 223.1L476.0 221.7L477.7 221.0L479.7 220.4L481.0 219.1L482.5 219.1L484.2 219.5L486.2 219.0L487.3 219.0L488.8 218.6L490.8 218.9L491.5 220.4L493.2 220.6L494.3 222.2L495.6 223.2L497.0 224.1L498.5 224.5L500.7 225.0L502.8 225.1L504.3 224.1L505.9 223.7L506.2 222.2M474.2 223.1L475.7 223.9L476.9 224.1L478.6 224.9L480.6 225.0L481.5 226.3L483.3 226.8L484.2 228.6L484.2 230.5L486.0 230.6L487.0 232.3L488.1 231.1L488.8 229.5L488.6 227.8L489.7 225.9L490.7 224.2L492.5 223.1M489.7 234.1L490.3 235.2L491.5 235.9L493.3 236.0L495.5 237.0L497.0 236.9L498.4 236.0L499.8 235.0L500.8 233.6L500.3 231.6L500.7 230.5L500.5 228.0L498.9 226.8L498.0 225.2L497.0 224.1M384.0 176.5L385.4 175.5L386.4 174.7L388.3 175.3L390.1 175.6L390.6 177.4L389.2 178.2L387.3 178.3L385.9 177.1ZM412.9 230.5L414.8 229.5L415.7 227.7L416.7 226.7L418.7 226.5L419.3 225.0L419.4 223.3L421.1 223.1L419.6 222.1L418.4 222.2L416.7 222.5L415.7 224.1L414.0 224.9L412.0 225.0L410.8 224.7L409.3 224.1L407.4 225.3L409.7 225.9L411.1 226.8L411.8 228.7ZM421.1 228.6L422.2 229.6L423.9 230.5L426.4 231.0L427.9 230.1L429.3 229.5L429.4 227.7L427.2 226.4L425.9 227.1L423.9 227.2L422.5 227.9ZM442.2 233.0L443.3 231.9L444.4 233.0L443.3 234.1ZM397.6 223.1L398.7 222.2L399.7 223.3L398.7 224.2ZM619.8 166.0L619.5 167.9L619.2 169.9L619.0 171.8L618.2 173.3L617.6 175.0L616.8 176.6L616.0 178.1L614.8 179.2L613.5 180.4L612.3 181.6L611.0 182.6L609.4 183.1L608.0 183.8L606.5 184.4L605.0 185.1L603.4 185.6L601.8 185.7L600.1 186.1L598.5 186.2L596.7 186.5L595.1 186.7L593.4 186.9L591.7 186.9L590.1 186.6L588.4 186.6L586.7 186.3L585.0 186.3L583.3 186.1L581.6 186.1L579.9 185.9L578.3 185.9L576.7 185.8L575.0 185.5L573.3 185.6L571.6 185.8L569.9 186.1L568.3 186.2L566.6 186.5L564.9 186.7L563.2 186.9L561.6 186.7L559.9 186.6L558.1 186.5L556.5 186.6L554.8 186.2L553.2 186.1L551.5 186.3L549.8 186.3L548.1 186.3L546.5 186.7L544.7 186.7L543.1 186.9L541.6 187.4L540.1 188.0L538.6 188.5L537.0 188.9L535.5 189.4L534.0 190.2L532.5 190.9L531.0 191.6L529.5 192.5L528.0 193.2L526.7 194.2L525.3 195.1L524.3 196.3L523.0 197.5L521.7 198.4L520.5 199.5L519.3 200.7L517.9 201.9L516.8 203.3L515.3 204.4L514.2 205.8L513.0 206.7L511.6 207.6L510.4 208.7L509.2 209.8L507.9 210.8L506.9 212.5L506.0 214.2L504.9 215.8L504.9 217.7L504.7 219.6L504.9 221.4L504.9 223.4M621.5 168.5L621.3 170.5L621.1 172.4L621.0 174.3L620.4 176.0L619.5 177.5L618.8 179.0L618.0 180.6L616.7 181.8L615.4 183.0L614.1 184.2L613.0 185.6L611.4 186.2L609.8 187.0L608.1 187.5L606.4 188.3L604.7 188.7L602.9 188.9L601.1 189.1L599.3 189.4L597.5 189.6L595.7 189.7L593.9 189.9L592.1 189.6L590.4 189.5L588.6 189.6L586.9 189.4L585.1 189.3L583.3 189.2L581.6 189.0L579.9 189.0L578.4 188.9L576.7 188.9L574.9 188.7L573.3 188.7L571.6 188.8L569.9 189.1L568.2 189.3L566.6 189.5L564.8 189.6L563.2 189.9L561.6 189.7L559.9 189.7L558.2 189.6L556.5 189.5L554.8 189.4L553.2 189.4L551.6 189.5L550.0 189.6L548.4 189.7L546.7 190.0L545.1 189.9L543.6 190.2L541.9 191.0L540.2 191.3L538.5 191.9L536.8 192.7L535.1 193.6L533.3 194.3L531.8 195.4L530.0 196.2L528.6 197.4L527.1 198.4L525.8 199.7L524.4 200.9L523.0 202.0L521.7 203.3L520.5 204.6L519.3 205.8L518.0 207.0L516.7 208.3L515.5 209.4L514.4 210.5L513.2 211.6L512.1 212.7L510.9 213.8L509.8 215.4L508.9 217.2L507.9 218.8L507.8 220.6L508.1 222.4L508.3 224.1L508.4 225.9M623.1 171.8L622.7 173.7L622.6 175.6L622.3 177.6L621.8 179.2L620.9 180.6L620.3 182.1L619.8 183.6L618.6 185.0L617.3 186.2L616.0 187.4L614.8 188.7L613.3 189.1L611.8 189.7L610.3 190.3L608.9 190.9L607.4 191.4L606.0 191.9L604.5 192.1L602.7 192.3L601.1 192.4L599.5 192.7L597.8 192.8L596.3 193.2L594.6 193.2L593.0 193.0L591.3 193.1L589.8 192.7L588.2 192.8L586.5 192.7L584.9 192.5L583.3 192.4L581.6 192.3L580.0 192.2L578.3 192.2L576.7 191.9L574.9 192.0L573.3 191.9L571.6 192.1L569.9 192.4L568.3 192.6L566.6 192.8L564.9 192.9L563.2 193.2L561.5 193.0L560.0 193.3L558.4 192.9L556.9 192.8L555.3 192.8L553.7 192.7L552.0 192.8L550.2 193.0L548.6 193.3L546.8 193.4L545.1 193.7L543.5 194.1L541.8 194.7L540.2 195.3L538.6 195.7L537.2 196.4L535.8 197.1L534.5 198.0L533.1 198.6L531.8 199.5L530.6 200.6L529.2 201.7L528.0 202.9L526.7 204.0L525.5 205.2L524.2 206.5L523.0 207.7L521.6 208.9L520.5 210.1L519.2 211.3L518.1 212.4L517.2 213.5L516.2 214.7L515.3 216.0L514.2 217.1L513.3 218.6L512.5 220.4L511.7 222.1L512.1 223.9L512.2 225.8L512.3 227.8L512.9 229.6L513.4 231.3L513.7 233.0L514.2 234.7M590.9 77.5L589.5 78.6L588.1 79.9L586.5 80.8L584.6 81.4L583.3 82.5L582.2 83.6L580.2 83.7L578.9 85.0L577.5 85.9L575.8 86.3L574.3 87.1L572.6 87.7L571.5 89.2L569.7 89.3L568.2 90.1L567.3 91.9L566.1 93.1L565.1 94.6L564.5 96.4L564.4 98.3L565.6 99.5L565.3 101.0L565.7 102.7L566.8 104.2L568.0 104.9L569.5 106.4L569.4 108.4L567.7 109.9L567.0 111.5L566.3 113.2L566.3 115.1L565.2 116.5L565.4 118.4L567.1 119.6L567.4 121.2L568.2 122.8L567.7 120.6L567.0 119.0L564.4 119.0L563.2 117.7L561.4 117.5L560.0 118.3L558.2 119.0L557.3 120.6L556.3 122.0L556.2 124.0L556.9 125.7L556.7 127.2L556.9 129.1L558.4 130.1L559.2 131.7L560.7 132.3L562.3 133.6L564.5 133.3L566.3 134.3L567.8 134.0L569.4 133.5L570.8 134.8L572.7 135.5L573.7 135.8L575.4 136.5L577.0 137.4L578.9 138.2L579.5 140.0L581.8 140.4L583.3 141.6L585.2 142.1L586.0 143.3L586.7 145.1L588.5 145.3L589.6 146.7L590.5 148.1L592.2 148.6L593.5 149.4L594.4 151.0L595.9 151.7L597.3 152.2L599.1 153.6L600.5 154.2L601.9 155.1L603.4 156.0L604.9 157.0L606.6 157.6L608.0 158.7L609.3 159.7L611.0 160.5L612.2 161.5L614.0 162.1L615.7 162.8L617.3 163.5L618.9 163.9L619.1 165.7L620.5 166.8L621.4 166.7L620.8 168.5L623.2 169.1L622.9 171.1L624.0 172.5L623.7 174.5L625.1 175.5L625.3 177.0L626.9 178.3L627.5 179.4L627.9 181.6L628.9 182.5L629.1 184.0L630.2 185.6L630.5 187.3L631.9 188.5L632.6 189.8L633.6 191.5L634.0 193.1L635.4 194.1L636.4 195.6L637.6 196.7L639.2 198.2L639.3 199.8L640.2 201.4L641.9 202.3L641.3 204.5L642.7 205.7L644.4 206.4L644.4 208.6L645.6 210.0L647.0 211.4L647.2 213.6L649.0 214.4L649.5 216.0L651.5 216.8L652.5 217.9L653.0 219.7L655.1 220.1L655.3 222.0L656.5 223.4L658.1 223.5L659.1 225.0L660.0 226.7L662.2 226.7L662.8 228.3L663.7 229.8L665.2 230.8L666.6 232.1L667.7 233.3L669.1 234.5L670.1 236.2L671.3 237.4L672.2 238.9L672.9 240.8L673.9 242.4L674.6 243.9L676.1 245.4L676.9 246.6L677.9 248.4L679.4 249.7L679.8 251.4L681.0 253.0L682.0 254.2L682.9 255.9L683.3 257.8L685.0 258.9L685.8 260.6L687.2 261.6L687.9 263.4L688.0 264.7L689.5 266.4L690.3 267.6L690.2 269.4L691.1 271.0L691.7 272.2L691.8 274.1L692.6 275.2L694.1 276.3L693.5 278.5L694.4 280.3L692.7 281.9L693.0 283.6L693.5 285.1L692.6 283.4L694.0 281.7L693.5 280.0L694.0 281.3L694.3 283.2L695.0 284.5L694.7 285.7L695.5 287.5L695.9 289.0L696.4 291.0L696.9 293.3L696.7 295.1L696.3 296.8L695.4 297.9L695.3 299.6L695.4 301.5L694.2 302.6L693.7 304.6L693.8 306.6L693.9 308.2L693.0 310.2L692.3 311.6L692.6 313.6L692.4 314.8L691.3 316.3L691.0 317.7L690.1 319.2L689.9 321.6L690.7 323.3L690.5 325.2L690.3 326.9L690.7 328.3L691.5 330.1L691.0 331.5L691.4 333.1L692.6 334.8L693.0 336.5L692.6 338.2L691.1 338.7L690.5 340.3L691.3 341.7L692.8 341.9L694.2 342.8L696.1 342.5L697.5 342.3L699.2 341.6L700.7 340.7L702.5 339.8L703.4 341.0L702.6 342.6L703.0 344.1L702.1 345.5L702.3 347.4L701.0 349.0L700.5 350.4L700.4 352.0L699.8 353.4L698.8 354.8L698.6 356.4L698.0 357.9L697.6 359.4L696.5 360.8L696.3 362.2L696.0 364.2L695.5 365.4L695.4 366.9L695.6 368.6L695.3 370.2L695.0 371.7L695.0 373.9L693.3 374.8L693.0 376.7L691.6 377.8L690.2 377.9L689.2 379.2L690.7 380.0L689.8 381.8L689.1 383.8L687.9 385.5L686.5 386.6L685.2 387.3L684.0 388.6L682.5 390.1L681.6 391.8L680.6 393.7L680.3 395.6L679.7 397.4L678.8 398.7L677.9 400.1L676.6 400.8L675.1 401.0L674.0 402.8L672.4 403.8L671.1 403.3L669.7 403.4L668.5 404.7L666.9 405.6L666.1 407.0L664.2 407.8L664.0 405.8L662.3 405.6L661.9 403.8L660.5 401.9L659.6 403.8L658.4 403.7L656.9 403.4L655.6 404.3L654.1 404.7L652.2 405.0L650.5 405.2L648.6 405.4L647.7 403.4L646.1 403.4L645.0 404.1L643.8 403.3L643.1 401.9L642.3 400.6L640.4 400.1L639.4 399.0L638.6 397.4L636.7 398.3L637.4 399.5L637.7 401.0L638.5 403.0L640.4 403.8L640.4 405.4L639.5 406.5L638.5 405.0L637.3 403.8L635.8 404.4L634.0 404.7L632.1 405.0L630.3 405.6L628.4 406.3L626.7 407.4L624.8 408.4L623.0 408.9L624.9 410.2L625.3 412.2L627.0 412.9L628.6 414.1L628.1 416.6L628.0 418.5L626.7 420.2L625.4 420.2L623.9 421.1L622.4 419.8L621.2 419.3L621.0 417.2L620.3 415.7L618.7 415.9L616.6 416.6L615.3 416.0L613.9 415.7L612.9 416.9L611.1 417.5L609.7 418.0L608.3 418.9L606.6 418.4L604.4 418.1L602.9 416.6L601.4 415.8L601.4 413.8L601.5 411.6L602.0 410.2L601.0 408.5L601.4 406.5L599.7 407.5L598.3 409.3L596.9 410.3L595.6 411.1L594.3 410.6L592.9 410.2L591.9 411.5L590.8 412.6L590.1 413.8L588.2 413.6L586.5 414.7L584.9 414.9L583.6 414.4L581.9 413.8L580.3 413.8L579.1 412.5L577.9 413.8L577.3 415.7L575.3 416.3L573.7 416.6L571.8 415.7L570.0 414.7M505.9 225.9L505.0 227.3L504.6 229.1L504.9 230.9L504.2 232.9L502.9 233.8L502.9 235.9L503.6 237.2L504.1 238.4L503.9 240.2M442.5 232.2L444.0 230.9L445.0 232.9L443.5 234.2ZM504.0 239.1L503.8 241.0L504.9 242.8L504.9 244.6L503.9 246.3L503.1 248.2L504.7 249.4L505.5 249.8L506.7 251.0L507.7 252.1L509.0 253.3L510.4 253.7L511.7 254.7L514.1 254.5L515.0 256.5L516.7 257.3L518.6 258.3L520.4 258.7L521.4 257.9L521.1 259.2L520.5 260.5L518.5 260.9L516.8 261.6L515.0 261.2L513.1 260.5L511.5 260.6L509.5 261.0L510.0 262.8L508.6 263.8L509.7 265.2L511.3 265.6L510.9 266.7L510.4 268.3L511.9 268.2L513.1 269.3L514.7 267.4L516.8 267.4L518.5 266.5L520.5 266.5L521.0 267.9L522.3 269.3L521.8 271.0L520.5 272.0L521.7 272.9L523.2 273.8L523.7 275.4L525.0 276.6L523.8 277.1L522.3 277.5L520.4 277.4L519.5 275.7L518.2 274.8L516.8 273.8L516.1 272.3L515.0 271.1L514.8 273.0L514.1 274.7L515.4 276.2L516.8 277.5L518.5 278.3L519.9 278.5L521.4 279.3L522.8 279.5L524.5 279.3L525.9 280.2L527.6 278.9L529.6 278.4L531.4 278.5L533.3 278.8L533.2 280.7L531.4 281.7L529.3 282.5L527.8 283.5L526.3 284.1L525.0 284.8L523.5 285.7L522.3 285.7L523.1 287.3L523.2 289.4L522.2 291.0L521.9 292.3L521.4 293.9L520.5 293.1L519.5 292.1L520.6 289.8L520.1 287.9L519.0 286.4L517.7 284.8L517.0 283.2L515.9 281.1L515.3 279.6L513.1 279.9L512.2 278.8L510.2 278.8L508.6 278.4L507.4 280.2L505.8 281.1L505.0 282.6L504.9 283.9L504.0 282.2L503.1 281.1L502.9 279.1L502.2 277.5L500.8 277.1L499.4 275.7L498.5 276.5L497.6 277.5L498.6 279.5L499.4 281.1L499.1 283.3L498.5 284.8L497.6 286.4L496.7 287.5L495.8 285.9L494.9 283.9L494.6 282.2L493.9 280.2L492.7 279.3L492.1 277.5L490.9 278.0L489.4 278.4L489.9 280.6L491.2 282.1L490.3 283.8L489.4 285.7L488.8 287.7L487.9 289.4L486.7 290.6L485.7 292.1L485.1 290.3L483.9 288.5L484.6 286.9L484.8 284.8L484.1 283.3L483.0 281.1L482.1 283.1L481.1 284.8L480.5 286.7L479.3 288.5L478.7 290.1L477.5 291.2L476.4 291.9L475.7 293.0L474.7 294.3L472.9 294.9L474.2 296.3L473.8 298.1L475.2 299.1L476.6 299.4L478.1 299.0L479.3 297.6L480.4 296.9L481.1 295.8L482.4 296.7L483.9 296.7L484.8 298.4L484.8 300.3L484.8 302.6L483.9 304.0L485.0 303.2L486.6 303.1L487.1 301.4L487.5 299.4L487.8 298.0L488.5 296.7L488.9 297.9L488.2 299.9L489.0 301.3L488.7 303.1L490.0 303.8L490.3 305.8L490.8 307.3L491.3 308.9L491.9 310.6L492.1 312.2L493.6 313.8L493.0 315.9L491.8 316.3L490.3 316.8L488.8 315.1L488.5 313.1L487.9 311.4L488.0 310.3L487.2 308.6L486.2 307.0L485.7 304.9L483.9 304.0M494.9 294.9L496.0 296.6L496.7 298.5L496.6 300.2L497.3 301.8L495.8 303.1L496.8 304.5L497.6 306.7L497.2 308.4L496.7 310.4L498.0 311.6L499.4 313.1L500.9 312.5L503.1 312.2L504.9 313.5L503.6 314.0L502.0 314.8L501.3 315.9L500.3 317.2L499.4 318.6L501.0 320.0L502.2 321.4L501.8 323.3L501.3 325.0L501.7 326.6L503.1 327.8L503.1 329.9L502.2 331.4L500.9 332.3L499.7 333.4L498.5 334.2L497.6 336.0L499.7 336.3L501.3 335.4L503.4 335.7L504.9 336.5L505.6 337.8L505.8 340.0M488.5 247.3L489.9 246.2L491.2 244.6L493.0 244.0L495.0 243.6L496.7 242.7L498.8 242.7L500.1 242.9L501.3 242.2L501.9 243.4L503.1 244.6L500.8 245.1L500.3 247.3L499.0 247.8L497.3 248.4L495.8 248.2L494.0 248.5L492.1 249.1L490.1 248.9ZM470.2 261.6L470.6 260.1L472.5 259.7L473.5 261.0L474.7 261.6L474.0 263.1L472.9 263.8L471.8 262.7ZM493.4 260.5L494.4 259.5L495.8 258.3L496.8 259.4L497.6 260.5L497.3 262.6L495.4 262.7L494.2 262.0ZM500.3 263.8L500.9 262.2L500.4 260.8L501.3 259.2L503.0 259.7L504.0 258.3L504.8 259.6L505.5 261.0L504.3 262.2L503.1 263.4L501.6 263.3ZM501.3 330.0L499.7 330.9L498.8 332.7L497.6 333.7L498.5 335.9L500.2 335.9L501.5 334.8L503.1 335.1L504.0 336.5L505.4 337.5L506.7 338.2L507.8 339.9L508.6 341.9L510.0 342.8L511.3 343.7L513.0 342.7L515.1 342.7L516.8 341.9L518.5 341.6L520.4 341.0L522.3 340.6L521.4 342.4L519.8 343.9L517.6 343.9L515.9 344.3L514.1 344.5L511.8 345.1L510.4 345.5L508.4 346.0L506.5 345.5L504.9 346.1L503.2 346.2L501.5 345.2L500.3 346.8L499.4 348.3L501.0 348.7L502.2 348.7L504.0 349.2L505.6 349.3L507.9 349.1L509.5 350.1L510.8 350.8L513.3 350.4L515.0 350.5L516.5 350.1L518.1 351.5L519.5 351.0L518.6 353.4L517.4 352.8L515.7 352.7L514.1 352.9L512.9 353.7L512.2 354.7L513.8 355.8L515.0 357.4L516.6 357.7L516.8 359.6L515.0 359.5L513.1 358.9L511.2 358.8L509.5 358.3L507.5 359.0L505.8 360.2L504.6 361.3L503.1 362.6L502.2 363.8L500.3 364.7L499.5 365.5L498.5 366.6L497.2 368.0L495.8 368.8L495.8 371.1L497.5 371.9L499.4 372.1L501.3 372.6L502.8 372.1L504.9 372.4L507.1 372.3L509.1 373.0L509.8 375.3L508.2 374.5L506.7 374.8L505.1 374.9L503.7 374.3L502.2 375.3L500.3 375.5L499.1 376.7L497.6 376.6L495.4 377.2L494.9 379.4L494.3 381.0L493.9 383.0L494.1 384.9L493.0 386.7L494.5 388.1L493.4 388.7L492.1 389.4L491.3 390.8L490.3 392.2L489.4 394.4L487.7 395.4L485.7 394.9L487.1 396.3L489.0 395.8L489.0 397.8L489.7 399.5L491.4 400.2L492.1 402.2L493.4 403.4L494.5 405.0L494.5 406.6L493.9 408.3L492.6 408.2L491.2 409.5L490.3 408.2L489.4 406.8L488.5 405.5L488.5 404.1L488.0 402.7L486.6 402.2L485.3 402.5L483.9 402.8L483.0 405.0L484.2 406.0L484.8 407.7L483.0 407.9L481.1 408.6L479.9 407.6L478.4 406.8L477.0 406.0L475.7 405.0L474.2 405.8L472.9 405.9L472.6 404.7L471.1 404.1L472.8 403.6L473.8 402.2L475.0 401.4L476.6 401.7L477.9 402.5L479.3 403.1L480.3 402.1L481.7 401.7L483.9 400.4L485.1 401.9L486.6 400.9M481.1 371.7L483.0 370.2L484.2 371.7L482.4 373.2ZM468.3 406.4L468.9 404.7L470.1 403.6L471.1 402.7L472.6 402.2L474.7 401.5L473.5 402.7L473.8 404.6L475.1 405.9L476.6 405.5L477.3 406.7L479.3 407.3L480.5 407.8L481.1 409.1L481.8 407.2L483.0 406.4L482.2 404.3L482.1 402.7L484.0 402.5L485.7 401.8L487.6 401.9L489.4 400.9L491.5 402.1L493.0 402.7L494.1 404.5L494.9 406.4L494.0 407.8L493.0 409.1L490.8 408.5L489.4 408.2L487.8 407.2L486.6 405.5L485.7 407.1L484.8 408.2L483.1 408.4L482.1 410.1L479.8 409.8L478.4 409.1L476.8 408.2L474.7 408.2L472.9 407.8L471.1 407.7L470.0 406.6ZM483.9 411.0L484.9 412.1L485.8 413.3L487.5 413.7L489.4 413.1L491.2 412.8L492.2 413.6L493.0 414.6L491.7 416.0L490.3 417.4L489.0 418.2L487.5 419.2L488.5 421.1L490.3 421.9L489.3 423.3L488.5 424.7L489.9 425.0L492.1 425.6L494.0 424.4L495.8 423.8L497.6 423.7L499.4 422.9L499.3 421.1L500.3 419.2L501.9 418.9L503.1 418.3L503.4 420.2L504.0 421.9L505.8 423.0L507.7 422.9L508.6 424.7L506.5 424.5L504.9 425.2L503.2 425.5L501.3 425.6L499.8 426.2L497.6 427.4L495.6 427.7L493.9 428.3L492.1 429.5L490.3 429.3L489.0 430.5L489.4 432.0L490.7 432.8L492.1 433.8L493.9 434.3L494.9 432.9L496.7 432.8L498.5 433.8L500.2 433.9L502.2 434.7L503.7 435.4L504.9 436.6L503.6 435.9L502.2 435.7L500.5 436.4L498.5 435.7L496.6 436.6L494.9 436.6L493.0 436.7L493.0 438.4L491.4 438.2L489.4 437.5L488.4 436.0L486.6 435.7L487.5 433.9L487.5 432.0L487.3 430.5L486.6 429.3L485.1 429.1L484.8 427.4L484.0 428.8L483.0 430.2L482.3 432.2L482.4 433.8L482.9 435.1L483.9 436.6L485.1 437.9L485.7 439.3L487.4 439.7L488.5 440.2L489.8 440.8L491.2 441.7L492.9 440.8L494.9 441.1L496.7 441.7L498.5 440.6L500.3 441.3L500.3 443.0L498.7 442.1L497.6 443.9L497.1 445.5L495.8 446.6L495.9 448.4L496.7 450.3L498.1 452.2L498.5 453.9L498.2 455.9L499.4 457.6L500.9 457.5L502.2 458.1L503.6 457.0L504.9 455.8L506.4 454.3L506.7 452.1L508.1 450.8L509.5 449.4L510.8 447.7L512.2 446.6L513.4 444.9L514.1 443.0L513.7 440.9L515.0 439.3L516.3 439.3L517.7 438.8L518.5 440.5L518.3 443.0L517.9 444.6L517.7 446.6L519.4 447.4L519.5 449.4L520.7 449.0L522.3 449.7L522.9 448.2L524.9 447.7L525.9 446.6L527.1 445.4L528.3 443.7L529.6 442.4L529.9 441.0L531.7 440.2L532.3 438.8L534.0 437.3L535.1 435.7L536.8 434.8L538.7 433.8L539.6 432.5L541.5 432.5L542.4 431.4L543.2 430.4L544.8 429.3L546.1 428.3L547.6 428.3L548.8 427.4L548.8 429.1L549.7 430.2L551.1 429.1L553.4 429.3L554.9 430.5L554.3 432.0L552.6 433.1L550.6 433.8L549.1 434.6L547.9 435.7L546.2 436.3L545.1 437.5L544.2 439.0L542.4 439.3L541.2 440.5L540.2 441.7L541.5 443.9L543.1 443.2L545.1 443.0L546.7 441.8L548.8 441.1L550.5 441.2L551.5 442.4L553.6 442.8L555.2 443.9L557.6 443.7L558.9 442.4L557.5 441.5L557.0 440.2L555.7 440.3L554.3 439.3L554.9 438.2L556.1 437.5L557.8 438.3L559.8 438.4L561.8 438.4L563.4 437.5L564.5 436.3L565.3 434.7L563.9 433.5L562.5 432.9L561.1 431.5L559.8 430.2L559.3 428.4L557.9 426.5L555.9 426.0L555.2 423.8L557.3 423.9L558.9 422.9L560.5 422.7L561.9 421.8L563.4 421.6L564.4 420.7L565.7 419.7L566.2 418.3L566.1 420.3L567.1 421.9L567.6 423.4L568.1 425.2L568.0 426.5L567.5 428.5L569.1 429.2L568.9 431.1L569.4 433.0L570.7 434.7L572.1 434.4L573.5 433.8L574.5 432.5L574.9 431.0L576.2 430.2L578.3 429.3L579.0 427.4L580.4 426.4L581.7 425.6L582.4 423.9L582.6 421.9L580.8 422.4L579.0 422.9L577.2 424.1L575.3 423.8L573.6 423.0L572.6 421.9L571.3 420.6L570.7 418.3L570.7 416.8L569.8 415.5L570.9 414.6L572.6 414.3L574.5 415.0L576.2 415.5L577.2 414.1L579.0 412.8L580.8 413.4L582.6 413.7L584.6 414.1L586.3 414.6L587.9 415.8L589.0 417.4L589.0 419.7L588.1 421.0L589.1 422.8L589.0 424.7L590.5 426.0L591.8 427.4L593.2 428.2L595.4 429.3L596.9 429.6L598.3 429.8L600.0 430.2M471.4 450.3L472.3 449.2L472.3 447.6L473.8 446.6L474.7 445.6L476.7 445.1L477.5 443.9L478.3 442.5L480.0 442.8L481.1 441.7L482.7 440.6L484.8 440.6L486.8 440.7L487.9 442.4L488.8 444.1L489.7 445.7L488.5 447.2L488.5 449.0L487.2 450.0L485.9 450.2L484.8 451.6L483.3 452.5L481.8 453.1L480.2 453.4L478.9 455.0L477.1 454.4L475.7 454.5L474.3 453.3L472.9 453.0L472.8 451.5ZM457.4 428.3L459.5 427.9L460.1 426.0L461.7 425.1L463.8 425.6L464.7 427.4L463.7 429.0L461.9 428.9L462.7 430.4L463.8 431.1L462.7 432.0L462.9 433.8L461.4 433.4L459.7 433.3L459.1 431.8L457.9 431.1L457.5 429.7ZM463.8 419.2L465.8 418.3L466.5 416.8L468.2 416.1L470.2 416.5L471.1 418.7L469.9 420.3L468.3 420.5L466.9 420.7L465.6 420.5ZM470.2 421.9L471.7 421.2L472.9 420.5L473.3 421.7L474.7 422.9L473.3 424.1L473.8 425.6L474.6 426.8L475.7 428.3L474.6 429.0L473.8 430.2L472.3 429.5L471.1 428.3L471.5 427.2L471.4 425.6L470.8 423.6ZM466.0 437.5L467.2 436.8L468.3 435.7L469.8 436.2L471.1 437.5L471.3 439.3L470.2 440.6L468.8 441.2L467.4 442.1L466.5 439.9ZM465.6 458.1L467.8 457.0L468.9 457.3L470.5 458.0L470.0 459.1L468.3 459.6L467.0 458.8ZM498.5 468.6L499.7 467.3L500.7 466.2L501.9 464.8L502.2 463.1L503.6 462.4L504.9 462.5L504.7 464.2L504.0 465.5L505.3 466.0L506.7 464.9L508.3 465.4L509.1 466.7L508.7 468.3L508.6 469.8L506.2 469.1L505.1 468.3L504.0 467.3L502.8 468.5L501.8 469.5L499.4 469.8ZM520.8 465.5L522.1 464.0L523.2 463.3L524.4 464.3L525.9 464.9L525.1 466.4L524.5 467.7L523.2 468.7L521.9 467.7ZM538.7 447.9L540.0 446.7L541.5 445.7L543.6 446.6L545.1 445.3L546.1 446.2L547.0 447.2L546.0 448.5L545.1 449.4L543.4 450.7L541.5 450.3L540.1 449.1ZM561.0 447.9L562.2 447.1L563.4 446.1L564.7 447.0L566.2 447.5L565.3 449.7L564.0 450.1L562.5 450.3L562.0 449.3ZM580.8 436.6L580.2 434.7L581.2 432.9L582.2 431.7L583.0 430.7L583.5 431.9L584.8 432.5L584.3 434.7L585.4 436.2L584.0 437.1L583.5 438.8L581.7 438.4ZM578.6 443.0L579.7 442.1L580.8 441.3L582.3 442.0L583.4 443.0L582.3 445.2L579.9 444.8ZM530.9 453.9L532.2 453.7L533.3 452.7L534.0 453.9L535.1 454.5L536.9 454.9L535.5 455.2L534.7 456.3L532.3 455.8ZM505.8 454.9L507.2 453.9L508.0 452.1L509.8 451.9L511.3 451.6L512.6 452.3L513.1 453.4L513.5 455.4L512.2 456.3L510.8 457.2L509.5 458.1L508.0 458.4L506.7 457.6L505.9 456.5ZM515.3 454.9L516.4 452.9L518.6 453.4L520.3 454.1L522.3 453.9L523.2 455.8L522.2 456.7L520.5 457.0L518.6 455.9L516.8 456.7ZM549.3 474.1L550.6 475.0L551.9 477.2L550.4 476.1ZM479.3 416.1L480.6 415.4L481.3 416.8L480.0 417.6ZM630.3 419.3L631.6 418.0L633.1 417.5L634.9 417.8L636.7 418.0L637.9 416.9L639.5 416.6L640.4 415.4L640.4 413.8L641.7 412.6L643.1 412.0L644.2 410.8L644.1 409.3L645.9 410.2L645.7 411.8L646.4 413.8L647.2 415.7L647.7 417.5L647.7 419.2L646.8 421.1L645.6 422.1L644.1 423.0L644.7 424.8L645.0 425.7L643.6 427.1L642.2 427.9L641.5 429.5L639.5 430.3L637.3 429.0L638.1 427.4L638.0 425.7L636.3 425.9L634.9 424.8L633.7 423.4L632.2 423.5L630.7 421.7ZM622.1 423.0L624.0 423.2L624.9 421.7L627.0 423.0L626.5 424.2L626.7 425.7L626.0 426.8L624.5 427.2L622.7 425.7L622.6 424.1ZM611.3 423.2L613.0 421.9L614.6 423.2L613.2 424.6ZM650.8 407.8L653.2 407.1L654.1 409.3L652.6 411.1L651.2 410.0ZM612.4 434.9L614.8 434.1L616.2 434.3L617.2 435.4L615.7 437.0L613.5 436.7ZM587.4 423.0L586.8 420.9L588.3 419.3L589.3 417.8L591.0 416.6L592.5 416.4L593.8 415.7L595.0 416.5L595.6 417.5L596.7 416.6L598.3 416.6L599.4 417.7L601.1 418.4L601.9 420.3L602.5 421.7L602.4 423.3L601.4 424.8L602.8 426.2L602.9 427.5L600.8 428.2L600.2 430.3L599.1 431.6L597.4 431.2L596.8 429.5L595.6 428.5L594.7 428.9L592.9 429.4L591.3 429.3L590.1 427.9L589.0 426.9L588.3 425.7L588.3 423.8ZM596.0 420.2L595.9 418.6L597.4 418.0L598.5 419.0L600.2 418.8L600.1 420.5L600.7 421.3L599.8 422.5L598.3 422.8L596.5 422.1ZM570.0 418.4L571.7 418.3L572.8 418.5L574.6 419.3L576.9 419.8L578.2 421.1L579.8 421.4L581.4 421.7L582.8 422.1L581.3 423.6L581.9 425.7L580.2 426.3L579.1 427.9L577.5 429.6L575.5 429.4L574.4 430.5L573.7 432.1L572.7 433.4L571.8 434.9L570.0 435.8M580.6 434.9L581.0 433.3L581.9 432.1L584.3 431.6L584.6 433.3L585.5 434.9L585.4 436.8L584.6 438.1L583.2 438.0L581.9 438.9L581.1 437.1ZM578.6 442.5L579.3 441.7L581.0 441.4L582.3 442.2L583.5 443.1L582.8 445.3L581.1 445.3L580.1 444.9L579.4 443.7ZM696.2 432.1L696.5 433.6L697.1 434.9L695.5 436.3L696.2 438.5L695.3 440.1L694.3 442.2L693.5 443.8L692.9 445.8L692.7 447.9L691.6 449.5L691.6 451.0L690.7 452.2L691.3 453.5L691.6 455.0L689.8 455.3L689.8 456.8L688.3 456.1L687.9 454.1L687.4 452.9L687.0 451.3L686.0 452.2L685.2 453.1L683.0 452.2L683.6 450.2L682.5 448.6L683.4 447.5L684.3 446.2L684.3 444.0L684.4 442.5L685.3 440.5L685.6 439.4L686.2 437.5L687.0 435.8L687.9 434.3L689.8 433.4L691.7 432.7L693.4 431.7L694.6 431.7ZM679.7 454.1L681.3 454.5L682.5 453.1L683.6 454.3L684.8 455.0L685.9 455.7L687.0 456.8L688.1 458.6L687.9 460.5L688.0 462.6L686.7 464.1L684.6 465.3L684.8 467.8L684.0 469.5L682.5 470.5L681.3 470.9L679.7 471.4L678.6 469.6L677.0 470.5L676.1 468.6L675.7 466.9L676.1 465.3L676.2 463.9L676.4 462.3L677.4 461.1L677.1 459.4L677.5 457.7L678.2 456.5L679.0 455.2ZM475.1 524.0L475.3 522.4L475.3 520.6L477.0 519.3L477.1 517.7L478.3 516.2L479.3 514.2L481.0 513.7L482.6 512.7L484.3 512.2L485.3 511.3L486.9 510.6L488.2 509.8L490.2 509.7L492.3 509.7L493.6 509.1L495.2 508.4L497.0 507.8L499.0 507.7L500.4 506.6L502.2 507.0L504.0 506.5L505.6 506.8L507.6 507.5L509.0 506.7L511.2 506.6L512.8 506.8L514.6 506.5L516.7 507.1L518.3 507.2L520.3 507.2L521.4 508.6L523.1 509.6L524.9 509.7L525.1 511.6L527.2 512.1L527.4 513.9L527.1 515.5L526.3 516.7L525.9 518.2L524.2 519.2L523.1 519.8L521.9 521.4L520.3 522.2L518.7 523.2L517.5 524.2L515.5 524.4L514.1 525.3L512.3 525.9L510.2 525.7L508.5 526.3L507.0 527.0L505.3 527.3L503.9 528.7L502.5 528.3L500.7 528.4L499.4 529.1L497.7 529.0L495.8 529.1L493.8 529.5L492.1 529.9L490.2 529.8L488.7 530.3L486.8 530.0L485.3 530.9L483.9 531.5L482.3 530.4L480.5 530.7L478.9 529.8L477.3 528.6L477.6 526.6L475.9 525.6ZM707.9 492.2L708.3 490.8L708.5 489.8L709.5 488.1L710.8 487.3L712.5 486.5L714.2 487.2L715.6 487.7L717.3 489.4L718.0 491.2L717.5 493.0L717.2 494.6L716.1 496.1L714.6 497.3L712.9 497.5L711.5 497.9L710.1 496.6L709.1 495.9L708.2 494.1ZM698.5 512.1L700.3 510.7L702.4 511.9L700.7 513.6L699.4 513.0ZM688.1 532.5L688.8 530.2L690.2 528.8L690.7 527.3L692.3 526.5L692.8 525.1L693.2 523.6L694.2 522.1L695.7 521.7L696.5 520.0L698.9 519.0L700.2 517.5L701.8 517.6L703.4 519.0L703.1 521.0L701.4 522.3L700.5 523.8L699.3 525.1L697.4 526.0L696.9 528.4L695.1 529.3L694.2 531.3L692.3 532.0L691.2 533.3L690.0 532.8ZM670.0 526.8L671.4 526.1L672.1 524.7L673.1 525.8L674.5 526.0L673.7 527.6L673.3 528.8L670.8 528.8ZM733.9 510.9L732.3 511.4L730.8 510.5L729.5 509.9L728.4 508.5L726.8 508.5L724.8 508.2L722.7 508.5L722.3 510.0L721.2 511.2L719.7 511.5L718.7 513.1L718.0 515.0L718.8 516.6L720.7 517.6L720.2 519.4L719.7 520.7L717.8 521.0L715.6 519.7L713.5 519.2L711.5 518.6L709.7 518.9L707.9 519.7L705.8 519.2L704.4 518.6L703.7 520.9L702.4 521.7L702.4 524.0L701.8 525.8L701.6 527.5L703.6 528.4L703.4 529.8L705.0 530.5L706.4 531.9L707.9 532.7L709.5 533.3L709.7 535.3L711.5 535.9L710.2 536.7L709.5 538.0L708.4 539.2L707.9 541.0L707.5 542.4L707.1 544.1L706.4 545.1L706.9 546.5L708.1 547.3L707.9 549.1L709.2 550.5L710.5 552.2L711.5 553.2L712.7 554.3L713.6 555.2L714.4 556.7L715.1 557.6L716.6 558.3L718.2 559.9L719.2 561.4L719.5 563.0L720.7 564.4L719.8 566.0L718.6 567.5L716.7 568.5L716.0 570.5L714.7 572.0L714.0 573.6L715.1 573.1L716.6 572.5L717.8 571.6L718.8 570.7L719.7 569.5L720.2 567.8L721.7 566.6L722.7 565.4L723.9 564.0L724.1 562.8L724.7 561.4L725.8 560.2L726.6 559.2L727.8 558.3L729.5 557.7L730.8 556.3L732.5 555.2L733.9 554.8M711.5 535.9L712.8 536.7L713.1 538.3L714.6 539.0L716.0 540.1L717.6 541.0L719.5 540.9L720.7 540.0L722.2 540.7L723.7 541.0L724.6 542.7L726.8 543.0L728.2 544.4L728.8 546.1L729.5 547.5L730.8 549.1L732.8 549.5L733.9 551.2M714.6 541.0L715.6 543.0L715.6 545.1L716.6 546.2L717.0 547.8L717.6 549.1L718.4 550.5L718.6 552.2M721.1 514.2L722.7 512.5L724.5 514.2L724.0 515.4L722.9 516.2L722.4 514.7ZM637.9 569.5L638.5 568.3L639.0 566.9L639.3 565.4L640.0 564.2L641.3 563.7L642.4 562.4L641.7 561.0L641.4 559.7L642.9 559.5L644.4 558.9L645.8 560.2L647.5 560.9L649.1 560.4L650.5 559.7L652.5 560.3L654.0 559.2L654.6 557.3L656.4 556.5L657.6 555.7L659.1 555.0L660.7 554.2L661.7 553.5L662.5 552.0L663.7 551.2L664.9 549.6L666.8 550.2L667.6 548.7L668.8 547.1L668.9 545.0L669.8 543.0L669.8 541.1L670.8 539.0L671.9 537.1L671.9 534.9L672.5 533.3L673.0 535.2L673.3 536.9L673.2 538.9L672.5 541.0L673.3 542.5L673.3 544.1L674.9 544.7L676.9 546.1L675.7 547.5L674.9 549.1L673.6 550.3L671.9 551.2L670.0 552.3L669.8 554.2L668.3 555.3L666.8 555.7L665.2 556.5L663.7 556.9L662.1 557.3L660.7 558.3L659.2 559.0L657.6 559.7L656.6 561.5L656.6 563.4L657.0 565.1L657.6 566.4L655.7 566.6L654.6 567.9L653.6 569.3L652.5 570.5L650.8 570.0L649.5 569.5L648.6 570.9L647.5 572.5L645.8 572.5L644.4 571.5L642.9 571.2L641.4 571.1L639.3 571.9L638.4 571.0ZM653.6 558.3L655.0 556.9L656.6 558.1L655.0 559.7ZM659.7 555.7L661.3 554.4L662.7 555.9L661.1 557.3ZM665.1 551.6L666.8 550.8L668.0 552.4L666.4 553.6ZM733.9 581.7L731.6 581.9L729.8 582.7L729.4 585.1L728.8 586.8L729.5 588.0L730.6 589.4L730.2 590.8L729.6 592.8L729.0 594.9L729.9 595.9L730.8 596.9L732.6 597.4L733.9 598.0M708.5 635.6L709.6 633.4L709.5 631.5L710.6 630.0L711.9 628.5L713.0 627.3L714.6 626.0L715.3 625.0L717.2 624.8L718.0 626.8L716.9 628.4L716.0 630.1L714.8 631.4L713.6 632.9L712.3 634.0L711.1 635.6L709.5 636.6ZM721.1 621.3L722.2 620.3L723.3 619.9L724.9 620.7L726.2 621.1L726.0 622.8L724.7 623.4L723.1 623.0L722.1 623.2Z"/>
<path d="M197.6 78.5V678.3" stroke="#000" stroke-opacity="0.5" stroke-width="1.39" stroke-dasharray="1.39 2.29" stroke-dashoffset="0.4" fill="none"/>
<path d="M64.5 612.4H731.4" stroke="#000" stroke-opacity="0.5" stroke-width="1.39" stroke-dasharray="1.39 2.29" stroke-dashoffset="-0.85" fill="none"/>
<path fill="#000" d="M58.1 82.2L76.0 84.1L75.5 82.5L82.6 85.6L75.0 87.1L75.8 85.7L57.9 83.8ZM174.4 84.8L209.7 82.8L208.9 81.4L216.4 83.3L209.1 86.0L209.8 84.5L174.4 86.4ZM69.5 137.1L104.5 140.2L103.9 138.7L111.1 141.6L103.5 143.2L104.4 141.9L69.3 138.7ZM167.6 140.8L200.4 140.6L199.7 139.1L207.1 141.4L199.7 143.7L200.4 142.3L167.6 142.4ZM167.6 153.4L198.6 154.2L198.0 152.7L205.3 155.2L197.8 157.3L198.6 155.9L167.6 155.0ZM104.0 161.2L137.6 162.8L136.9 161.3L144.2 164.0L136.7 165.9L137.5 164.5L104.0 162.8ZM114.9 195.9L141.4 197.8L140.8 196.4L148.0 199.2L140.4 200.9L141.3 199.5L114.7 197.5ZM255.1 205.0L278.2 209.8L277.8 208.2L284.6 212.0L276.9 212.7L277.9 211.5L254.7 206.6ZM179.0 234.4L197.2 240.2L196.9 238.6L203.3 243.0L195.6 243.0L196.7 241.8L178.4 236.0ZM121.4 249.0L140.6 255.1L140.4 253.6L146.7 258.0L139.0 257.9L140.1 256.8L120.8 250.6ZM56.3 251.7L65.2 254.8L65.1 253.2L71.3 257.8L63.6 257.6L64.7 256.4L55.7 253.3ZM143.3 267.8L159.8 274.8L159.7 273.2L165.6 278.2L157.9 277.4L159.1 276.4L142.7 269.4ZM272.1 103.1L302.7 98.5L301.8 97.2L309.5 98.4L302.5 101.8L303.0 100.2L272.3 104.7ZM272.2 162.7L297.8 163.8L297.2 162.4L304.5 165.0L297.0 167.0L297.8 165.5L272.2 164.3ZM272.5 243.9L292.6 252.0L292.5 250.4L298.5 255.3L290.8 254.7L292.0 253.6L271.9 245.5ZM405.0 80.5L418.3 76.4L417.3 75.2L425.0 75.2L418.6 79.6L418.9 78.0L405.6 82.1ZM376.0 147.6L399.9 143.3L398.9 142.0L406.6 142.9L399.7 146.5L400.2 144.9L376.4 149.2ZM386.0 160.9L408.7 156.6L407.7 155.3L415.4 156.2L408.6 159.8L409.0 158.3L386.4 162.5ZM422.0 163.0L443.1 157.8L442.1 156.5L449.8 157.0L443.2 161.0L443.5 159.4L422.4 164.6ZM291.0 185.1L314.3 188.4L313.8 186.9L320.8 190.2L313.1 191.4L314.0 190.1L290.8 186.7ZM396.4 226.6L414.1 224.5L413.3 223.2L420.9 224.6L413.8 227.7L414.3 226.2L396.6 228.2ZM458.1 229.5L475.5 225.9L474.5 224.6L482.2 225.4L475.4 229.1L475.8 227.6L458.5 231.1ZM386.3 272.6L403.5 273.8L402.9 272.4L410.1 275.2L402.5 276.9L403.4 275.5L386.1 274.2ZM520.7 112.4L540.4 103.8L539.2 102.8L546.9 101.9L541.0 107.0L541.1 105.4L521.3 114.0ZM504.3 155.4L523.4 149.0L522.3 147.9L530.0 147.7L523.7 152.2L523.9 150.6L504.9 157.0ZM609.1 122.3L625.1 110.2L623.7 109.5L631.0 106.9L626.5 113.2L626.2 111.6L610.1 123.7ZM574.0 194.5L595.4 180.1L594.0 179.3L601.4 177.1L596.5 183.1L596.3 181.5L575.0 195.9ZM579.2 191.2L590.1 185.1L588.8 184.2L596.4 182.6L591.0 188.2L590.9 186.6L580.0 192.6ZM636.8 177.3L650.8 167.9L649.4 167.0L656.8 164.8L652.0 170.9L651.7 169.3L637.8 178.7ZM636.4 221.4L651.3 214.2L650.0 213.2L657.7 212.0L652.1 217.3L652.1 215.7L637.2 223.0ZM643.8 256.2L657.0 249.8L655.7 248.8L663.4 247.6L657.8 252.9L657.8 251.3L644.6 257.8ZM558.1 287.5L571.8 280.6L570.6 279.7L578.2 278.4L572.6 283.8L572.6 282.2L558.9 289.1ZM692.2 116.9L707.0 112.0L705.9 110.8L713.6 110.7L707.3 115.2L707.5 113.6L692.8 118.5ZM729.0 191.8L741.3 188.4L740.3 187.2L748.0 187.5L741.5 191.7L741.8 190.1L729.4 193.4ZM218.8 326.3L235.0 335.1L235.1 333.5L240.5 339.1L232.9 337.6L234.2 336.6L218.0 327.7ZM256.5 324.5L274.0 333.1L274.0 331.5L279.6 336.8L271.9 335.6L273.2 334.6L255.7 326.1ZM55.4 351.2L66.9 356.5L66.8 354.8L72.6 360.0L64.9 359.0L66.1 358.0L54.6 352.8ZM148.9 358.4L161.9 364.8L162.0 363.2L167.6 368.5L159.9 367.3L161.2 366.3L148.1 360.0ZM170.4 377.3L186.0 383.0L185.8 381.4L192.0 386.1L184.3 385.7L185.4 384.6L169.8 378.9ZM55.2 393.2L81.3 398.9L81.0 397.4L87.7 401.2L80.0 401.9L81.0 400.6L54.8 394.8ZM58.2 398.4L69.9 400.9L69.6 399.4L76.3 403.2L68.6 403.9L69.6 402.6L57.8 400.0ZM220.0 393.6L240.1 401.1L240.0 399.5L246.1 404.2L238.4 403.8L239.5 402.7L219.4 395.2ZM271.6 399.1L294.6 407.0L294.4 405.4L300.7 410.0L293.0 409.8L294.1 408.6L271.0 400.7ZM174.1 421.0L199.5 427.6L199.2 426.0L205.8 430.1L198.1 430.5L199.1 429.2L173.7 422.6ZM121.3 431.6L148.6 436.8L148.2 435.2L155.0 438.9L147.3 439.8L148.3 438.5L120.9 433.2ZM294.2 322.2L313.5 330.8L313.5 329.2L319.3 334.3L311.6 333.4L312.8 332.4L293.6 323.8ZM347.8 333.5L368.3 340.4L368.1 338.8L374.4 343.4L366.7 343.2L367.8 342.1L347.2 335.1ZM449.0 298.3L465.8 296.8L464.9 295.4L472.5 297.1L465.3 300.0L465.9 298.5L449.2 299.9ZM448.1 344.8L464.0 345.5L463.4 344.0L470.7 346.6L463.2 348.6L464.0 347.2L448.1 346.4ZM329.4 391.6L353.7 399.8L353.5 398.2L359.8 402.7L352.1 402.5L353.2 401.4L328.8 393.2ZM426.2 405.7L448.0 409.7L447.5 408.2L454.4 411.8L446.7 412.7L447.7 411.4L425.8 407.3ZM370.9 443.4L398.0 452.0L397.7 450.4L404.1 454.8L396.4 454.8L397.5 453.6L370.3 445.0ZM430.4 445.9L454.9 452.0L454.6 450.5L461.2 454.5L453.5 454.9L454.5 453.7L430.0 447.5ZM391.6 463.0L418.6 471.6L418.3 470.0L424.7 474.4L417.0 474.4L418.1 473.2L391.0 464.6ZM501.4 335.8L517.3 333.6L516.5 332.3L524.1 333.6L517.1 336.9L517.6 335.3L501.6 337.4ZM594.3 358.4L609.2 355.2L608.2 354.0L615.9 354.7L609.1 358.5L609.5 356.9L594.7 360.0ZM568.0 365.2L584.5 363.5L583.7 362.1L591.3 363.7L584.2 366.7L584.7 365.2L568.2 366.8ZM506.0 376.0L521.7 376.5L521.1 375.0L528.4 377.6L520.9 379.6L521.7 378.2L506.0 377.6ZM514.2 410.7L530.2 413.4L529.8 411.8L536.7 415.3L529.0 416.3L530.0 415.0L514.0 412.3ZM545.2 450.7L559.7 453.8L559.3 452.2L566.1 456.0L558.4 456.7L559.4 455.4L544.8 452.3ZM665.7 392.2L672.3 386.9L670.8 386.2L678.0 383.3L673.7 389.8L673.3 388.2L666.7 393.6ZM646.6 427.5L651.7 424.9L650.4 423.9L658.0 422.5L652.5 428.0L652.5 426.4L647.4 429.1ZM676.1 367.6L683.6 362.6L682.3 361.8L689.7 359.6L684.8 365.6L684.6 364.0L677.1 369.0ZM676.9 292.5L687.0 288.2L685.8 287.1L693.5 286.3L687.6 291.3L687.7 289.7L677.5 294.1ZM709.3 396.4L713.5 393.6L712.2 392.8L719.6 390.6L714.7 396.6L714.5 395.0L710.3 397.8ZM194.7 489.8L228.1 498.8L227.8 497.2L234.3 501.4L226.6 501.7L227.6 500.5L194.3 491.4ZM56.2 495.4L85.7 504.2L85.5 502.6L91.9 506.9L84.2 507.0L85.2 505.8L55.8 497.0ZM229.9 524.5L265.8 535.1L265.6 533.5L272.0 537.8L264.3 537.9L265.3 536.7L229.5 526.1ZM130.1 544.6L159.8 552.4L159.5 550.8L166.1 554.9L158.4 555.2L159.4 554.0L129.7 546.2ZM56.2 543.3L78.2 549.5L77.9 548.0L84.4 552.2L76.7 552.4L77.7 551.2L55.8 544.9ZM151.5 563.4L182.0 572.3L181.7 570.7L188.2 575.0L180.5 575.1L181.5 573.9L151.1 565.0ZM221.2 562.2L255.8 573.3L255.6 571.7L261.9 576.1L254.2 576.0L255.3 574.9L220.6 563.8ZM74.5 574.7L100.3 582.4L100.1 580.8L106.5 585.1L98.8 585.2L99.8 584.0L74.1 576.3ZM56.3 582.6L83.2 590.9L83.0 589.3L89.4 593.7L81.7 593.7L82.7 592.5L55.7 584.2ZM227.6 623.8L259.3 639.6L259.3 638.0L264.9 643.4L257.3 642.2L258.5 641.2L226.8 625.4ZM270.4 624.8L303.0 642.5L303.1 640.9L308.5 646.5L300.9 645.0L302.2 644.0L269.6 626.2ZM80.0 651.7L102.2 662.8L102.2 661.2L107.8 666.6L100.2 665.3L101.4 664.4L79.2 653.3ZM210.8 659.8L244.7 679.8L244.8 678.2L250.0 683.9L242.5 682.1L243.8 681.2L210.0 661.2ZM327.4 500.6L362.5 511.8L362.3 510.3L368.6 514.7L360.9 514.6L362.0 513.5L326.8 502.2ZM282.2 513.9L317.5 525.6L317.3 524.0L323.6 528.5L315.9 528.4L317.0 527.2L281.6 515.5ZM343.8 538.8L380.2 551.7L380.0 550.1L386.2 554.7L378.5 554.4L379.6 553.3L343.2 540.4ZM312.3 567.7L347.8 580.7L347.6 579.1L353.8 583.8L346.1 583.4L347.2 582.3L311.7 569.3ZM451.9 568.7L487.9 581.8L487.7 580.2L493.9 584.9L486.2 584.5L487.3 583.4L451.3 570.3ZM478.7 592.7L515.1 605.9L514.9 604.3L521.1 609.0L513.4 608.6L514.5 607.5L478.1 594.3ZM391.2 602.4L426.5 619.0L426.5 617.4L432.2 622.6L424.5 621.5L425.8 620.5L390.4 604.0ZM445.2 610.7L482.5 628.0L482.5 626.4L488.2 631.6L480.5 630.6L481.8 629.6L444.4 612.3ZM332.8 621.3L365.5 638.1L365.6 636.5L371.1 641.9L363.5 640.6L364.7 639.6L332.0 622.9ZM355.5 663.4L380.0 680.7L380.3 679.2L385.0 685.3L377.6 682.9L379.0 682.1L354.5 664.8ZM575.2 490.0L591.4 495.2L591.2 493.6L597.5 498.1L589.8 498.0L590.9 496.8L574.6 491.6ZM549.6 522.4L573.6 530.0L573.3 528.4L579.7 532.8L572.0 532.8L573.1 531.6L549.0 524.0ZM632.7 532.5L650.5 538.2L650.3 536.6L656.6 541.1L648.9 541.0L650.0 539.9L632.1 534.1ZM645.8 548.9L664.8 554.3L664.5 552.7L671.0 557.0L663.3 557.2L664.3 556.0L645.4 550.5ZM678.7 551.9L695.9 555.6L695.6 554.1L702.3 557.9L694.6 558.6L695.6 557.3L678.3 553.5ZM541.5 577.3L573.8 587.6L573.5 586.0L579.9 590.4L572.2 590.4L573.3 589.2L540.9 578.9ZM603.5 614.2L636.5 622.6L636.2 621.0L642.8 625.1L635.1 625.5L636.1 624.3L603.1 615.8ZM585.2 624.5L619.0 634.5L618.8 632.9L625.2 637.2L617.5 637.3L618.5 636.1L584.8 626.1ZM566.6 635.6L601.4 646.2L601.2 644.6L607.6 649.0L599.9 649.0L600.9 647.9L566.2 637.2ZM507.3 646.7L541.7 662.1L541.7 660.5L547.5 665.6L539.8 664.7L541.0 663.6L506.7 648.3ZM654.2 657.6L691.2 667.2L690.9 665.6L697.5 669.7L689.8 670.1L690.8 668.8L653.8 659.2ZM707.7 616.4L733.7 623.0L733.4 621.4L740.0 625.5L732.3 625.9L733.3 624.7L707.3 618.0Z"/>
</g>
<rect x="64.5" y="78.5" width="666.9" height="599.8" fill="none" stroke="#000" stroke-width="1.1"/>
<path d="M64.5 78.5h-4.9M64.5 612.4h-4.9M197.6 678.3v4.9M731.4 678.3v4.9" stroke="#000" stroke-width="1.1" fill="none"/>
<text x="52.2" y="84.3" font-size="20.83" text-anchor="end" textLength="42.3" lengthAdjust="spacingAndGlyphs">40°N</text>
<text x="53.0" y="619.3" font-size="20.83" text-anchor="end" textLength="41.5" lengthAdjust="spacingAndGlyphs">32°N</text>
<text x="197.6" y="702.7" font-size="20.83" text-anchor="middle">122°E</text>
<text x="731.4" y="702.7" font-size="20.83" text-anchor="middle">130°E</text>

<defs><linearGradient id="cbg" x1="102.0" x2="693.7" y1="0" y2="0" gradientUnits="userSpaceOnUse"><stop offset="0.0000" stop-color="#fff7ec"/><stop offset="0.0312" stop-color="#fff3e3"/><stop offset="0.0625" stop-color="#feefda"/><stop offset="0.0938" stop-color="#feecd1"/><stop offset="0.1250" stop-color="#fee8c8"/><stop offset="0.1562" stop-color="#fee3bd"/><stop offset="0.1875" stop-color="#fddeb3"/><stop offset="0.2188" stop-color="#fdd9a8"/><stop offset="0.2500" stop-color="#fdd49e"/><stop offset="0.2812" stop-color="#fdce97"/><stop offset="0.3125" stop-color="#fdc791"/><stop offset="0.3438" stop-color="#fdc18a"/><stop offset="0.3750" stop-color="#fdba83"/><stop offset="0.4062" stop-color="#fdaf79"/><stop offset="0.4375" stop-color="#fca36e"/><stop offset="0.4688" stop-color="#fc9863"/><stop offset="0.5000" stop-color="#fc8c59"/><stop offset="0.5312" stop-color="#f98254"/><stop offset="0.5625" stop-color="#f57850"/><stop offset="0.5938" stop-color="#f26e4c"/><stop offset="0.6250" stop-color="#ef6447"/><stop offset="0.6562" stop-color="#e9573d"/><stop offset="0.6875" stop-color="#e24933"/><stop offset="0.7188" stop-color="#dc3c28"/><stop offset="0.7500" stop-color="#d62f1e"/><stop offset="0.7812" stop-color="#cd2316"/><stop offset="0.8125" stop-color="#c4170f"/><stop offset="0.8438" stop-color="#bb0b07"/><stop offset="0.8750" stop-color="#b20000"/><stop offset="0.9062" stop-color="#a50000"/><stop offset="0.9375" stop-color="#970000"/><stop offset="0.9688" stop-color="#8a0000"/><stop offset="1.0000" stop-color="#7f0000"/></linearGradient></defs>
<rect x="102.0" y="770.6" width="591.7" height="29.799999999999955" fill="url(#cbg)"/>
<path d="M103.5 770.6L102.0 770.6L72.1 785.5L102.0 800.4L103.5 800.4Z" fill="#fff7ec"/>
<path d="M692.2 770.6L693.7 770.6L723.0 785.5L693.7 800.4L692.2 800.4Z" fill="#7f0000"/>
<path d="M102.0 770.6L693.7 770.6L723.0 785.5L693.7 800.4L102.0 800.4L72.1 785.5Z" fill="none" stroke="#000" stroke-width="1.1" stroke-linejoin="miter"/>

<path d="M102.0 800.4V805.3" stroke="#000" stroke-width="1.1"/><text x="101.4" y="821.8" font-size="17.2" text-anchor="middle">0.0</text><path d="M249.9 800.4V805.3" stroke="#000" stroke-width="1.1"/><text x="249.3" y="821.8" font-size="17.2" text-anchor="middle">0.0125</text><path d="M397.9 800.4V805.3" stroke="#000" stroke-width="1.1"/><text x="397.2" y="821.8" font-size="17.2" text-anchor="middle">0.025</text><path d="M545.8 800.4V805.3" stroke="#000" stroke-width="1.1"/><text x="545.2" y="821.8" font-size="17.2" text-anchor="middle">0.0375</text><path d="M693.7 800.4V805.3" stroke="#000" stroke-width="1.1"/><text x="693.1" y="821.8" font-size="17.2" text-anchor="middle">0.05</text>
<text x="769.2" y="787.2" font-size="20.83" font-weight="bold" font-style="italic">SO2 (ppbv)</text>
</svg>
</body></html>
